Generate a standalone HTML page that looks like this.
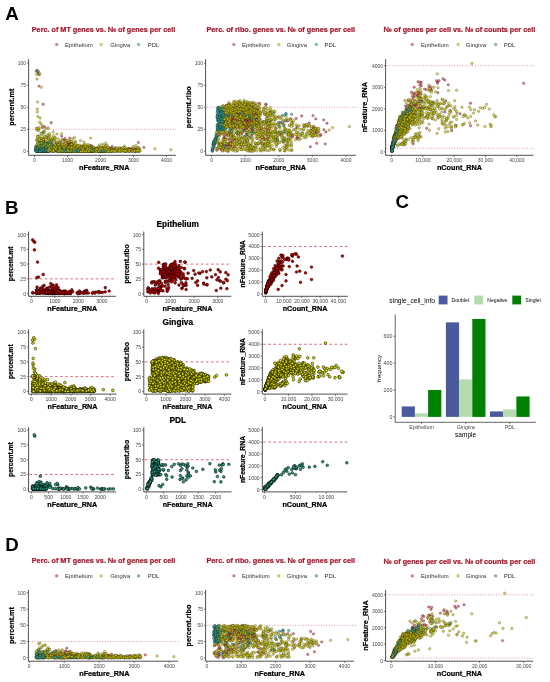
<!DOCTYPE html>
<html><head><meta charset="utf-8"><style>html,body{margin:0;padding:0;background:#fff;width:550px;height:682px;overflow:hidden}</style></head><body><svg width="550" height="682" viewBox="0 0 550 682" style="display:block;filter:blur(0.3px)">
<defs><marker id="m0" markerUnits="userSpaceOnUse" markerWidth="4.34" markerHeight="4.34" refX="2.17" refY="2.17" overflow="visible"><circle cx="2.17" cy="2.17" r="1.22" fill="#e04858" fill-opacity="0.68" stroke="#000" stroke-opacity="0.55" stroke-width="0.45"/></marker><marker id="m1" markerUnits="userSpaceOnUse" markerWidth="4.34" markerHeight="4.34" refX="2.17" refY="2.17" overflow="visible"><circle cx="2.17" cy="2.17" r="1.22" fill="#dcd418" fill-opacity="0.68" stroke="#000" stroke-opacity="0.55" stroke-width="0.45"/></marker><marker id="m2" markerUnits="userSpaceOnUse" markerWidth="4.34" markerHeight="4.34" refX="2.17" refY="2.17" overflow="visible"><circle cx="2.17" cy="2.17" r="1.22" fill="#3aaea2" fill-opacity="0.68" stroke="#000" stroke-opacity="0.55" stroke-width="0.45"/></marker><marker id="m3" markerUnits="userSpaceOnUse" markerWidth="4.7" markerHeight="4.7" refX="2.35" refY="2.35" overflow="visible"><circle cx="2.35" cy="2.35" r="1.35" fill="#cc0000" fill-opacity="1" stroke="#000" stroke-opacity="1" stroke-width="0.5"/></marker><marker id="m4" markerUnits="userSpaceOnUse" markerWidth="4.7" markerHeight="4.7" refX="2.35" refY="2.35" overflow="visible"><circle cx="2.35" cy="2.35" r="1.35" fill="#e0e000" fill-opacity="1" stroke="#000" stroke-opacity="1" stroke-width="0.5"/></marker><marker id="m5" markerUnits="userSpaceOnUse" markerWidth="4.7" markerHeight="4.7" refX="2.35" refY="2.35" overflow="visible"><circle cx="2.35" cy="2.35" r="1.35" fill="#2f9e82" fill-opacity="1" stroke="#000" stroke-opacity="1" stroke-width="0.5"/></marker></defs>
<g font-family='"Liberation Sans", sans-serif'>
<rect width="550" height="682" fill="#fff"/>
<text x="5.2" y="13.5" font-size="18.7" text-anchor="start" font-weight="bold" fill="#000" dominant-baseline="central">A</text>
<text x="5.1" y="207" font-size="18.7" text-anchor="start" font-weight="bold" fill="#000" dominant-baseline="central">B</text>
<text x="395.5" y="201.3" font-size="18.7" text-anchor="start" font-weight="bold" fill="#000" dominant-baseline="central">C</text>
<text x="5.2" y="544" font-size="18.7" text-anchor="start" font-weight="bold" fill="#000" dominant-baseline="central">D</text>
<text x="103.5" y="29.4" font-size="7.25" text-anchor="middle" font-weight="bold" fill="#a5162a" dominant-baseline="central" stroke="#a5162a" stroke-width="0.22">Perc. of MT genes vs. № of genes per cell</text>
<text x="280.8" y="29.4" font-size="7.25" text-anchor="middle" font-weight="bold" fill="#a5162a" dominant-baseline="central" stroke="#a5162a" stroke-width="0.22">Perc. of ribo. genes vs. № of genes per cell</text>
<text x="459.5" y="29.6" font-size="7.25" text-anchor="middle" font-weight="bold" fill="#a5162a" dominant-baseline="central" stroke="#a5162a" stroke-width="0.22">№ of genes per cell vs. № of counts per cell</text>
<circle cx="56.7" cy="44.5" r="1.35" fill="#e04858" fill-opacity="0.75" stroke="#000" stroke-opacity="0.4" stroke-width="0.4"/>
<text x="65.1" y="44.5" font-size="5.95" text-anchor="start" font-weight="normal" fill="#333" dominant-baseline="central">Epithelium</text>
<circle cx="101.2" cy="44.5" r="1.35" fill="#dcd418" fill-opacity="0.75" stroke="#000" stroke-opacity="0.4" stroke-width="0.4"/>
<text x="110.2" y="44.5" font-size="5.95" text-anchor="start" font-weight="normal" fill="#333" dominant-baseline="central">Gingiva</text>
<circle cx="138.6" cy="44.5" r="1.35" fill="#3aaea2" fill-opacity="0.75" stroke="#000" stroke-opacity="0.4" stroke-width="0.4"/>
<text x="147.7" y="44.5" font-size="5.95" text-anchor="start" font-weight="normal" fill="#333" dominant-baseline="central">PDL</text>
<circle cx="233.9" cy="44.5" r="1.35" fill="#e04858" fill-opacity="0.75" stroke="#000" stroke-opacity="0.4" stroke-width="0.4"/>
<text x="242" y="44.5" font-size="5.95" text-anchor="start" font-weight="normal" fill="#333" dominant-baseline="central">Epithelium</text>
<circle cx="278.8" cy="44.5" r="1.35" fill="#dcd418" fill-opacity="0.75" stroke="#000" stroke-opacity="0.4" stroke-width="0.4"/>
<text x="286.8" y="44.5" font-size="5.95" text-anchor="start" font-weight="normal" fill="#333" dominant-baseline="central">Gingiva</text>
<circle cx="316.4" cy="44.5" r="1.35" fill="#3aaea2" fill-opacity="0.75" stroke="#000" stroke-opacity="0.4" stroke-width="0.4"/>
<text x="324.5" y="44.5" font-size="5.95" text-anchor="start" font-weight="normal" fill="#333" dominant-baseline="central">PDL</text>
<circle cx="412.3" cy="44.5" r="1.35" fill="#e04858" fill-opacity="0.75" stroke="#000" stroke-opacity="0.4" stroke-width="0.4"/>
<text x="421" y="44.5" font-size="5.95" text-anchor="start" font-weight="normal" fill="#333" dominant-baseline="central">Epithelium</text>
<circle cx="458.1" cy="44.5" r="1.35" fill="#dcd418" fill-opacity="0.75" stroke="#000" stroke-opacity="0.4" stroke-width="0.4"/>
<text x="465.8" y="44.5" font-size="5.95" text-anchor="start" font-weight="normal" fill="#333" dominant-baseline="central">Gingiva</text>
<circle cx="495.7" cy="44.5" r="1.35" fill="#3aaea2" fill-opacity="0.75" stroke="#000" stroke-opacity="0.4" stroke-width="0.4"/>
<text x="503.8" y="44.5" font-size="5.95" text-anchor="start" font-weight="normal" fill="#333" dominant-baseline="central">PDL</text>
<path d="M29.6,129.26H177.8" stroke="#e06a7a" stroke-width="0.8" stroke-dasharray="1 1.6" opacity="0.85"/>
<path d="M206.6,107.23H357.8" stroke="#e06a7a" stroke-width="0.8" stroke-dasharray="1 1.6" opacity="0.85"/>
<path d="M386.6,65.7H535.2" stroke="#e06a7a" stroke-width="0.8" stroke-dasharray="1 1.6" opacity="0.85"/>
<path d="M386.6,148.24H535.2" stroke="#e06a7a" stroke-width="0.8" stroke-dasharray="1 1.6" opacity="0.85"/>
<path d="M79.3 149.5 76.1 150.7 59.4 148.4 58.5 149.2 59.1 148.2 56.1 149.3 36.3 71.1 143.9 147.4 49.9 148.8 65.7 148.3 68.1 150.5 54.1 147.6 72.5 146.2 108.9 147.9 72.9 146.5 109.7 147.9 44.6 126.6 61.0 149.2 78.1 149.8 70.5 141.5 69.1 149.1 36.3 150.0 46.1 150.2 59.3 150.9 70.5 150.3 63.5 145.6 108.6 150.1 52.5 149.9 114.7 150.5 62.0 147.3 64.9 149.9 62.1 147.2 53.1 150.3 41.6 146.4 43.8 147.8 58.6 148.5 64.3 150.8 58.0 147.0 49.2 143.7 124.0 150.5 111.5 150.4 55.6 149.5 51.7 150.0 79.7 147.7 88.7 150.8 51.3 149.9 86.2 150.0 66.5 147.5 107.4 150.2 74.1 148.7 46.6 150.5 71.4 148.1 88.3 150.7 71.4 147.0 54.0 147.9 48.0 150.1 84.6 150.5 42.7 141.6 112.2 146.4 49.2 148.3 51.2 122.7 129.2 150.1 80.4 149.7 58.7 147.4 81.8 150.8 69.4 147.0 67.0 146.8 69.4 150.4 53.6 149.9 53.3 148.6 64.6 150.5 56.5 144.1 39.3 74.7 60.0 141.8 64.3 150.8 74.1 147.5 66.9 151.2 68.8 149.8 43.5 148.3 101.6 150.4 70.9 143.5 54.8 146.6 59.2 150.2 51.8 148.2 73.9 151.1 50.7 148.5 70.4 145.4 77.1 149.2 69.2 150.2 56.1 150.4 41.6 150.3 63.4 146.3 51.0 140.2 74.2 147.2 65.5 147.6 59.1 148.4 38.9 86.1 50.5 144.0 69.2 145.6 62.5 147.6 75.6 148.9 55.5 149.0 64.9 140.4 69.6 150.3 62.8 148.9 46.6 148.1 71.6 150.2 56.8 148.3 69.1 141.8 47.6 142.9 84.4 149.8 48.2 148.5 63.0 140.0 66.3 151.1 52.5 139.2 59.3 148.0 89.9 151.1 58.9 150.2 56.2 149.3 54.5 145.7 76.5 150.8 81.4 151.3 74.0 148.4 103.0 150.6 54.2 146.2 125.0 149.1 75.2 147.1 62.8 148.2 57.6 150.8 48.8 144.6 62.2 149.9 80.4 150.9 74.6 150.8 60.4 148.0 42.5 150.4 112.6 150.4 72.2 142.6 61.7 147.0 51.7 148.1 87.9 148.5 86.2 151.0 55.8 149.1 48.0 148.7 64.2 144.2" fill="none" stroke="none" marker-start="url(#m0)" marker-mid="url(#m0)" marker-end="url(#m0)"/>
<path d="M102.6 148.2 60.2 149.5 80.8 151.2 71.6 150.4 81.1 150.8 71.6 146.2 41.6 150.3 38.1 73.4 42.3 146.2 120.3 150.8 37.1 150.4 61.7 136.2 105.5 150.1 72.2 149.7 54.9 150.8 45.9 150.5 58.9 150.1 68.6 143.4 76.9 149.7 56.7 147.0 138.4 142.5 100.9 151.1 65.2 149.9 64.0 151.0 60.4 150.9 66.9 148.7 57.4 149.7 61.1 149.9 74.6 150.1 42.7 144.9" fill="none" stroke="none" marker-start="url(#m0)" marker-mid="url(#m0)" marker-end="url(#m0)"/>
<path d="M80.6 149.7 66.8 150.7 43.5 149.6 51.8 149.9 123.8 150.6 43.7 149.1 98.1 150.8 66.2 149.4 45.1 141.5 59.4 150.4 42.4 125.7 136.4 151.2 62.5 150.7 64.9 151.1 50.6 148.6 85.5 151.2 68.2 149.1 66.6 151.2 47.1 146.4 88.0 150.2 41.6 149.7 61.7 150.9 86.3 149.0 41.6 150.8 40.8 150.7 64.9 150.7 91.7 151.3 93.3 149.9 120.9 151.0 102.9 150.8 65.3 151.0 139.1 150.7 45.8 145.7 38.5 151.0 91.5 148.6 48.3 145.0 78.5 147.0 133.2 148.6 93.0 150.7 71.9 149.5 53.4 149.8 88.5 150.9 93.3 151.2 50.7 147.4 103.9 150.7 59.4 150.7 36.5 150.9 48.0 150.1 65.0 148.3 92.9 148.7 117.0 150.3 58.0 151.0 115.1 151.0 73.8 145.6 64.7 150.1 64.9 150.0 48.2 137.8 96.3 151.1 55.8 148.7 49.0 145.6 111.9 150.5 44.5 149.7 79.8 150.8 119.2 150.1 86.5 149.2 95.4 148.0 56.9 150.2 75.1 150.1 124.5 149.5 40.7 144.5 131.7 150.3 62.6 149.8 91.0 148.7 86.7 150.0 120.5 150.5 106.4 148.6 99.0 151.1 76.6 145.5 77.6 150.1 135.7 150.5 66.3 150.0 46.3 143.3 117.6 148.9 66.7 149.8 60.7 151.0 90.9 150.7 65.8 151.0 51.7 143.5 80.2 149.3 63.8 150.3 89.2 148.0 100.3 149.6 74.3 147.3 44.4 142.6 45.2 149.4 69.0 149.0 101.5 149.7 105.6 150.8 50.6 139.2 75.0 149.7 101.5 151.1 47.5 150.6 57.0 146.6 125.0 150.8 65.6 148.9 49.7 142.8 46.5 137.0 130.6 150.3 43.8 151.1 78.6 150.5 104.1 150.6 64.2 149.8 49.1 146.8 99.0 151.2 64.6 150.1 50.2 148.7 41.1 124.0 36.9 148.3 114.7 148.5 72.3 150.9 106.6 151.1 44.4 137.4 92.6 149.7 109.2 151.2 65.3 151.1 45.4 145.4 84.1 145.1 87.2 151.0 44.3 151.1 61.0 147.9 135.0 151.1 87.8 151.2 77.1 148.5 103.0 149.0 42.1 149.1 73.7 150.9 61.5 150.0 75.2 150.0 40.0 150.2 62.5 150.9 41.2 142.4 79.3 149.4 57.4 144.3 49.4 148.7 97.9 149.8 47.8 142.8 46.7 145.7 37.7 145.8 89.1 149.4 45.3 144.2 87.2 148.2 80.9 147.6 76.2 150.2 80.2 150.6 41.1 148.9 93.1 149.2 131.3 148.6 64.0 150.8 79.3 149.4 41.6 142.5 48.9 150.8 135.9 151.2 89.8 151.3 68.6 150.3 51.5 148.4 58.2 138.9 37.6 135.9 53.3 131.9 104.4 150.3 44.7 147.7 133.8 150.6 89.0 150.8 105.6 149.5 79.5 147.3 62.4 149.7 63.1 150.8 123.5 150.6 70.8 150.7 45.0 142.4 125.4 148.7 92.0 146.7 85.3 149.7 91.5 149.5 59.6 150.8 110.1 149.9 67.9 151.1 117.5 149.4 53.4 150.6 84.6 151.2 57.4 150.4 71.8 150.3 53.0 148.0 42.8 151.1 97.6 147.8 90.9 148.5 87.8 151.3 84.0 142.2 90.0 145.5 139.1 150.2 103.6 149.8 79.3 150.4 37.2 149.6 49.4 149.4 136.8 148.5 98.3 148.8 74.8 149.8 40.1 144.0 132.8 149.0 48.3 136.9 71.9 149.6 100.7 151.0 57.8 151.2 60.9 150.7 94.6 150.6 128.0 151.0 45.6 150.1 98.4 149.0 71.2 149.5 63.7 149.6 72.6 150.9 41.5 149.2 69.4 144.3 103.6 148.4 71.6 149.8 62.7 150.0 98.4 151.1 88.2 146.4 116.7 151.2 98.7 147.5 68.8 150.3 57.9 144.7 39.4 149.9 133.9 149.9 38.6 141.5 52.3 147.3 61.5 150.6 81.9 150.7 65.9 150.9 106.7 150.3 98.7 150.9 41.7 138.4 55.1 147.4 76.2 150.9 46.8 135.1 63.8 150.5 81.7 146.9 64.8 150.4 126.2 151.0 105.5 150.6 41.5 149.5 69.8 150.3 127.4 150.8 111.9 151.0 83.8 145.1 90.3 147.0 39.5 139.5 50.9 150.0 55.1 146.9 99.8 150.6 75.2 150.4 82.2 150.8 66.6 146.1 72.2 150.6 44.6 131.4 48.0 143.5 132.7 150.1 97.2 149.3 37.6 151.2 86.4 149.2 74.1 150.7 59.6 150.1 56.1 142.3 98.2 151.0 55.0 149.3 102.4 150.9 100.2 149.4 89.8 151.1 42.3 148.9 69.5 150.7 63.9 150.2 47.1 150.4 90.0 147.6 79.9 150.4 85.2 149.1 83.8 151.1 45.2 136.6 138.1 149.2 88.1 150.6 109.4 150.3 54.3 147.3 40.5 150.7 69.2 150.9 112.1 148.9 61.8 147.4 55.2 151.0 133.0 150.4 136.7 150.4 73.0 150.2 99.1 149.8 86.3 151.3 39.8 73.7 138.3 150.1 72.1 147.7 42.3 150.4 55.5 145.1 64.4 147.6 52.1 150.4 53.4 148.1 124.1 150.4 53.0 150.6 57.5 150.7 89.5 150.6 120.4 148.0 120.3 149.5 47.1 150.2 64.9 146.4 47.4 148.9 102.8 151.2 67.9 151.2 39.4 147.6 72.6 150.0 42.2 147.2 52.7 149.5 72.8 149.1 51.9 150.7 103.6 151.3 40.8 150.5 73.9 150.7 104.9 148.6 89.7 149.3 101.5 147.7 65.7 151.1 36.8 140.1 37.6 150.9 77.9 149.2 65.3 147.6 78.2 151.3 48.9 142.8 43.0 148.3 131.9 151.0 45.8 150.7 85.7 149.4 111.7 150.4 103.6 147.7 63.1 151.0 88.2 148.0 62.9 149.4 58.5 151.1 104.1 150.5 85.8 148.5 112.2 151.0 61.9 139.7 36.5 74.6 136.2 149.2 104.4 150.5 76.5 150.6 66.1 149.5 104.8 146.7 62.9 150.3 43.9 140.3 81.0 149.7 90.7 150.9 56.5 151.1 66.5 150.3 87.2 147.3 116.5 150.8 132.6 148.9 65.1 149.6 105.4 145.8 82.3 150.1 69.8 150.4 74.1 144.0" fill="none" stroke="none" marker-start="url(#m1)" marker-mid="url(#m1)" marker-end="url(#m1)"/>
<path d="M48.5 146.4 46.4 150.9 39.6 151.1 41.7 147.8 39.9 150.6 47.3 148.4 102.3 151.2 38.3 149.9 48.2 150.8 39.5 150.9 43.7 151.0 39.2 149.2 46.8 150.8 39.6 141.6 47.3 146.7 37.2 151.2 54.9 150.5 70.5 151.2 42.1 151.1 38.5 149.8 42.4 150.1 48.2 150.9 47.5 150.1 45.4 150.5 41.9 150.8 46.2 150.5 45.8 150.2 43.8 151.1 40.0 148.8 47.8 146.1 45.9 151.2 61.0 150.6 41.3 149.9 39.6 150.4 39.9 148.7 38.1 146.8 98.0 149.7 37.1 150.9 40.9 147.7 46.6 150.7 45.5 148.1 46.9 149.1 42.0 151.0 48.2 150.1 52.2 148.5 47.2 150.9 46.7 151.2 73.5 150.1 41.8 147.6 35.9 149.5 35.8 147.7 59.2 142.5 40.3 146.1 94.2 150.9 42.7 150.3 48.9 150.5 108.2 151.1 43.6 149.0" fill="none" stroke="none" marker-start="url(#m2)" marker-mid="url(#m2)" marker-end="url(#m2)"/>
<path d="M46.9 145.9 78.7 150.8 101.8 149.6 80.9 149.7 67.7 151.0 50.6 147.2 54.7 148.4 61.0 149.3 89.2 149.0 41.8 150.9 53.2 149.9 73.1 150.5 73.3 149.7 68.6 142.3 46.6 148.3 67.2 148.8 99.4 151.1 67.3 144.7 63.0 150.8 59.1 148.4 63.0 149.1 48.8 148.7 42.2 127.5 138.3 148.7 46.7 148.8 50.2 149.4 79.8 150.2 121.3 149.5 75.1 149.5 64.5 144.4" fill="none" stroke="none" marker-start="url(#m0)" marker-mid="url(#m0)" marker-end="url(#m0)"/>
<path d="M51.4 150.8 69.6 150.0 49.8 149.8 63.9 150.4 99.6 150.9 72.8 149.8 63.5 146.5 40.8 151.2 88.8 147.3 130.3 150.9 102.6 150.0 56.5 150.0 48.2 145.1 90.1 151.3 107.2 149.8 81.9 149.4 42.2 149.7 43.6 149.6 83.6 148.1 49.6 136.1 75.8 150.0 66.2 149.7 60.2 149.7 92.4 151.0 115.2 147.9 51.1 149.5 79.4 149.7 58.1 151.2 60.5 150.0 72.9 151.1 37.4 149.6 65.4 146.7 98.9 146.4 62.6 149.0 75.8 151.3 40.0 143.2 134.6 150.8 105.0 150.1 81.4 148.1 103.2 151.2 77.5 145.4 107.1 150.8 120.9 148.4 78.2 151.0 109.2 150.8 55.7 149.9 55.4 149.5 72.3 150.6 86.1 150.7 71.1 141.4 66.5 146.9 120.0 150.0 60.4 146.7 74.0 147.2 75.5 141.3 134.3 149.8 72.1 149.1 85.4 150.9 41.9 150.5 65.7 140.4 78.8 150.4 49.8 148.3 78.7 150.2 100.4 148.7 100.6 151.0 60.2 149.3 45.4 149.6 41.0 151.1 38.8 144.6 45.0 144.6 37.5 149.5 44.3 148.8 59.6 151.2 124.4 151.2 72.7 150.0 46.8 145.1 89.4 150.8 102.8 151.1 96.5 148.3 62.4 148.7 78.0 151.2 102.4 151.1 83.7 149.5 41.8 150.7 61.2 150.4 51.6 139.5 124.3 146.0 91.6 151.2 56.7 144.0 51.0 150.4 66.0 151.0 83.0 146.7 38.8 149.9 47.6 149.7 109.3 151.2 71.2 148.3 37.6 144.3 80.9 147.3 170.8 149.8 56.3 149.9 46.6 149.5 55.5 148.6 50.4 147.8 75.2 147.6 118.5 149.7 44.9 151.3 64.0 149.2 46.1 143.4 81.8 148.6 36.8 147.2 89.0 148.2 57.0 150.8 66.1 150.1 105.3 150.8 37.7 150.2 91.1 149.8 80.2 151.0 45.8 149.4 84.6 148.6 58.3 150.8 100.9 151.0 63.4 148.8 48.8 148.5 70.1 149.8 117.5 151.0 65.9 150.2 105.0 150.8 37.4 140.8 75.6 148.9 62.1 150.6 74.9 150.5 110.4 150.9 38.6 148.1 106.6 150.8 88.4 151.3 70.1 144.2 82.6 148.0 104.5 150.9 45.7 151.1 98.5 150.6 53.9 139.9 65.4 150.3 58.9 149.1 101.8 149.8 126.3 148.5 61.0 149.4 39.6 144.2 110.9 148.9 97.8 151.1 70.4 151.1 138.2 150.5 57.3 149.2 105.7 150.4 42.2 146.3 62.6 150.1 51.3 141.0 126.7 150.2 79.5 146.8 132.1 149.7 55.8 150.1 104.6 150.5 45.0 128.3 107.3 150.8 138.7 150.8 63.8 151.3 123.6 149.3 48.5 138.9 53.8 147.6 89.8 149.5 87.9 151.2 41.3 149.4 124.4 149.7 107.1 145.3 70.0 145.1 109.1 151.2 54.1 150.9 97.4 151.3 41.8 147.3 80.4 147.5 58.5 150.2 114.1 149.5 85.0 150.1 51.2 143.9 51.5 149.2 72.7 150.9 53.0 149.0 64.7 150.8 42.7 151.1 70.0 150.7 83.2 151.1 37.3 139.9 45.4 150.9 65.0 149.8 109.4 148.7 111.5 149.7 118.3 151.2 110.3 151.3 46.6 146.3 62.8 148.6 94.2 149.5 62.8 150.7 44.2 143.2 93.6 149.5 55.6 146.0 40.1 118.0 130.3 149.5 49.8 149.4 42.2 150.8 49.3 148.8 66.7 149.0 86.5 147.1 47.7 150.9 75.2 150.4 40.4 147.1 92.1 150.7 133.8 150.2 135.1 149.7 78.0 148.1 130.0 151.2 101.6 151.1 52.1 148.7 45.6 149.5 45.0 150.8 58.9 149.3 62.3 149.6 86.6 149.5 48.3 150.5 138.8 151.3 70.1 149.7 134.6 148.0 86.5 149.9 67.6 150.6 84.2 150.4 38.8 146.3 50.1 145.7 104.9 149.1 118.1 150.5 62.6 150.3 59.1 146.4 126.2 151.2 84.6 149.2 52.7 145.0 42.9 151.3 39.0 143.1 81.2 148.6 139.3 150.9 51.4 151.2 111.5 150.9 132.4 150.7 124.1 151.2 58.3 142.4 69.9 150.2 44.7 151.1 82.0 151.2 100.8 150.8 57.2 146.6 118.1 150.1 86.9 146.7 80.0 148.6 58.0 146.1 36.6 149.3 79.6 151.2 90.8 151.0 44.9 149.4 98.3 149.5 40.4 143.9 78.1 149.6 113.8 150.5 134.9 151.1 93.7 147.7 79.1 149.5 38.6 150.6 73.4 151.2 65.8 148.1 126.0 150.8 54.7 148.8 82.8 150.3 84.5 150.4 101.9 150.5 62.5 140.6 84.3 148.8 67.2 149.5 72.7 145.9 68.3 146.4 113.1 150.8 118.3 150.9 36.7 144.8 59.5 150.9 105.7 149.1 88.2 151.2 100.4 149.9 43.4 132.1 61.2 149.6 57.2 146.1 37.6 148.1 47.2 150.8 98.0 150.6 66.4 151.1 132.1 151.3 128.5 150.3 71.7 149.5 138.5 150.0 133.3 146.5 59.9 150.0 137.5 151.0 36.7 151.0 50.6 150.7 69.7 150.2 80.1 148.7 55.5 147.9 95.8 150.8 43.2 141.1 61.3 149.9 67.8 150.0 44.4 149.7 45.9 148.3 55.0 137.3 64.0 145.2 68.1 151.1 106.3 148.9 49.4 150.9 68.9 150.5 45.7 149.1 56.6 148.6 69.9 144.7 68.0 149.4 38.0 150.1 46.9 149.6 45.7 145.1 119.3 150.9 72.0 150.5 37.9 147.9 86.5 148.1 59.3 149.9 114.8 148.8 133.6 149.0 61.3 149.9 91.8 146.7 61.3 145.3 37.6 151.0 47.6 128.4 127.3 150.7 133.6 150.9 46.6 146.3 63.4 151.3 129.1 149.8 80.3 150.7 37.0 79.0 41.6 147.0 55.8 146.4 99.8 150.7 88.1 148.2 85.8 150.8 91.6 151.1 68.2 149.2 63.4 150.6 113.9 150.9 61.0 143.4 82.9 146.3 96.4 148.6 103.8 151.2 71.2 150.2 55.7 148.9 106.7 148.5 57.9 151.1 67.4 140.2 57.6 150.8 85.8 151.0 90.8 151.0 63.7 145.6 73.0 138.7 87.8 151.2" fill="none" stroke="none" marker-start="url(#m1)" marker-mid="url(#m1)" marker-end="url(#m1)"/>
<path d="M41.8 150.2 44.3 144.3 44.3 145.5 37.5 150.1 45.9 150.7 110.4 150.6 38.7 151.1 62.2 151.0 39.3 150.0 38.4 150.6 93.2 150.9 43.7 149.1 37.9 149.1 36.7 151.1 36.6 150.1 40.0 148.3 36.5 150.3 40.1 143.2 42.8 150.8 36.6 151.0 39.1 150.5 36.4 149.5 44.4 148.1 46.0 150.0 69.2 150.7 44.9 150.3 36.1 150.3 46.8 148.9 37.1 70.2 37.0 151.3 41.8 139.8 43.6 144.2 68.5 149.7 59.5 150.7 36.6 149.8 37.0 149.5 41.3 145.9 40.6 149.9 43.7 140.7 68.7 151.2 102.0 150.5 37.8 146.0 113.1 150.9 65.4 151.0 43.2 151.1 42.7 150.2 48.1 147.2 43.5 148.3 39.9 150.5 37.8 151.3 37.3 147.2 35.8 150.2 69.2 149.6 48.4 150.6 38.5 151.2 42.8 148.9 61.6 151.0 40.6 150.5" fill="none" stroke="none" marker-start="url(#m2)" marker-mid="url(#m2)" marker-end="url(#m2)"/>
<path d="M63.4 150.3 99.0 149.7 91.4 145.6 44.7 149.1 74.7 150.6 57.5 150.2 53.8 148.8 71.3 149.4 68.4 149.9 73.5 148.1 102.1 147.6 67.3 142.6 131.8 149.4 92.5 148.5 69.9 138.1 54.3 149.5 47.6 144.5 71.4 150.8 83.9 151.1 129.3 148.8 67.3 150.3 48.3 149.0 108.6 150.6 63.3 148.4 49.6 150.6 82.0 149.9 87.1 148.8 45.6 148.1 44.6 150.7" fill="none" stroke="none" marker-start="url(#m0)" marker-mid="url(#m0)" marker-end="url(#m0)"/>
<path d="M99.5 150.3 64.0 143.6 65.7 147.8 62.9 145.1 103.7 145.7 65.3 142.2 53.7 150.9 61.6 133.7 49.2 142.0 43.0 146.5 70.2 150.3 131.8 151.1 98.9 150.7 56.1 149.9 103.4 149.7 135.0 151.3 37.4 146.6 50.8 145.7 83.8 151.0 59.7 145.0 44.1 132.3 46.0 144.3 55.0 144.8 104.8 147.2 56.6 148.8 52.4 137.8 67.8 147.3 154.9 148.7 81.4 149.5 66.5 151.0 40.6 147.2 100.6 149.8 40.8 150.4 89.2 149.3 74.5 147.9 55.1 139.0 111.6 149.1 44.9 149.5 68.4 151.2 108.6 151.2 99.5 144.9 45.4 147.1 93.0 151.2 54.1 149.6 54.0 148.8 72.4 149.5 65.9 150.8 101.5 149.7 133.2 148.3 120.4 148.9 58.8 146.2 38.8 150.3 61.4 148.0 65.6 143.7 65.8 150.8 119.1 147.7 71.9 150.9 91.0 150.4 93.6 148.7 77.0 148.0 77.5 148.3 57.5 149.3 36.5 128.2 64.8 146.0 138.7 150.3 75.8 145.7 47.0 151.0 92.7 149.4 106.5 150.2 69.2 150.8 80.7 145.9 41.4 133.3 72.1 150.8 60.1 149.8 83.5 150.4 64.5 150.1 57.0 142.7 103.1 151.2 116.2 148.0 101.0 147.1 81.1 146.6 60.5 149.7 105.7 143.1 44.1 150.4 121.5 150.8 87.3 144.7 46.8 144.5 121.7 148.8 63.6 146.7 103.3 150.5 68.2 148.8 97.6 150.9 44.1 150.1 95.2 151.2 44.2 149.8 99.2 149.6 52.7 151.1 78.8 150.1 41.4 138.2 51.1 149.0 59.2 148.3 84.0 145.9 54.7 149.1 45.8 148.7 55.9 148.7 76.4 149.8 50.8 143.5 110.0 149.0 45.7 149.2 93.1 147.1 67.1 150.8 78.9 151.0 90.8 148.9 63.7 150.5 59.5 150.0 76.1 149.5 65.0 148.8 79.8 145.0 89.0 149.1 102.6 150.0 72.6 148.8 48.5 150.8 55.0 146.6 71.4 149.0 43.8 149.6 43.3 141.0 41.3 148.7 79.3 149.2 95.8 151.2 89.2 148.8 90.4 146.7 109.6 150.7 60.9 150.9 135.1 151.0 72.5 148.4 111.9 151.3 64.8 150.1 138.0 147.6 60.8 148.7 38.4 71.1 90.5 150.5 87.2 146.7 90.7 151.3 68.1 148.5 86.2 149.5 74.7 144.7 53.6 140.2 68.0 147.9 107.5 148.1 45.5 143.9 57.5 150.5 92.3 150.6 38.3 136.6 66.4 151.1 44.4 149.4 47.6 146.6 131.2 150.6 41.4 87.3 95.4 150.0 80.5 140.6 105.9 146.0 63.9 148.4 52.2 149.0 67.2 150.9 135.6 150.2 61.0 150.1 66.1 148.4 75.3 142.6 61.6 144.1 51.5 148.3 71.1 144.0 92.4 151.1 55.8 147.5 58.0 150.8 57.8 145.8 71.7 149.5 40.7 151.3 81.1 150.6 124.4 150.1 101.3 149.5 88.3 150.6 70.9 148.2 101.4 150.2 53.1 149.9 97.8 150.6 42.2 149.2 71.4 150.8 73.7 151.1 37.0 130.0 41.2 151.0 125.5 151.0 36.6 150.4 39.7 148.8 117.8 149.3 118.6 150.2 66.1 149.8 106.0 150.2 58.7 149.9 61.4 147.3 45.9 148.5 70.7 145.7 82.3 150.1 50.0 148.1 89.4 149.8 76.6 150.9 48.8 151.3 118.1 150.2 56.0 145.9 76.5 146.8 93.4 149.8 43.3 138.8 41.5 149.8 103.6 151.0 60.0 145.2 139.9 150.7 122.9 147.6 47.3 151.1 101.2 150.6 52.5 150.5 91.3 149.5 84.0 150.6 60.3 149.1 129.0 149.5 63.1 150.2 90.7 151.1 65.0 149.5 37.6 142.6 48.8 134.1 68.9 149.0 96.4 148.7 41.2 146.0 101.1 150.0 122.5 150.6 42.0 151.3 49.8 146.1 87.5 149.4 128.5 149.8 84.1 150.7 43.0 150.2 38.5 130.1 129.2 150.5 48.3 128.1 121.3 150.6 57.7 151.0 69.3 149.9 38.1 151.1 62.5 151.0 81.1 147.9 97.5 149.2 88.2 149.9 125.9 150.4 72.8 151.2 93.2 150.3 39.0 143.7 42.2 148.9 87.5 151.2 37.7 148.0 53.7 150.8 44.6 148.4 55.2 146.1 38.5 128.4 49.3 143.4 138.5 151.0 116.0 151.2 84.1 150.2 126.0 151.2 51.7 150.2 66.6 150.1 87.5 148.0 105.4 149.2 50.7 146.8 79.7 147.9 53.7 141.4 103.1 151.2 49.1 150.8 38.0 151.0 50.2 148.8 36.7 151.0 51.0 149.2 106.9 148.8 44.5 146.7 128.6 151.0 39.5 122.2 54.4 150.0 70.3 148.3 99.6 148.7 66.5 149.2 50.3 150.3 53.7 149.4 129.3 150.2 57.5 149.3 100.7 150.8 107.3 151.0 38.7 149.2 57.7 150.8 92.4 150.7 55.3 146.9 43.4 139.7 85.2 144.8 61.4 149.7 65.8 150.6 80.1 149.9 51.5 145.3 75.0 150.8 80.8 149.9 79.1 151.1 61.5 150.0 89.7 150.3 62.5 149.6 106.8 147.6 126.2 150.0 68.7 146.9 115.4 150.3 129.5 151.1 39.4 149.3 50.7 150.7 38.3 151.0 97.3 150.5 50.0 145.4 53.9 146.6 44.5 150.4 40.8 136.6 66.1 150.9 95.3 151.1 64.2 148.7 43.4 149.4 78.3 147.7 73.1 149.7 60.3 151.3 96.8 148.6 115.0 149.7 37.9 147.8 90.3 147.4 47.9 151.2 54.0 150.8 82.4 148.9 96.5 151.1 38.7 151.1 59.8 148.6 121.6 150.6 60.1 150.6 76.8 151.1 41.6 148.2 51.9 150.7 66.4 149.0 71.9 147.1 53.5 148.5 138.2 151.2 60.8 147.9 46.9 150.0 93.2 147.8 127.9 148.7 120.9 151.2 58.9 151.2 49.0 148.9 65.8 147.8 56.6 150.8 44.6 139.5 59.2 150.4 57.2 147.5 69.4 148.7 41.2 150.7 61.6 145.6 63.4 145.7 80.9 150.3 37.3 137.9 48.5 147.7 64.4 149.7 37.9 149.9 80.1 150.4 124.9 147.7 95.9 149.8" fill="none" stroke="none" marker-start="url(#m1)" marker-mid="url(#m1)" marker-end="url(#m1)"/>
<path d="M69.2 149.1 59.9 145.1 36.3 149.8 40.3 149.6 35.6 149.6 40.6 148.7 38.5 147.6 79.2 151.2 39.4 150.7 37.8 72.0 60.9 151.1 41.8 145.3 43.8 150.1 35.6 146.4 39.8 149.2 41.3 150.8 103.9 151.1 47.0 147.0 49.5 145.9 41.5 147.7 38.8 148.8 45.4 151.0 36.9 150.7 77.0 150.9 93.4 150.9 37.4 147.3 40.4 151.0 47.8 146.8 35.9 151.1 43.5 142.8 80.6 150.9 49.6 144.1 48.6 148.9 48.2 149.8 48.8 151.3 42.9 148.1 38.2 151.1 86.6 149.4 70.5 151.1 41.0 150.7 47.3 151.3 47.7 150.9 60.6 150.9 42.7 150.3 43.8 146.7 52.1 142.7 45.1 147.8 35.9 149.1 39.5 150.4 44.6 150.9 43.6 150.8 57.6 144.2 49.1 148.3 35.8 147.3 40.2 149.7 52.9 146.8 51.5 144.9 44.6 151.2" fill="none" stroke="none" marker-start="url(#m2)" marker-mid="url(#m2)" marker-end="url(#m2)"/>
<path d="M56.7 150.2 134.4 149.5 71.0 147.0 72.6 149.0 42.9 148.8 75.4 149.5 71.8 144.0 49.7 149.4 55.2 148.6 64.9 138.6 75.0 149.8 129.0 148.5 56.4 143.3 71.5 148.2 41.9 150.4 57.5 150.6 71.1 148.7 70.4 145.3 80.2 148.7 53.9 148.4 82.4 147.3 61.5 149.7 64.6 150.1 111.3 148.5 61.4 147.8 62.9 149.8 46.4 150.4 43.2 104.2 59.0 149.2" fill="none" stroke="none" marker-start="url(#m0)" marker-mid="url(#m0)" marker-end="url(#m0)"/>
<path d="M53.4 135.5 62.1 145.9 54.6 150.1 37.2 109.0 41.3 146.1 64.3 150.1 71.8 144.2 71.0 151.0 49.6 144.6 86.5 149.5 69.4 147.0 112.2 150.4 72.5 147.9 66.8 151.2 47.7 150.8 95.2 150.6 43.4 139.6 73.8 142.9 93.8 151.1 64.6 150.4 92.9 149.7 67.8 151.2 66.1 149.2 93.2 149.4 93.5 150.2 119.0 151.2 116.7 148.2 88.9 144.9 101.7 148.7 81.9 151.2 130.1 149.6 62.4 144.5 49.6 148.9 134.2 151.1 64.8 150.0 71.9 141.4 81.0 150.5 71.2 149.4 56.7 142.2 101.4 150.1 123.8 151.1 55.4 148.6 47.2 145.7 72.1 150.3 123.4 149.2 70.0 148.3 48.3 149.9 64.4 149.8 86.5 150.4 54.7 150.8 42.7 150.4 99.4 148.2 54.2 139.2 106.3 150.9 88.0 148.0 121.9 149.4 138.9 150.8 61.9 150.4 79.9 149.8 67.3 149.1 135.9 151.3 122.7 150.1 45.1 151.2 55.0 138.4 40.9 133.6 76.3 150.6 90.6 148.0 51.8 150.8 109.3 151.2 44.6 151.3 60.3 147.6 134.4 150.1 128.0 150.9 58.8 147.1 82.9 147.6 77.6 151.1 107.5 150.8 36.8 128.7 57.0 133.9 88.6 151.1 50.8 148.4 44.9 150.6 62.3 151.3 38.6 151.2 101.5 149.8 71.0 151.3 105.2 151.2 41.1 140.6 59.2 150.7 38.4 151.3 111.5 151.3 47.9 149.3 77.7 145.6 92.9 150.4 58.3 150.4 68.9 149.0 43.0 149.2 38.9 136.4 74.8 151.2 70.2 149.9 79.1 148.5 44.9 148.5 65.5 151.3 43.1 149.7 68.1 149.3 48.8 149.8 37.3 150.0 64.4 144.2 105.3 151.0 69.2 140.4 37.5 150.8 71.9 147.8 70.4 150.8 68.5 150.8 90.6 138.1 75.6 148.4 111.0 150.8 55.8 148.9 59.6 143.9 73.6 149.4 75.2 150.8 68.3 148.4 81.2 147.7 47.7 149.9 44.3 148.3 48.3 149.9 139.6 148.1 37.4 146.9 99.0 148.2 74.5 145.7 88.3 149.3 66.2 146.0 83.8 150.3 42.9 149.2 105.0 151.3 91.1 150.9 41.2 150.6 49.6 149.7 81.9 149.5 98.8 150.8 67.6 149.9 85.5 146.5 77.8 150.9 37.3 112.0 60.4 150.2 36.5 148.4 59.7 150.1 74.1 145.9 108.6 149.5 78.5 150.0 50.7 146.9 104.0 151.1 69.5 146.6 46.2 148.7 101.4 150.5 96.6 148.4 98.4 150.6 97.0 149.4 111.7 149.9 138.9 149.5 134.4 151.1 53.9 150.5 36.8 140.6 64.1 147.0 68.4 151.3 42.3 148.9 137.9 147.7 92.4 149.4 100.3 150.3 100.3 148.7 69.2 146.4 49.3 150.0 73.6 149.4 101.6 150.2 89.0 148.4 103.1 149.6 63.7 150.4 70.3 151.1 59.8 142.0 74.1 149.4 41.7 143.0 120.7 150.8 89.2 150.3 60.1 148.8 93.3 151.0 55.7 149.9 74.8 151.0 73.5 148.2 37.9 136.7 105.8 149.0 89.1 149.8 114.2 151.0 73.9 149.8 39.1 127.8 89.7 151.2 71.5 144.6 40.8 150.3 73.3 148.7 116.1 149.5 77.9 150.3 82.8 151.0 47.7 149.6 106.5 149.7 106.0 151.0 71.8 150.9 58.7 150.3 75.5 144.0 129.3 150.9 140.0 150.8 39.0 139.9 47.4 148.5 102.5 150.8 74.3 148.3 44.9 149.3 70.7 150.6 45.4 149.1 90.5 150.7 51.2 146.4 44.6 150.2 38.6 130.5 45.0 148.9 56.2 147.2 79.3 148.8 80.3 151.3 46.4 149.1 43.2 134.6 72.1 147.5 136.9 150.2 112.9 150.5 129.1 151.0 60.1 151.2 44.5 150.7 51.8 150.2 74.6 137.4 39.0 149.0 42.3 148.9 55.3 144.7 37.0 151.2 122.5 150.5 63.5 147.6 126.4 150.5 77.4 147.1 64.2 147.8 108.4 151.0 66.5 151.0 112.5 150.3 132.2 150.7 54.7 148.0 93.3 150.1 45.1 150.7 123.9 150.6 74.9 151.2 53.5 150.6 38.3 147.1 65.0 151.2 76.7 149.2 64.2 149.2 49.1 137.9 91.1 150.6 52.9 147.6 59.7 147.2 71.0 151.1 117.2 148.5 106.4 149.5 85.6 150.7 89.6 148.9 68.9 151.3 45.8 149.5 58.0 151.3 59.8 148.5 50.3 150.1 79.9 148.1 70.6 148.3 86.7 150.0 66.9 150.8 88.6 151.3 114.1 151.1 96.1 149.4 74.9 150.1 80.9 151.2 61.6 149.9 42.4 148.6 48.2 150.7 89.4 150.4 45.8 137.8 58.6 151.2 108.0 147.3 115.6 150.7 111.7 151.1 63.5 151.1 136.9 150.7 39.9 147.1 125.0 151.0 79.0 145.9 45.9 147.0 83.3 150.1 49.6 147.7 49.8 134.1 82.3 149.0 61.4 151.3 68.5 147.2 58.4 144.4 49.9 142.2 67.8 150.0 57.1 150.5 102.3 144.0 38.5 144.9 113.4 150.7 73.8 150.4 69.0 141.9 49.2 148.7 40.1 148.9 125.5 150.8 90.6 149.4 129.2 149.9 42.5 148.0 104.7 150.1 58.0 151.2 68.7 147.2 41.1 149.2 104.8 148.9 83.0 149.4 89.9 147.3 98.9 151.3 60.5 150.1 91.2 151.0 38.2 149.8 43.7 145.4 86.6 151.1 59.0 151.2 82.5 151.2 71.1 149.8 74.2 149.7 48.2 140.4 99.8 150.6 92.7 150.8 52.7 150.9 59.4 149.4 55.9 148.8 102.6 149.1 53.8 147.0 88.6 151.1 38.8 149.5 45.6 139.7 61.1 150.3 99.9 149.2 71.3 150.3 37.5 101.9 87.5 149.4 84.7 151.1 89.9 149.5 87.7 148.4 114.9 150.9 138.1 150.2 37.8 116.5 38.3 148.0 119.2 150.7 119.7 150.0 70.3 151.1 100.8 148.3 41.3 148.5 53.7 151.2 74.0 151.0 40.4 150.0 77.0 150.3 135.9 145.5 71.0 147.5 48.2 145.9 53.3 149.8 62.0 150.8 48.2 150.8 44.2 149.5" fill="none" stroke="none" marker-start="url(#m1)" marker-mid="url(#m1)" marker-end="url(#m1)"/>
<path d="M100.8 151.1 44.2 150.8 35.7 150.8 43.4 149.7 44.0 149.5 35.8 150.4 47.0 144.1 39.6 151.0 91.5 148.2 45.0 150.5 71.7 150.9 46.0 148.8 38.3 150.4 49.5 141.5 37.4 151.3 42.9 151.0 43.1 131.9 64.6 150.3 104.8 150.9 62.5 149.5 79.3 149.1 38.7 151.1 41.9 150.1 37.9 151.0 57.5 150.6 36.9 149.1 42.5 147.1 46.1 148.5 65.6 151.2 39.2 146.3 36.8 150.9 42.3 149.3 42.1 149.6 76.4 150.2 44.7 150.3 92.2 150.4 43.8 150.6 35.9 151.0 38.0 149.4 42.2 149.5 67.9 147.8 78.3 151.0 41.3 151.3 37.0 149.2 40.3 151.2 44.6 151.2 75.3 151.1 51.3 147.8 37.8 148.6 103.0 151.1 45.3 149.8 39.9 151.3 36.9 151.1 45.7 150.6 37.3 148.9 41.7 150.8 43.5 149.3" fill="none" stroke="none" marker-start="url(#m2)" marker-mid="url(#m2)" marker-end="url(#m2)"/>
<path d="M237.2 108.5 257.5 113.4 247.8 126.4 258.4 126.4 241.8 145.3 264.0 138.5 246.5 114.1 260.7 112.4 229.7 133.8 246.4 128.1 232.6 121.9 245.7 108.8 236.2 112.9 250.7 110.3 244.9 126.9 244.9 113.4 325.3 143.9 230.8 144.7 260.1 119.0 228.2 132.9 255.5 125.3 242.0 137.9 257.2 115.7 235.0 126.8 263.1 137.6 247.2 120.3 246.6 115.1 276.0 128.4 235.9 118.2 250.6 125.1 242.8 118.3 234.2 116.7 242.6 117.8 229.5 134.9 251.0 124.6 252.6 123.5 240.4 144.3 237.1 114.0 223.1 149.4 267.0 139.0 256.5 122.4 283.8 138.9 225.9 145.0 239.4 115.7 244.1 112.5 217.3 148.2 260.0 129.7 240.6 147.9 238.9 117.3 227.6 143.9 238.3 134.7 236.1 125.1 227.8 135.4 256.4 126.5 235.5 127.6 219.1 144.2 257.4 117.2 238.2 113.8 316.7 143.2 233.5 122.7 219.7 145.3 247.6 108.2 249.6 111.9 222.3 144.2 214.4 143.9 246.9 111.1 228.8 145.6 235.4 108.1 239.2 127.5 228.9 133.0 257.5 119.4 309.2 123.0 242.5 121.6 267.2 135.2 243.5 117.6 253.4 122.1 236.3 124.7 261.9 143.0 249.3 106.7 245.9 125.8 240.1 114.1 231.0 143.0 213.5 142.8 250.0 127.3 228.2 151.2 243.0 122.4 255.0 113.4 323.9 129.7 323.7 119.9 255.5 114.7 264.5 113.8 251.2 108.2 234.2 122.3 256.8 119.9 237.8 124.6 240.7 116.4 243.7 125.1 239.4 117.1 290.8 118.6 315.8 118.9 219.1 145.6 252.3 119.4 234.3 124.9 253.0 119.9 266.1 104.4 258.4 122.4 235.2 119.5 242.6 120.3 230.0 144.5 226.7 144.7 257.8 120.8 244.7 109.9 249.3 116.3 237.6 107.5 246.9 113.3 236.5 119.7 239.9 119.2 237.9 116.6 265.5 128.3 281.1 134.7 248.7 110.7 313.0 115.6 234.6 117.8 249.7 112.7 239.7 116.5 310.3 146.7 247.2 115.7 247.4 113.3 228.5 148.8 238.7 111.4 254.7 117.7 230.4 115.8 230.1 132.1 257.4 122.1 241.1 121.7 256.3 123.6 247.4 124.0 327.0 123.3 228.3 113.4 265.4 114.0 267.5 145.2 252.2 109.2 219.1 135.0 247.4 117.7 254.5 112.5 243.5 114.4 246.1 121.5 287.2 121.0 246.6 121.5 265.7 104.2 234.4 139.8 242.5 117.3 225.0 147.5 239.7 116.0 232.4 135.8 260.8 134.8 230.9 121.7 232.7 146.6 244.4 121.3 244.4 124.7 234.8 117.9 213.2 144.8 245.0 124.9 221.4 148.3 246.6 110.4 231.9 119.2" fill="none" stroke="none" marker-start="url(#m0)" marker-mid="url(#m0)" marker-end="url(#m0)"/>
<path d="M245.4 119.7 314.8 132.2 235.7 115.7 223.3 146.8 246.9 133.9 263.5 124.9 235.0 110.9 242.8 142.4 256.5 121.3 251.4 115.8 214.1 146.2 242.1 123.3 233.7 122.8 227.2 134.1 248.4 125.3 235.6 126.0 251.8 103.3 285.4 120.6 259.3 103.3 242.6 121.9 262.1 128.3 248.4 132.0 243.5 124.6 222.1 148.5 222.2 133.5 251.9 135.3 239.6 132.4 239.7 120.5 259.2 123.1 255.2 117.9 248.4 122.3 243.8 119.9 221.0 149.6 283.7 132.4 237.7 140.3" fill="none" stroke="none" marker-start="url(#m0)" marker-mid="url(#m0)" marker-end="url(#m0)"/>
<path d="M240.4 118.5 248.0 126.1 245.2 104.2 249.6 150.8 228.4 104.1 315.8 130.2 224.2 107.3 250.3 145.5 224.8 108.2 232.5 115.0 223.2 105.6 252.8 148.1 246.9 124.1 237.3 112.2 223.6 115.3 282.4 121.5 279.7 127.0 314.8 130.4 253.3 151.0 225.9 112.8 256.5 115.0 222.7 124.1 248.1 140.9 281.0 132.8 248.7 111.4 280.1 150.7 251.4 127.5 232.8 146.3 292.0 122.4 236.0 145.3 258.3 124.3 269.6 128.1 309.4 131.0 274.9 126.7 231.6 112.5 260.3 114.3 232.6 150.5 240.6 112.9 231.3 123.0 272.1 136.3 268.8 120.3 230.3 129.9 251.6 122.5 275.1 124.0 243.7 105.8 272.8 131.5 270.4 110.9 247.5 114.8 242.7 108.5 260.1 122.5 245.2 114.3 257.6 106.6 253.2 102.1 234.8 106.4 217.6 142.0 267.3 115.9 265.8 145.2 237.9 124.1 225.3 122.4 249.4 109.3 307.7 126.2 314.6 129.2 238.2 112.0 275.6 137.8 262.0 128.0 259.9 141.3 219.2 132.9 284.0 126.8 317.1 128.7 260.8 150.6 248.4 112.0 246.5 107.2 247.9 125.1 233.5 139.4 219.1 143.2 266.5 122.9 252.6 130.3 275.9 133.0 300.8 135.1 237.9 143.1 233.3 128.7 243.5 102.4 233.9 149.7 246.4 117.5 222.3 121.3 269.7 146.3 264.4 144.4 233.7 110.4 231.1 114.8 234.7 113.3 268.4 135.9 221.8 108.9 247.1 118.3 226.0 105.5 246.6 139.7 231.4 127.9 244.1 100.3 249.1 112.8 227.9 126.9 235.5 108.3 229.9 115.2 233.3 139.9 225.7 116.1 226.3 111.9 268.6 136.8 252.7 116.6 227.9 119.1 251.7 111.2 315.7 130.5 274.3 142.2 258.9 109.4 257.9 118.2 248.1 111.9 222.5 107.0 232.3 120.4 291.7 150.2 235.1 105.2 250.0 123.9 253.0 140.8 249.5 121.6 227.0 116.7 238.7 114.5 277.7 124.6 245.7 115.2 279.9 149.7 291.8 133.8 250.0 125.5 247.6 115.6 240.3 111.9 248.7 107.5 266.7 119.7 241.5 120.3 227.7 114.2 270.8 148.4 285.5 129.6 249.3 136.8 237.3 150.9 237.8 132.3 231.2 119.8 243.6 108.8 237.1 115.2 229.2 107.7 228.5 106.1 241.3 107.6 236.7 103.5 239.5 119.4 236.7 103.9 230.9 148.9 259.5 136.3 229.5 112.2 293.0 122.8 277.6 132.2 269.9 121.0 217.2 135.8 246.2 144.7 229.8 106.9 242.2 112.7 261.6 111.6 258.4 134.6 255.4 143.4 248.8 145.3 231.8 118.4 266.1 132.7 277.3 123.9 235.3 117.2 314.3 126.9 220.1 145.1 349.4 126.6 240.5 107.2 268.8 124.5 233.9 148.3 270.6 132.8 228.2 113.4 284.1 141.9 228.7 134.8 298.1 138.1 265.1 144.6 261.1 136.6 228.2 115.0 249.5 110.5 228.0 108.1 258.3 112.5 247.2 113.0 284.9 145.4 233.6 108.5 268.4 130.4 249.1 110.0 228.7 105.6 224.3 126.7 311.1 133.7 225.2 125.7 219.3 133.2 229.8 113.3 236.7 122.6 237.7 103.3 274.4 138.5 249.2 151.0 263.7 150.4 288.9 134.2 258.8 132.3 241.2 133.9 245.4 119.2 245.7 105.6 231.2 105.8 254.5 108.0 245.0 149.5 300.5 138.9 259.1 124.8 319.0 130.9 246.3 106.7 226.4 120.3 236.5 108.0 277.1 140.0 233.9 123.0 227.0 139.3 239.3 144.2 283.2 125.4 298.4 132.6 245.5 117.6 237.0 133.5 283.3 142.3 248.4 150.8 223.7 114.8 256.6 111.1 219.3 147.9 265.5 146.7 246.0 105.8 221.9 106.4 251.3 138.6 284.7 150.9 315.1 129.6 224.3 114.0 248.3 103.8 332.6 127.5 289.4 125.4 248.7 105.5 299.9 129.5 223.9 114.2 245.9 105.7 243.9 145.8 267.6 122.2 261.5 127.6 231.1 114.3 246.9 113.2 241.2 143.5 243.4 109.5 277.5 144.2 278.6 134.3 258.6 143.9 274.1 123.7 243.4 117.8 247.2 132.2 227.9 117.7 290.4 139.0 246.8 108.0 251.0 119.9 240.4 140.9 222.9 147.2 224.6 114.3 267.6 116.4 309.8 125.7 252.1 139.9 273.7 149.3 242.3 104.7 217.1 149.4 271.6 111.1 234.6 112.0 246.8 134.6 239.1 101.4 276.3 146.5 291.9 123.4 230.3 139.2 255.8 143.7 257.8 116.1 289.3 139.1 252.5 112.2 248.0 118.3 228.5 111.6 240.1 105.3 247.8 109.6 237.9 107.8 237.3 110.5 226.2 106.2 230.4 123.1 266.0 128.8 263.0 111.2 229.7 112.0 269.4 132.9 274.6 132.3 316.2 128.2 233.8 114.2 225.6 126.7 243.3 113.0 247.1 103.9 251.0 151.3 224.4 120.9 261.3 132.7 222.7 124.0 229.7 129.4 226.3 114.7 252.4 106.7 221.5 148.3 304.0 137.6 286.5 144.6 277.5 138.8 267.4 143.4 244.2 126.9 231.4 108.2 226.3 119.5 263.4 108.5 258.3 113.4 240.5 107.2 249.1 113.6 262.9 144.0 249.3 123.0 266.8 121.8 288.1 141.9 224.9 139.0 274.7 131.7 257.5 110.3 270.3 107.5 241.6 111.6 248.6 104.7 233.0 142.0 249.4 135.3 227.2 150.6 232.5 123.8 228.0 109.7 297.1 126.4 260.7 130.7 259.5 124.1 264.5 114.5 264.2 132.3 265.8 143.4 269.2 122.2 271.0 133.2 235.1 112.6 311.4 128.3 246.1 141.9 302.3 133.0 259.3 114.4 239.8 103.2 231.4 110.6 249.4 106.5 276.7 137.3 247.3 132.5 250.2 146.1 305.8 135.1 264.0 144.4" fill="none" stroke="none" marker-start="url(#m1)" marker-mid="url(#m1)" marker-end="url(#m1)"/>
<path d="M217.2 112.1 220.4 116.0 215.9 139.4 223.7 124.4 221.1 125.5 223.3 109.8 223.6 121.6 223.4 130.1 247.8 114.2 221.6 129.0 222.1 117.3 223.1 119.5 223.3 112.0 222.9 123.7 221.9 128.9 224.9 122.5 223.5 124.2 252.1 116.6 217.6 117.0 217.2 125.0 218.2 118.4 216.4 135.1 218.3 120.8 218.8 109.3 219.4 127.8 238.7 114.1 213.6 144.9 217.9 127.0 220.6 112.7 222.1 129.9 222.5 115.7 218.3 124.9 221.6 110.9 220.4 117.8 218.6 110.1 223.1 112.2 222.7 128.7 218.1 119.5 284.0 124.7 214.7 141.8 217.2 127.8 214.6 142.5 252.5 130.2 220.8 125.2 214.3 143.1 220.8 109.4 214.6 140.6 221.3 118.1 217.1 117.1 282.4 115.4 217.8 110.2 214.0 147.8 236.3 117.5 228.5 115.2 221.4 130.0 216.1 137.3 244.2 136.7 251.8 113.3 218.6 129.6 218.7 116.7 212.6 150.4 219.3 121.8 216.7 138.2 213.4 143.6 218.7 120.1 216.8 135.3" fill="none" stroke="none" marker-start="url(#m2)" marker-mid="url(#m2)" marker-end="url(#m2)"/>
<path d="M269.3 129.0 248.4 119.5 239.7 127.2 260.5 127.7 301.7 116.0 296.8 127.7 232.7 115.4 303.9 126.4 216.8 150.3 251.0 126.9 320.6 135.4 223.1 150.5 270.2 120.8 257.4 138.6 237.9 126.1 229.1 139.3 250.0 122.2 235.1 117.5 241.4 120.1 246.0 120.2 239.3 116.0 240.2 119.2 252.0 128.9 239.9 113.8 234.1 116.7 296.2 118.5 278.2 116.9 263.4 121.8 233.7 119.6 237.6 133.3 257.6 121.5 223.5 144.1 252.8 130.8 320.7 134.5" fill="none" stroke="none" marker-start="url(#m0)" marker-mid="url(#m0)" marker-end="url(#m0)"/>
<path d="M222.2 117.3 246.8 119.0 235.0 108.7 241.2 138.3 318.2 132.5 257.6 110.7 243.0 120.9 236.9 103.0 271.2 124.2 246.4 116.1 259.5 126.0 234.3 124.5 254.8 109.2 217.1 148.8 285.0 129.5 258.4 121.7 230.6 124.0 257.3 130.5 236.1 126.8 253.2 128.0 220.4 148.1 285.1 150.6 253.0 108.8 244.3 138.9 302.3 129.4 249.4 104.1 224.7 125.4 262.7 137.0 243.0 128.8 223.7 125.5 244.4 103.5 235.4 124.7 229.9 140.5 254.0 109.2 255.1 128.1 249.5 117.4 246.7 111.9 267.8 130.3 239.7 118.9 298.4 134.4 277.4 141.3 274.8 120.0 247.5 108.2 237.6 115.1 244.0 142.0 313.5 126.4 254.6 149.0 233.8 101.3 218.8 147.0 251.5 117.0 228.2 123.2 235.4 143.7 235.3 123.6 264.3 107.8 227.0 119.0 243.7 112.0 311.0 130.8 257.4 122.0 268.8 110.4 302.1 133.1 268.9 133.4 287.3 145.1 235.6 111.1 230.6 117.9 225.3 116.0 248.4 148.2 258.0 120.3 247.9 142.6 264.6 136.3 289.1 146.3 266.6 123.5 249.2 108.4 222.0 118.0 287.2 135.0 243.9 109.5 303.8 130.0 232.3 133.9 242.0 119.8 238.4 116.7 254.8 125.9 235.1 143.5 264.0 149.5 217.6 130.2 231.5 113.9 239.5 105.2 279.9 149.7 275.7 140.4 251.4 111.1 288.6 131.4 232.4 109.3 285.1 148.4 318.6 128.7 222.1 120.5 267.7 139.6 311.9 134.1 247.1 107.1 246.9 117.7 254.3 109.0 225.0 131.8 255.4 117.2 248.3 105.1 257.1 115.9 241.4 139.0 283.6 139.1 271.0 109.9 238.8 109.1 299.3 125.6 284.6 137.5 235.2 139.1 270.6 112.7 289.2 132.6 279.3 116.5 223.8 140.5 223.0 119.8 242.3 113.3 261.3 137.2 235.6 105.1 263.5 130.4 263.6 109.9 267.4 122.9 222.4 146.9 302.7 135.6 233.6 135.4 285.0 128.5 274.8 117.3 257.1 128.4 269.6 125.6 245.5 120.9 267.1 116.4 301.7 133.8 250.5 118.7 253.1 137.7 263.9 145.2 246.8 117.7 241.9 103.5 260.8 150.8 246.4 126.9 236.0 105.1 251.1 104.4 237.1 141.2 248.8 111.7 236.8 130.2 232.2 105.5 228.0 122.2 242.4 120.1 223.1 141.8 238.1 109.7 257.8 125.6 238.4 139.9 264.2 147.2 235.8 108.1 226.6 105.7 280.5 123.2 289.4 133.2 291.9 149.8 235.3 120.0 267.5 150.6 286.2 147.9 243.8 128.7 255.0 105.1 237.7 109.6 225.0 110.2 264.6 145.7 248.2 109.4 227.1 107.1 216.9 131.9 256.3 138.3 238.8 131.1 227.0 125.5 217.0 143.0 221.4 141.9 233.6 103.4 245.2 112.6 276.0 144.6 261.9 121.0 241.5 142.5 233.8 110.7 311.7 130.5 284.1 132.2 279.9 128.6 275.5 137.9 245.0 146.3 282.5 136.6 233.7 111.0 231.8 143.1 238.6 110.6 234.6 137.8 244.5 112.4 233.1 139.2 242.6 103.6 283.0 141.5 276.1 138.5 274.3 111.2 236.9 107.7 286.4 117.8 291.2 136.0 237.3 116.5 279.3 126.3 229.5 131.4 298.9 139.6 290.7 131.8 251.9 107.2 225.6 122.1 261.4 127.8 217.7 134.8 237.3 143.5 230.7 142.3 268.1 122.0 263.3 122.9 229.3 112.3 313.0 134.1 276.3 128.2 243.8 122.3 291.2 120.6 261.8 130.8 251.2 148.5 247.0 147.4 266.3 146.8 235.4 101.4 253.5 147.1 274.0 117.2 253.3 109.6 292.8 125.4 251.3 120.1 267.7 145.5 258.2 124.5 227.7 142.9 262.8 142.9 249.4 118.5 246.4 144.0 228.7 122.5 229.0 144.7 256.8 116.1 243.5 121.9 287.6 139.2 242.2 127.4 292.2 135.2 312.7 136.0 306.4 133.0 260.1 115.7 286.9 141.1 233.7 114.6 255.2 145.5 290.2 134.8 250.8 109.5 232.7 112.6 231.8 133.2 219.6 144.2 277.2 118.3 256.5 150.9 240.7 144.7 219.6 136.0 271.6 115.3 247.8 130.2 256.3 126.0 241.4 114.6 251.9 106.5 229.4 105.1 239.1 110.4 221.8 149.9 297.1 136.3 243.5 105.8 230.2 132.9 245.4 121.8 275.1 111.7 278.8 131.9 231.1 119.9 266.0 139.9 244.5 118.4 232.5 121.7 312.5 137.1 268.3 138.4 246.8 149.8 234.1 114.9 272.3 115.1 255.9 108.6 241.3 112.7 226.1 132.3 303.6 124.8 228.5 111.6 227.7 147.3 235.7 138.8 253.1 115.7 228.6 109.3 239.9 141.2 239.1 138.9 257.4 128.5 267.1 120.4 281.6 137.7 236.5 137.1 228.8 149.9 241.2 108.7 255.6 109.7 246.2 113.1 267.4 112.8 252.4 110.9 248.6 126.1 286.1 147.5 235.0 103.5 251.5 112.4 275.9 131.7 247.7 147.9 247.1 137.7 286.2 140.5 288.2 149.8 228.8 126.6 228.5 146.7 233.0 138.1 279.9 142.6 230.1 125.7 236.1 126.5 270.2 115.8 303.4 128.8 250.7 104.0 254.1 132.3 259.9 104.2 218.4 139.3 250.8 126.4 254.6 121.7 260.9 139.7 220.2 144.4 243.9 110.0 249.3 104.8 253.1 122.8 256.2 121.5 309.4 126.0 244.1 114.6 271.3 120.1 255.0 115.9 223.3 127.2 270.6 112.6 250.8 120.0 289.5 125.3 239.7 144.6 269.5 113.0 251.1 111.2 247.3 102.4 237.6 109.7 269.6 144.1 227.2 127.2 221.9 118.6 246.8 126.5 226.8 124.1 252.4 122.8 240.0 130.8 249.4 118.8 268.2 125.6 251.0 105.1" fill="none" stroke="none" marker-start="url(#m1)" marker-mid="url(#m1)" marker-end="url(#m1)"/>
<path d="M219.5 119.1 219.7 126.8 214.4 140.8 219.0 110.0 218.2 120.1 224.2 121.6 218.0 124.0 214.3 143.4 250.9 122.4 221.3 117.9 216.1 137.4 216.9 136.5 218.0 119.0 232.9 123.3 219.4 119.1 223.5 128.3 273.3 113.2 286.6 132.9 217.6 126.1 221.0 114.4 220.0 124.1 220.1 123.4 284.4 120.6 221.3 118.2 220.0 122.7 247.5 140.2 291.6 114.2 223.4 108.5 220.9 117.0 217.6 108.6 219.4 129.7 246.9 134.7 224.7 129.8 217.7 120.8 217.2 118.1 220.2 113.5 220.9 112.9 220.6 130.1 222.9 107.4 221.9 122.5 216.6 135.5 223.4 123.2 215.6 139.4 228.2 122.0 218.0 118.6 221.6 128.5 223.4 113.9 214.5 142.5 223.3 125.4 220.7 125.2 218.2 107.5 222.6 110.3 223.3 120.9 218.2 126.4 218.6 120.0 218.4 121.1 222.4 125.4 216.5 137.9 221.6 115.7 216.6 133.5 282.6 123.0 220.6 111.4 224.1 116.8 246.0 113.7 220.3 120.4 225.7 147.8" fill="none" stroke="none" marker-start="url(#m2)" marker-mid="url(#m2)" marker-end="url(#m2)"/>
<path d="M258.5 118.9 237.6 119.3 311.1 130.7 235.6 123.7 240.5 121.3 241.8 125.3 242.7 118.7 243.0 118.6 263.9 139.5 245.9 120.7 250.0 109.8 242.2 133.3 243.9 130.6 261.4 143.6 243.6 130.8 267.3 138.4 292.3 135.5 292.7 137.1 250.7 118.5 326.0 132.0 231.4 118.7 230.1 145.0 248.2 111.5 232.0 120.1 246.5 116.7 254.7 118.5 248.9 124.8 232.5 140.5 313.2 127.4 218.5 135.1 249.7 125.1 219.4 133.8 256.9 113.4 238.2 107.1" fill="none" stroke="none" marker-start="url(#m0)" marker-mid="url(#m0)" marker-end="url(#m0)"/>
<path d="M241.7 118.7 286.4 138.9 242.5 108.6 314.5 134.3 291.4 143.5 241.6 114.0 286.6 146.7 241.1 127.3 266.1 112.8 258.7 115.6 238.6 122.3 291.6 124.2 234.2 144.1 223.5 131.7 250.7 109.1 223.7 140.2 226.7 124.7 226.3 108.8 233.5 114.9 289.8 135.3 243.9 141.4 247.6 122.2 246.5 110.3 281.4 140.9 270.9 132.0 240.3 133.9 239.6 119.7 243.6 126.1 241.2 115.0 311.5 126.6 255.0 104.2 249.9 115.7 286.0 131.1 256.2 147.9 304.3 125.5 289.6 129.8 258.2 119.2 258.1 143.6 221.9 114.6 275.2 119.7 275.1 129.4 237.2 108.7 229.2 105.8 266.5 125.3 235.7 131.6 243.7 127.2 260.0 112.5 312.2 135.7 271.5 132.8 228.7 125.8 297.2 132.7 238.5 139.0 242.1 149.5 229.1 143.7 260.4 147.9 218.8 145.5 258.2 115.4 271.9 135.3 266.9 108.5 235.0 114.7 223.5 147.0 251.3 132.4 234.5 108.4 269.3 150.6 224.9 113.2 237.7 123.3 249.0 129.9 244.6 103.2 223.5 118.8 252.2 118.9 287.8 144.1 256.5 117.2 230.0 106.8 293.7 120.4 243.4 144.6 254.2 124.5 309.8 134.0 294.5 129.2 220.6 144.0 291.6 126.6 238.3 105.8 236.6 115.4 242.6 119.2 225.2 128.4 227.5 110.3 233.2 109.0 226.0 143.1 244.7 131.0 291.3 145.2 290.2 132.2 255.6 115.7 268.8 126.2 237.0 126.8 306.2 124.6 251.8 109.3 237.8 133.8 271.4 119.4 253.9 113.7 246.2 111.3 261.0 137.3 230.2 130.7 231.0 143.4 268.0 124.1 234.8 110.0 241.4 122.7 252.1 126.8 288.6 139.0 246.4 111.4 294.5 134.4 236.9 127.7 227.7 114.2 240.3 116.0 269.1 141.5 243.3 127.8 269.8 142.7 315.2 130.4 225.9 106.8 231.1 134.9 283.9 123.8 264.3 121.7 230.7 127.8 268.8 113.6 268.1 145.8 239.2 126.5 305.8 125.5 273.2 120.0 271.5 149.2 313.6 130.4 232.2 130.6 233.5 136.6 221.3 144.9 281.8 118.9 265.8 107.3 254.5 120.8 234.1 102.7 269.8 123.3 228.2 122.5 257.2 145.6 251.3 102.8 222.2 116.3 251.7 114.1 239.9 125.9 236.2 133.0 227.3 117.2 223.3 113.1 255.0 104.6 220.4 132.2 246.1 127.5 282.6 133.5 263.2 134.0 306.5 136.5 269.8 147.6 245.9 125.8 257.2 136.3 249.0 102.6 274.1 149.8 232.2 113.9 253.7 133.4 221.9 131.9 238.7 101.7 259.4 149.5 227.3 132.8 251.5 119.0 264.2 135.0 239.7 121.7 246.6 109.4 289.7 133.8 261.5 137.6 288.6 141.5 283.5 131.2 257.3 120.5 269.9 118.9 244.8 109.9 284.9 129.1 267.9 131.7 253.0 150.6 251.1 132.1 257.9 143.1 267.7 124.5 240.9 111.2 306.2 127.0 228.8 123.9 242.5 136.8 268.2 123.3 275.1 137.2 244.3 112.1 314.9 135.7 252.5 105.4 245.3 104.7 257.5 136.7 239.1 106.7 233.8 127.7 231.8 132.6 269.8 125.8 280.1 118.2 228.5 120.4 270.6 113.9 233.1 149.2 317.2 136.1 247.2 126.6 224.8 123.5 256.8 113.0 227.9 107.4 250.8 125.9 236.3 104.8 235.9 140.5 311.6 134.1 235.6 121.9 220.5 143.0 226.0 107.1 288.6 136.1 307.0 124.8 225.5 140.2 264.5 121.7 253.2 118.7 314.3 130.9 244.1 112.9 265.5 113.4 315.4 128.9 264.2 148.9 235.5 151.3 266.2 118.6 318.0 132.1 239.9 136.7 228.8 115.0 275.0 118.9 313.5 129.6 257.1 116.5 256.1 134.9 246.1 102.5 226.5 119.9 240.5 125.9 256.4 109.1 242.3 142.8 271.7 128.3 257.3 131.6 224.3 137.8 262.4 143.8 258.2 120.3 268.4 143.2 285.9 120.0 225.9 112.8 255.1 113.6 273.7 136.2 253.5 123.0 222.6 151.1 272.2 145.4 231.2 111.9 240.7 131.5 236.4 125.9 228.9 114.1 235.4 109.1 267.3 132.9 229.6 107.8 245.3 112.4 236.9 125.3 270.6 131.5 259.4 127.7 246.1 141.6 241.3 144.2 226.8 105.9 226.9 113.7 251.5 108.2 225.2 150.4 239.9 104.0 310.1 135.7 256.9 109.9 290.4 150.4 245.2 107.9 225.7 127.7 241.3 108.5 226.4 126.4 270.5 126.3 270.1 136.2 236.2 127.9 245.4 139.3 230.0 126.2 232.1 108.4 252.9 148.9 238.9 110.8 243.1 114.3 250.9 121.1 251.2 117.8 269.5 119.9 239.8 106.2 222.0 112.3 268.7 142.0 236.7 117.2 262.2 146.1 254.0 123.9 239.3 104.1 275.4 131.9 262.9 131.3 229.7 115.0 253.4 105.2 260.1 134.7 217.3 141.6 256.4 133.2 251.1 148.6 245.2 108.7 251.1 114.7 264.4 145.6 273.7 149.9 247.9 143.9 275.7 139.5 263.0 134.3 267.9 115.6 255.7 127.4 250.5 122.4 275.0 140.9 245.6 104.1 245.1 122.7 260.0 115.5 223.0 124.4 249.4 121.1 220.0 147.3 227.7 109.1 250.6 122.8 262.9 139.5 254.6 127.2 242.0 119.8 258.8 132.2 254.4 147.4 291.4 141.5 273.7 137.9 258.0 112.4 241.1 121.7 224.8 135.6 224.8 119.8 260.3 139.3 233.1 105.4 223.1 148.4 229.5 103.6 289.7 131.4 248.6 146.8 287.7 129.9 227.1 126.9 275.2 132.0 297.6 127.9 226.2 121.9 265.7 146.6 258.7 142.8 275.7 134.5 221.2 108.6 290.2 138.4 226.0 149.2 230.4 126.4 256.1 122.1" fill="none" stroke="none" marker-start="url(#m1)" marker-mid="url(#m1)" marker-end="url(#m1)"/>
<path d="M217.8 115.5 284.8 115.2 212.4 150.2 218.8 109.4 222.4 119.8 215.0 140.3 215.3 139.4 286.0 113.3 219.5 109.9 246.0 120.9 244.7 123.3 219.8 112.9 215.3 138.2 217.4 129.5 222.5 121.0 223.7 116.1 217.4 129.0 250.8 131.4 218.8 128.3 219.8 125.5 252.4 127.2 212.9 144.4 254.5 131.5 215.7 139.2 214.4 143.6 227.1 115.8 221.1 123.0 252.3 126.3 212.2 148.8 214.5 141.8 221.0 127.2 222.9 120.8 251.4 117.5 222.1 118.1 221.4 112.2 213.5 145.8 220.3 116.3 278.9 125.6 215.0 141.2 231.3 136.5 215.1 141.6 217.1 125.4 219.5 125.1 228.1 123.0 217.9 107.5 215.9 135.9 212.0 150.7 222.9 128.2 222.1 111.8 222.0 119.0 260.1 124.7 220.2 117.7 225.5 129.5 219.3 121.5 230.4 129.5 250.1 137.4 226.6 114.6 227.4 144.2 223.7 125.3 213.9 141.4 219.9 113.1 217.9 130.0 219.7 114.3 221.2 109.9 222.4 125.8 221.9 129.5" fill="none" stroke="none" marker-start="url(#m2)" marker-mid="url(#m2)" marker-end="url(#m2)"/>
<path d="M229.9 142.7 230.0 147.0 316.5 132.8 297.2 137.7 253.8 113.6 247.4 123.4 267.2 129.3 252.0 122.7 224.1 137.8 296.8 138.5 280.2 122.4 224.6 134.5 246.0 128.9 254.5 114.1 236.3 107.5 227.5 144.6 249.9 106.9 233.6 127.8 244.8 113.1 247.2 127.3 248.8 120.4 234.8 147.1 249.4 121.3 251.7 106.1 232.0 119.9 240.8 122.9 228.7 104.7 223.8 138.4 232.9 120.4 237.5 121.9 246.6 107.5 245.8 121.4 257.2 109.7 213.1 148.7" fill="none" stroke="none" marker-start="url(#m0)" marker-mid="url(#m0)" marker-end="url(#m0)"/>
<path d="M226.1 136.9 247.7 114.3 259.7 108.0 221.7 124.4 229.9 121.5 288.7 134.9 246.1 114.1 283.1 140.6 275.3 115.9 235.3 125.4 224.3 125.4 251.1 112.7 231.8 131.3 307.8 130.5 307.5 134.3 234.5 137.4 282.3 131.4 250.8 113.0 242.0 130.6 251.2 105.8 242.7 147.7 231.0 136.7 253.9 122.8 281.7 135.9 244.7 104.2 234.6 109.7 242.5 126.3 250.0 107.2 229.7 126.4 235.3 121.5 269.5 133.9 250.5 147.7 245.3 102.8 247.2 141.1 243.7 115.8 257.3 107.2 258.6 124.6 267.0 118.6 247.8 117.1 254.1 117.4 251.7 143.5 278.3 135.5 248.1 134.4 258.6 126.0 229.5 147.2 226.7 122.8 259.6 128.0 249.1 111.2 236.5 111.3 306.6 124.3 216.6 132.4 263.6 132.4 256.9 110.9 226.7 111.6 249.1 110.9 270.8 119.2 247.1 139.9 282.8 147.4 230.0 119.6 224.9 139.6 270.6 115.8 273.8 139.4 250.0 107.3 293.6 130.0 267.4 127.6 236.6 143.9 244.4 111.1 243.1 120.0 283.5 141.3 319.0 136.1 246.2 114.4 259.2 105.2 235.5 108.1 223.7 109.6 311.7 131.4 238.6 102.7 235.3 114.8 240.2 147.1 221.1 144.6 230.1 136.6 305.8 137.8 241.6 105.7 238.5 117.9 266.6 132.6 271.9 134.7 238.0 132.9 232.1 125.6 263.6 123.8 229.6 124.8 235.4 118.1 233.4 113.0 318.5 128.4 238.4 135.9 232.3 144.3 228.5 122.5 272.1 123.4 253.6 148.5 237.1 105.0 265.5 132.8 247.8 112.2 281.7 116.5 290.1 119.6 237.0 150.4 288.6 119.9 246.1 135.1 249.9 123.0 241.7 109.5 241.0 149.5 223.9 106.2 246.7 116.7 222.9 121.8 260.6 135.3 231.1 115.6 274.1 125.3 245.9 109.7 270.9 141.4 237.7 118.3 258.8 118.3 277.7 139.3 246.1 106.8 284.7 138.8 254.1 122.4 288.5 133.9 288.1 144.0 236.5 122.6 245.8 124.6 248.1 104.1 286.5 146.9 230.3 109.5 267.3 115.0 250.4 102.7 256.8 120.6 273.4 114.2 233.4 134.2 240.8 117.2 245.5 116.1 251.1 117.6 240.4 108.8 260.5 122.1 222.8 139.6 236.8 140.1 277.6 140.8 258.5 112.9 246.9 101.6 240.5 124.8 244.6 137.8 248.8 112.0 237.0 127.4 248.8 112.9 295.3 129.9 273.0 139.6 218.2 134.5 270.8 137.5 244.9 117.9 271.9 126.1 248.1 132.2 237.6 102.2 250.2 147.7 310.5 130.8 247.1 117.1 262.3 137.1 255.0 117.1 256.4 103.6 226.3 122.1 254.9 103.6 242.6 102.1 248.8 145.1 230.7 126.0 253.9 131.1 245.1 117.6 235.2 105.7 317.0 134.6 226.7 117.7 233.9 121.2 225.0 141.5 256.1 122.5 222.4 119.8 231.9 130.9 302.5 133.7 248.8 137.9 244.7 112.5 245.7 112.5 234.6 117.7 223.2 115.0 247.7 111.6 261.0 149.6 256.7 133.5 248.7 106.2 239.9 121.8 222.8 132.9 258.8 111.3 250.9 145.9 329.2 130.1 268.3 136.0 235.2 128.9 281.3 133.1 267.9 136.3 227.3 112.9 265.4 109.8 263.2 131.3 230.6 115.1 254.0 112.6 251.6 116.4 227.0 118.5 272.8 132.5 249.0 124.5 265.6 127.1 236.2 117.8 266.1 140.0 237.0 149.1 230.7 113.7 243.2 108.7 250.4 150.1 275.5 136.6 247.8 106.9 264.7 112.4 230.6 111.7 243.6 109.9 245.4 123.4 279.2 132.0 258.8 119.7 275.3 130.7 252.0 146.8 266.4 144.4 237.1 115.6 235.3 109.3 244.8 104.8 233.2 125.1 243.6 149.6 309.2 132.8 237.4 126.6 238.9 111.8 242.3 142.0 278.2 142.3 257.1 107.3 242.4 106.5 313.5 135.3 244.2 106.8 241.0 105.0 226.7 143.7 296.1 134.5 265.7 141.5 241.6 123.8 223.0 134.9 256.7 143.8 231.0 106.8 245.0 142.3 269.6 139.5 228.2 107.4 230.3 144.0 283.3 138.2 224.5 143.3 247.2 150.8 231.6 104.5 235.7 145.8 224.2 119.5 238.8 122.5 247.5 148.3 254.3 110.3 247.3 116.2 251.4 104.8 315.3 135.0 247.0 109.2 265.8 149.9 288.2 139.9 253.5 120.1 222.2 109.0 237.2 146.6 257.0 122.6 232.3 110.1 236.6 140.7 246.3 137.8 225.3 112.6 251.6 123.0 247.4 117.2 239.9 100.6 229.2 106.3 240.4 116.2 264.9 132.3 262.2 140.3 223.3 113.4 252.1 124.0 243.2 117.6 268.8 134.3 261.2 123.9 233.5 126.2 238.8 109.1 251.6 147.9 251.9 146.7 274.4 131.6 228.8 102.5 252.7 151.2 278.9 134.0 268.8 120.5 259.8 126.2 250.3 110.9 258.9 107.8 283.5 133.5 243.8 109.9 247.0 113.1 229.7 121.0 273.1 140.9 253.5 104.6 228.5 105.3 242.0 112.6 296.3 124.8 265.3 133.0 255.3 142.9 230.4 117.2 296.7 132.1 236.7 107.6 227.8 119.1 254.3 121.6 226.0 130.8 250.7 143.2 255.9 148.3 263.2 147.6 228.4 110.5 235.4 116.9 230.6 135.8 276.3 143.7 237.7 108.0 300.1 136.1 258.4 126.8 255.4 131.6 244.4 122.2 245.6 144.2 284.1 150.4 226.9 151.0 239.9 130.9 250.0 130.9 246.4 108.2 267.8 143.6 244.6 122.9 218.0 138.9 289.1 131.0 250.2 127.4 295.4 139.7 231.5 148.7 250.4 147.0 291.6 146.2 278.1 135.1 235.8 103.0 239.3 148.5 288.3 120.1 236.6 115.0 225.5 123.4 269.3 128.5" fill="none" stroke="none" marker-start="url(#m1)" marker-mid="url(#m1)" marker-end="url(#m1)"/>
<path d="M219.2 116.9 217.4 115.7 222.8 121.5 214.9 143.3 215.4 139.7 220.9 112.0 221.6 120.1 218.4 114.5 244.7 116.0 217.5 115.4 218.0 108.4 249.6 115.8 221.9 121.4 220.2 126.9 223.9 146.0 230.2 115.0 213.7 143.9 220.2 109.4 214.4 143.6 218.7 119.4 222.7 113.3 221.8 113.4 245.9 135.1 277.5 140.0 220.9 109.2 218.4 117.0 212.5 151.3 222.9 112.5 278.5 122.2 283.9 140.4 286.2 114.7 214.6 142.9 218.2 123.9 213.7 141.9 266.4 121.6 220.4 118.7 217.2 113.9 256.7 119.6 222.6 115.8 214.1 146.4 242.7 113.4 222.8 117.8 244.6 131.0 219.2 107.3 219.6 115.7 212.4 147.7 219.5 114.4 212.3 149.8 213.7 142.7 215.5 139.9 280.5 132.3 251.2 118.2 220.6 130.1 231.3 131.3 215.0 141.3 218.3 129.6 220.2 124.8 217.5 110.8 218.9 117.5 220.9 113.2 223.0 114.3 236.6 133.1 219.6 107.8 217.2 116.5 252.2 133.8" fill="none" stroke="none" marker-start="url(#m2)" marker-mid="url(#m2)" marker-end="url(#m2)"/>
<path d="M397.0 133.2 392.6 145.5 392.2 148.7 437.3 81.9 394.5 139.9 400.7 119.8 392.2 147.6 401.2 127.4 408.1 117.7 405.6 105.9 392.3 147.0 407.9 105.2 392.2 146.9 393.3 141.7 397.0 130.9 405.3 114.1 395.7 134.9 400.3 123.0 398.1 128.4 412.1 107.7 414.6 94.0 398.5 131.3 402.8 115.0 403.4 119.2 413.2 143.7 396.0 136.5 400.8 128.5 405.8 118.6 414.4 100.0 431.6 89.8 413.2 106.9 392.4 147.4 426.7 116.8 396.3 137.0 396.9 133.3 421.3 82.7 399.4 126.7 396.0 135.8 394.4 140.2 392.0 148.6 409.0 110.0 406.0 116.4 393.8 139.7 418.0 81.7 395.7 133.9 393.8 139.6 398.4 129.5 393.7 141.8 395.7 132.5 394.7 142.0 393.3 142.2 421.2 85.8 399.1 128.6 414.9 104.9 395.4 136.1 402.0 119.5 411.2 111.1 395.1 139.3 400.7 122.8 400.7 128.3 404.7 122.3 393.7 140.6 398.3 127.3 402.5 124.9 403.8 116.8 403.0 113.4 401.4 125.6 398.5 131.1 398.1 130.9 393.7 140.1 428.8 86.6 444.8 80.1 397.4 129.0 394.6 136.0 402.5 129.7 395.0 138.5 395.8 136.7 409.9 117.5 397.1 130.9 398.8 127.7 400.2 126.2 407.2 112.3 398.7 130.4 424.6 89.1 407.2 120.9 396.9 132.4 411.4 102.9 432.3 102.3 400.7 121.1 393.0 144.9 426.7 128.2 394.3 139.2 393.2 141.9 430.6 90.0 396.5 135.7 398.7 131.6 400.2 130.3 394.7 137.4 399.9 132.0 408.1 100.3 404.6 121.6 395.4 137.5 401.6 128.6 405.5 113.9 395.6 137.2 397.3 132.7 445.7 101.1 404.9 117.6 396.7 131.6 405.1 127.2 414.2 87.2 416.5 106.3 392.2 148.2 395.8 132.2 393.7 140.5 394.2 140.7 397.2 133.4 400.8 128.0 394.7 137.7 397.6 131.4 392.7 144.4 402.6 123.8 393.4 143.3 392.6 144.4 395.6 133.8 411.1 102.6 400.9 126.3 405.9 113.9 410.7 111.3 398.5 130.2 391.7 150.5 396.2 133.5 416.0 105.3 400.8 122.7 395.4 137.0 400.1 122.3 396.8 136.8 395.8 134.4 395.5 137.4 393.7 141.8 395.3 137.4 393.0 145.2 450.4 110.7 396.6 135.8 436.6 80.6 396.9 132.6 431.1 87.2 402.2 116.5 407.6 120.6 396.9 135.4 402.5 121.9 398.3 133.9 418.3 92.4 396.5 129.7 401.7 125.7 395.0 137.9 393.3 142.6 420.8 93.8 418.9 101.5 405.0 120.2 410.3 113.0 396.5 129.2 392.6 146.1 394.0 138.8 397.7 135.5 399.3 120.2 437.5 83.2 407.2 109.2" fill="none" stroke="none" marker-start="url(#m0)" marker-mid="url(#m0)" marker-end="url(#m0)"/>
<path d="M403.1 123.1 396.5 128.2 408.7 110.7 398.4 132.7 391.8 148.9 405.0 122.7 419.5 107.9 395.6 133.8 394.1 140.0 396.8 131.2 402.0 127.0 416.5 102.5 404.2 120.9 411.6 115.6 398.3 127.2 417.9 103.8 398.6 128.5 470.5 103.2 470.5 125.7 402.2 115.9 392.4 145.9 400.3 124.0 401.1 127.5 400.5 134.5 411.4 92.2 400.3 123.3 394.1 136.4 420.2 82.0 413.7 111.7 523.7 83.2 419.8 136.8 399.6 125.8 400.3 124.8 393.0 143.7 405.0 124.4" fill="none" stroke="none" marker-start="url(#m0)" marker-mid="url(#m0)" marker-end="url(#m0)"/>
<path d="M426.2 96.1 407.1 119.1 404.2 122.5 407.2 113.3 396.3 133.4 396.4 134.3 394.3 142.0 399.4 129.3 404.2 126.9 393.0 143.4 394.0 139.2 393.4 146.0 396.4 137.3 480.4 107.6 403.8 117.3 398.8 131.9 400.2 124.3 403.4 120.1 411.7 112.8 416.4 92.3 400.5 144.6 396.0 135.6 396.1 135.2 401.4 129.6 397.2 135.1 403.0 115.5 405.5 119.6 395.1 138.0 398.7 133.7 411.5 106.7 493.8 114.6 407.4 123.2 392.3 146.3 392.5 145.6 455.9 125.5 398.8 130.8 442.2 108.9 420.5 110.5 417.6 93.4 403.8 123.1 408.0 115.8 392.1 147.2 422.2 120.9 409.0 118.5 392.2 148.1 398.6 122.5 405.3 132.9 396.5 133.1 420.4 103.9 394.2 139.3 407.3 129.9 409.0 122.6 400.3 128.5 428.4 108.0 400.7 127.6 403.0 130.2 404.0 143.4 407.6 120.4 396.2 134.7 412.2 109.3 394.3 138.4 406.8 118.0 406.4 126.5 396.3 135.9 398.1 132.3 396.9 133.2 393.9 138.9 404.9 127.0 421.1 115.3 394.5 141.2 400.3 128.6 433.9 87.2 449.4 113.6 392.5 147.1 431.6 112.4 402.8 119.5 407.4 110.6 401.9 118.3 392.9 145.9 402.8 117.6 397.7 131.4 393.5 144.4 394.7 137.3 393.6 144.9 419.3 98.0 392.2 147.1 401.7 121.5 397.3 124.9 395.3 136.6 393.4 142.7 392.2 147.2 393.2 143.6 392.7 145.6 407.3 116.3 403.6 123.3 462.0 107.2 399.5 124.8 401.6 120.4 399.6 116.2 396.8 125.6 398.7 132.4 484.7 107.5 422.8 107.2 393.5 144.9 401.4 131.9 394.9 139.0 407.8 131.7 402.9 126.6 402.9 121.7 450.8 127.3 397.9 126.3 442.1 123.6 433.3 113.9 401.1 121.8 408.3 121.5 398.2 129.3 399.3 128.7 402.0 120.0 394.7 139.0 409.3 107.0 392.5 146.0 423.5 102.4 395.5 136.3 412.6 117.0 392.3 147.8 398.7 129.8 400.1 120.8 397.9 129.7 393.4 143.8 397.6 134.8 401.5 124.1 392.4 147.1 392.0 148.2 404.4 123.1 399.8 133.3 412.8 140.6 395.5 140.4 433.0 113.0 399.7 128.5 432.2 118.3 402.4 117.4 397.6 132.2 403.9 118.3 414.5 137.7 405.5 120.1 400.1 125.5 401.1 126.6 393.6 142.3 447.0 106.5 395.1 136.4 404.2 124.6 394.3 143.3 407.4 124.0 394.5 140.9 405.9 118.0 408.1 121.6 405.7 121.8 404.5 125.4 401.7 121.5 413.4 124.7 395.0 139.1 398.4 132.9 411.2 116.8 394.9 137.0 416.6 121.4 394.7 138.8 407.4 127.9 398.0 136.0 392.1 147.8 430.5 109.4 406.2 119.8 394.4 142.3 404.7 120.2 417.1 106.6 406.5 116.1 419.8 94.2 393.5 144.2 398.4 126.7 406.8 123.6 411.3 118.3 399.6 126.5 490.1 124.2 400.2 132.6 393.6 139.4 404.4 117.8 437.5 115.5 394.7 140.9 420.6 97.8 392.1 148.0 435.4 91.7 414.1 121.1 408.8 115.4 399.4 138.2 431.7 114.3 432.1 118.6 420.0 98.2 427.9 118.5 392.0 148.2 421.8 108.7 412.1 110.7 415.8 112.4 462.4 124.8 401.4 123.2 403.4 130.5 392.2 147.4 400.5 129.3 397.1 125.4 420.6 106.2 396.4 137.5 398.1 129.9 402.7 123.5 395.6 137.9 470.7 116.4 395.7 136.0 404.9 124.2 401.4 128.4 398.2 137.1 399.4 131.1 397.5 136.2 404.9 120.6 402.2 126.9 409.2 110.7 395.9 137.8 399.7 131.6 392.0 148.0 403.1 113.3 395.3 141.0 422.9 122.4 400.3 117.1 398.6 131.4 393.2 144.5 414.4 122.6 438.0 87.7 402.4 120.6 399.2 126.8 396.8 129.8 394.7 142.1 393.0 145.4 398.3 131.7 403.0 123.7 398.8 137.1 406.5 120.2 403.2 119.9 392.1 148.2 401.3 128.9 397.4 132.2 419.9 114.0 394.6 142.3 472.0 63.5 401.5 124.2 402.7 127.5 397.2 133.8 392.2 146.2 394.6 137.4 404.8 122.7 409.8 113.9 434.3 112.3 406.7 117.4 392.9 145.0 399.8 129.5 409.4 121.6 400.8 121.7 396.3 132.8 398.8 133.2 417.4 124.3 404.0 126.2 404.4 124.1 395.3 136.3 401.5 121.6 413.1 117.1 420.0 88.2 401.1 137.1 417.7 95.9 486.5 104.3 398.7 129.1 399.3 124.5 419.9 117.8 407.0 119.5 400.4 129.3 412.7 106.7 393.0 142.3 399.0 123.7 398.7 131.2 392.7 144.9 395.1 139.2 392.8 147.1 456.7 119.4 399.4 123.3 393.2 143.7 419.7 132.7 393.7 140.7 398.5 128.7 392.8 144.7 401.5 123.0 409.0 115.5 399.9 134.4 428.6 116.1 392.6 146.7 400.2 132.8 404.8 100.3 398.7 126.0 395.7 131.9 406.1 138.9 396.3 134.4 394.9 141.0 399.3 130.3 397.9 133.7 410.6 116.1 419.5 124.1 393.3 143.2 401.2 120.0 414.1 103.0 402.9 128.3 401.6 130.6 400.9 120.9 408.4 110.7 396.4 134.6 393.2 142.5 409.5 107.7 396.4 133.7 397.6 138.0 394.2 139.2 398.6 135.4 397.2 134.3 442.3 99.9 409.0 111.5 392.6 145.1 438.5 106.5 397.0 125.6 420.4 112.7 396.1 135.7 393.8 142.4 403.3 117.4 396.2 139.8 395.0 141.0 495.8 116.6 396.3 135.8 426.5 107.8 406.5 123.8 454.9 106.8 401.0 129.1 392.6 144.0 393.4 143.6 403.2 124.8 442.0 119.8 407.5 121.7 396.2 133.8 402.8 122.4 401.6 126.3 410.0 120.1 404.5 141.5 394.3 137.1 395.4 133.7 404.4 122.6 437.0 133.5 401.6 125.5 447.9 118.4 403.4 130.3 395.0 137.8 397.6 134.2 397.3 133.2 415.2 134.5 392.0 147.5 404.7 115.7 406.4 119.4 395.3 136.6 410.2 116.9 404.3 128.1 421.8 111.4 407.1 127.2 397.7 131.2 412.6 118.2 400.1 123.3 395.0 142.8 397.9 135.7 404.1 123.3 401.7 123.7 437.2 103.0 396.0 139.5 396.8 134.1 403.0 120.8 395.4 140.7 393.2 143.1 445.9 108.2 440.9 116.8 393.4 145.2 392.5 144.9 393.2 143.6 392.6 145.0 401.9 121.8 410.1 109.5 400.6 118.1 397.4 133.9 399.8 118.5 405.4 120.9 407.2 119.6 411.9 122.8 482.6 108.4 393.3 142.8 404.3 123.2 395.4 136.5 392.5 145.4 398.6 122.2 404.2 124.5 398.9 130.5 400.0 129.5 395.8 137.4 404.3 125.7 393.7 141.7 405.2 117.3 403.1 122.9 404.4 124.0 398.0 131.6 446.2 120.6 409.3 105.2 403.4 120.7 407.0 112.0 401.8 122.7 403.0 121.4 396.1 134.9 394.1 138.6 435.5 110.4 393.4 142.9 393.4 143.4 397.2 138.0 408.5 123.1 408.3 139.5 402.7 123.4 413.5 141.2" fill="none" stroke="none" marker-start="url(#m1)" marker-mid="url(#m1)" marker-end="url(#m1)"/>
<path d="M392.1 151.5 393.7 143.9 409.8 115.3 401.2 121.3 392.2 149.5 394.4 140.2 398.1 126.0 397.0 131.1 407.7 112.9 433.2 103.4 395.0 140.8 392.0 151.1 395.6 138.0 393.2 146.0 406.5 109.1 394.3 142.5 397.6 130.2 392.1 147.3 396.0 133.4 393.3 144.2 398.5 126.5 391.9 151.5 395.6 137.5 394.5 139.2 392.4 149.9 407.7 113.9 393.4 145.4 393.7 146.7 398.3 125.2 393.3 144.8 393.5 141.8 406.7 113.0 393.1 146.4 393.7 142.8 417.1 109.9 414.3 111.4 393.1 146.2 392.4 149.2" fill="none" stroke="none" marker-start="url(#m2)" marker-mid="url(#m2)" marker-end="url(#m2)"/>
<path d="M448.3 84.8 394.0 142.2 400.9 128.2 402.7 122.8 392.3 147.2 398.1 130.5 403.8 118.6 413.7 93.2 395.8 132.3 397.1 133.6 395.3 138.3 413.1 97.2 393.0 144.4 413.7 105.1 417.4 95.5 406.1 118.6 394.7 137.8 401.6 116.4 395.8 135.5 437.9 92.7 407.2 108.7 397.9 129.4 394.8 139.0 396.6 135.1 397.5 133.3 398.2 130.5 394.9 138.8 404.4 115.0 407.5 115.1 403.9 122.1 395.5 140.1 444.8 112.1 399.4 129.4 397.0 133.7 397.2 135.3" fill="none" stroke="none" marker-start="url(#m0)" marker-mid="url(#m0)" marker-end="url(#m0)"/>
<path d="M397.1 129.3 401.4 123.0 392.1 148.0 400.0 132.2 393.2 141.3 402.4 123.4 395.3 134.2 443.3 124.2 396.6 132.0 419.6 114.9 418.7 115.7 449.3 124.5 416.5 133.4 396.4 138.3 396.8 133.9 400.6 120.4 414.7 114.7 412.2 95.5 409.6 118.0 407.0 118.8 415.8 136.9 406.7 115.7 397.5 130.1 403.8 126.8 399.7 126.6 395.8 138.8 401.0 130.7 401.7 126.6 395.9 134.4 393.1 144.0 419.3 112.6 405.9 117.0 403.7 143.0 409.2 115.4 394.4 137.1 392.9 146.0 408.8 123.8 399.7 125.7 448.6 90.6 429.2 113.8 400.6 127.8 395.5 135.6 403.0 121.9 405.1 120.3 392.8 145.3 402.5 123.8 409.4 117.5 399.6 143.6 413.0 110.8 396.7 128.4 397.7 128.6 400.4 125.4 394.6 139.8 392.5 146.1 403.0 121.6 405.7 125.0 396.4 133.8 394.6 137.6 402.3 122.1 401.3 129.1 420.3 96.2 394.5 141.7 397.3 130.8 393.9 135.9 394.9 136.4 398.6 129.9 400.1 122.5 403.0 124.8 401.7 120.1 428.1 113.5 403.8 118.1 406.7 122.0 403.0 126.3 403.4 124.2 410.8 122.9 407.1 116.3 403.5 119.9 393.1 142.6 404.8 115.9 400.7 118.3 396.7 133.2 394.4 138.1 400.1 127.5 407.3 117.3 401.4 119.6 398.5 134.7 410.7 114.3 407.1 127.7 406.3 112.6 395.5 139.6 400.9 120.4 399.0 129.7 395.3 139.9 405.5 126.8 445.0 128.0 393.2 144.4 489.4 109.1 404.7 115.8 403.8 113.6 408.3 127.2 397.5 138.5 394.3 138.2 400.6 122.0 392.0 148.5 401.9 123.0 397.3 134.4 393.4 142.6 400.1 128.8 456.2 125.9 429.5 108.5 408.4 116.3 394.5 141.6 404.2 121.4 397.9 131.2 410.2 101.2 406.4 117.1 412.1 124.9 414.2 118.3 403.1 123.7 405.7 118.8 401.4 121.8 395.8 138.9 400.8 129.4 406.4 129.4 432.9 116.0 401.5 126.2 411.8 115.5 407.3 112.0 442.1 121.8 394.1 142.7 399.3 129.1 398.9 130.8 409.9 115.4 409.2 115.4 403.7 117.7 401.8 117.3 397.6 133.2 444.9 109.7 397.0 131.6 395.8 132.4 392.7 144.3 411.3 105.0 396.2 136.3 422.1 114.9 407.2 121.5 396.0 134.9 400.5 117.6 399.8 126.0 404.9 118.2 402.8 118.1 392.5 145.9 398.5 136.7 392.9 146.9 393.9 141.5 400.1 124.0 392.1 147.8 401.2 128.5 398.2 132.4 396.5 134.3 395.2 136.8 400.6 121.8 405.9 122.5 491.2 125.5 411.4 122.3 398.1 131.4 407.6 121.1 399.1 130.5 405.6 120.9 392.8 143.6 400.9 125.2 438.8 104.3 412.8 114.1 398.9 126.0 423.7 108.3 394.5 140.8 438.6 115.2 399.6 119.1 394.0 141.9 397.5 133.1 402.1 122.1 397.9 132.4 430.4 104.4 399.3 126.9 403.4 118.3 423.4 106.4 403.2 139.1 400.9 121.9 393.5 141.0 478.6 111.3 413.5 111.1 422.8 101.7 484.9 126.5 405.9 132.6 397.4 131.4 393.4 139.0 392.8 144.2 406.1 120.6 399.5 128.1 394.1 140.5 398.9 127.2 451.7 126.3 400.8 121.6 398.8 131.2 399.4 126.6 406.1 115.4 403.3 116.3 404.7 120.4 393.2 144.9 424.8 98.3 410.6 113.1 395.6 134.7 477.8 125.0 401.4 130.0 400.5 129.6 404.8 123.0 407.1 118.3 403.6 119.6 403.6 122.5 404.4 122.0 416.5 114.4 433.9 101.9 394.2 141.6 421.3 136.8 395.7 140.8 398.8 133.6 407.5 119.3 395.1 138.5 419.6 101.5 415.8 111.3 403.3 117.2 400.6 127.8 448.7 116.1 393.5 142.2 396.5 135.8 403.5 121.2 404.8 131.4 394.5 138.7 430.1 103.1 432.0 102.6 440.5 103.4 404.3 144.8 405.1 124.6 409.9 117.2 403.2 124.3 404.5 119.7 400.3 131.7 429.2 85.1 404.5 125.3 403.0 143.7 403.7 142.7 401.1 134.6 408.2 116.2 450.2 122.4 400.3 127.1 410.9 110.2 416.7 109.2 400.5 126.0 463.1 116.5 394.1 142.6 431.1 90.6 400.0 133.1 420.0 110.3 394.9 141.2 407.1 129.0 412.1 117.2 417.6 100.4 405.5 113.5 426.0 99.9 403.8 127.3 398.6 132.1 401.9 124.7 399.4 125.9 405.1 128.0 402.0 115.7 402.2 121.4 407.6 123.0 399.9 126.6 394.6 143.4 394.3 141.1 399.8 126.9 454.7 100.7 406.0 140.7 403.1 120.3 402.4 116.4 397.8 132.8 396.1 133.6 399.1 131.4 393.9 142.0 404.5 127.9 398.9 128.4 392.3 147.0 446.8 118.4 408.6 128.5 435.4 119.9 405.3 116.6 448.8 105.8 394.2 138.4 403.6 119.1 396.8 134.3 407.9 124.5 394.8 139.4 406.3 126.9 402.1 136.9 422.6 114.6 399.5 124.9 421.2 110.7 392.0 148.2 393.4 142.9 406.0 125.7 399.4 129.8 457.1 113.1 405.0 118.8 398.8 131.2 404.9 120.1 395.0 136.9 394.9 136.5 411.9 117.3 393.6 142.6 404.8 143.1 393.2 145.0 393.1 144.6 397.5 145.0 414.0 119.0 396.3 136.5 408.1 111.0 394.2 139.6 399.2 126.4 402.8 131.6 401.3 132.0 403.6 120.0 394.9 134.6 398.4 130.4 414.1 111.5 401.9 122.3 392.3 147.5 392.3 146.8 445.7 124.9 405.0 120.8 396.1 135.5 408.6 126.9 401.2 125.8 394.6 137.8 395.3 136.7 401.4 121.8 398.5 128.3 393.3 145.1 423.8 117.0 405.4 124.3 409.4 122.4 409.6 117.8 393.9 142.8 415.0 136.3 398.1 120.7 393.8 143.8 399.1 136.9 399.5 125.3 404.1 123.7 395.1 134.5 396.1 132.7 392.4 146.6 403.5 122.0 406.5 116.4 405.6 125.3 417.7 101.7 410.5 119.4 399.9 128.8 396.5 133.8 398.0 132.4 398.1 130.7 400.9 121.4 398.3 123.7 417.3 115.4 402.3 127.3 406.5 122.3 409.2 115.7 394.9 135.6 405.5 123.7 402.5 127.0 398.6 131.6 405.1 118.7 408.3 116.7 395.6 138.2 399.4 129.6 451.5 128.5 400.8 125.7 395.8 134.2 393.9 141.1 396.1 133.0 413.1 103.1 402.6 122.0 405.9 124.8 393.3 142.3 395.6 139.5 418.1 138.7 393.1 144.1 412.4 113.8 408.3 124.8 394.9 134.7 442.9 116.1 428.0 102.8 408.4 112.7 420.8 99.3 392.4 145.7 404.5 121.6 399.3 120.2 418.8 136.4 405.0 121.3 441.8 108.1 401.2 126.7 397.7 134.8 397.4 132.0 404.3 118.9 403.3 125.0 393.5 144.5 445.3 121.2 420.6 108.9 443.2 103.8 396.3 135.7 405.8 124.7 399.2 122.8 400.3 117.9 392.3 147.1 406.3 122.5 432.8 118.9 440.2 103.8 403.4 123.5 394.3 137.0 397.5 131.0 405.2 118.9" fill="none" stroke="none" marker-start="url(#m1)" marker-mid="url(#m1)" marker-end="url(#m1)"/>
<path d="M393.1 147.8 394.7 139.8 392.2 147.1 392.0 146.8 397.8 130.4 394.3 143.6 402.9 118.6 396.2 133.6 392.7 148.5 392.6 148.1 393.3 146.8 395.3 137.5 393.9 142.8 392.0 150.1 394.7 138.2 398.3 125.6 400.2 125.2 394.6 140.8 423.4 107.9 396.5 135.7 410.4 108.5 391.9 150.0 392.3 150.2 392.3 148.0 394.5 139.6 392.1 149.6 391.9 149.8 398.3 126.1 395.6 137.5 393.9 144.9 395.1 138.6 407.2 125.0 396.7 132.8 397.7 127.2 405.5 115.2 392.1 151.5 395.8 137.3" fill="none" stroke="none" marker-start="url(#m2)" marker-mid="url(#m2)" marker-end="url(#m2)"/>
<path d="M398.5 130.1 409.5 110.6 400.6 130.1 399.8 130.2 400.3 122.3 393.6 141.8 392.3 146.5 400.6 132.5 418.2 95.3 451.7 130.8 421.8 100.9 400.0 127.8 395.1 138.6 399.5 130.7 414.0 95.9 410.5 105.6 393.6 142.0 393.5 137.6 392.4 145.8 397.1 132.3 400.6 121.1 403.5 121.9 410.6 108.6 393.8 140.7 400.5 125.4 396.0 139.3 393.8 141.3 398.9 129.5 395.2 138.2 398.8 129.1 402.9 120.6 439.1 80.7 405.8 113.2 395.7 137.1" fill="none" stroke="none" marker-start="url(#m0)" marker-mid="url(#m0)" marker-end="url(#m0)"/>
<path d="M393.7 141.1 445.4 131.8 404.1 121.6 421.4 112.3 411.3 105.8 412.6 109.0 401.6 124.1 395.3 138.9 405.3 110.5 396.8 133.1 403.6 117.6 419.2 114.1 402.9 124.2 401.8 118.6 412.1 109.1 399.2 131.1 442.2 99.2 403.8 117.8 393.8 141.6 401.9 120.9 403.1 126.7 399.9 123.1 396.9 133.1 419.2 109.7 433.0 103.7 400.9 126.5 404.7 128.5 407.4 123.5 399.1 131.8 399.9 127.9 411.6 102.9 401.5 129.9 403.9 118.1 402.9 119.9 405.2 132.2 395.8 139.6 403.6 126.2 399.4 122.6 400.7 128.3 431.8 109.8 395.3 134.4 401.6 124.1 395.6 134.1 423.0 106.1 410.7 113.1 405.3 130.3 399.7 128.7 393.7 143.6 392.4 145.6 406.2 120.9 406.8 125.5 404.1 120.0 404.4 121.8 415.9 113.9 398.8 125.3 394.9 138.4 402.6 117.0 436.4 112.5 402.3 119.1 392.8 145.3 394.2 140.5 395.5 135.7 394.2 142.1 405.2 118.2 399.0 126.4 405.7 116.1 419.4 119.8 392.3 148.0 407.1 130.5 403.3 117.6 396.9 132.7 398.2 127.4 400.9 129.0 402.0 124.2 397.1 131.1 400.4 128.9 395.8 134.0 395.8 135.4 394.4 139.9 406.3 102.7 407.4 122.1 403.3 134.1 413.2 118.6 392.4 146.9 393.9 141.4 455.2 125.2 439.4 114.2 392.6 145.0 400.6 124.1 394.2 140.6 398.0 127.5 399.9 135.8 398.6 128.5 431.4 106.2 398.1 134.1 432.7 105.9 396.9 132.5 402.6 117.7 398.4 133.5 392.2 147.4 411.0 104.2 400.7 125.4 396.8 130.6 402.6 117.9 410.6 119.8 402.4 120.5 441.7 112.1 470.8 109.7 392.3 146.8 394.0 144.1 429.0 102.0 397.4 132.7 394.7 140.0 392.1 148.7 404.8 120.4 402.1 118.2 410.7 115.2 396.2 128.6 427.3 108.6 410.4 121.5 394.3 139.6 396.6 133.1 392.6 145.8 394.9 138.8 398.2 132.2 405.3 118.7 407.1 118.1 447.2 127.0 447.8 131.5 439.6 109.1 400.2 128.6 402.3 124.1 401.5 129.2 415.6 112.2 392.3 146.3 392.2 147.7 405.5 123.0 403.0 124.3 469.6 122.9 392.8 145.0 402.3 116.6 398.6 128.1 402.7 126.3 392.9 145.6 401.4 129.4 393.5 143.2 404.7 120.1 401.9 126.6 395.6 132.9 402.2 122.9 394.3 140.3 407.9 114.6 401.6 122.9 406.7 126.2 405.8 119.7 400.1 121.8 400.6 123.5 400.1 129.6 397.1 137.2 416.2 122.7 391.9 148.3 475.5 121.0 405.0 120.9 426.5 107.0 392.3 146.8 453.8 117.0 399.2 127.4 404.5 124.4 400.5 125.0 413.1 139.5 407.8 126.8 402.6 127.2 392.2 146.4 399.5 132.6 412.4 111.9 416.9 137.9 438.1 118.0 395.6 137.0 392.6 146.7 408.1 116.8 394.7 140.4 392.6 146.5 401.7 128.0 421.1 92.4 392.1 148.2 447.9 106.1 414.3 112.0 398.7 130.6 397.3 135.7 401.0 124.3 395.9 136.9 394.8 140.5 421.3 99.2 398.7 123.3 393.0 142.2 404.2 121.6 429.1 101.7 401.3 127.9 393.8 141.4 412.9 137.6 455.6 126.9 395.0 140.6 403.2 123.4 404.3 117.4 396.3 127.1 408.5 116.8 401.6 133.2 405.6 122.6 399.4 129.6 425.2 97.0 404.2 134.3 392.8 146.9 398.9 129.3 397.5 127.2 398.5 126.9 412.6 121.1 404.1 127.6 404.9 126.3 394.1 140.2 404.7 117.8 402.1 135.9 400.0 129.3 397.7 128.7 413.6 107.0 393.4 144.9 407.7 121.4 398.8 132.7 401.4 116.3 416.9 118.5 405.9 126.1 405.9 117.0 400.8 133.6 392.8 145.8 395.9 136.5 399.5 124.7 425.1 108.9 396.9 132.1 438.1 117.5 397.3 132.0 410.5 101.0 392.4 146.9 420.5 105.9 415.3 137.4 437.6 106.0 403.4 120.2 392.6 143.4 398.5 125.7 424.7 94.8 410.4 118.2 394.7 139.6 398.6 127.6 398.5 129.9 414.9 109.5 400.9 133.5 405.1 120.7 401.8 127.0 395.0 136.3 397.3 131.7 398.7 122.6 397.6 131.5 402.7 122.7 393.3 144.0 410.1 128.9 393.2 145.5 406.5 107.2 444.4 103.2 415.4 117.1 392.1 148.2 408.1 120.3 394.1 138.6 392.8 145.5 402.6 118.2 396.7 135.5 392.8 145.1 392.0 148.3 393.2 143.8 430.2 109.4 392.2 148.3 402.6 128.0 401.6 127.0 404.5 116.8 397.3 127.1 425.4 101.6 396.6 131.8 466.0 115.9 405.1 117.1 398.1 125.0 402.4 124.7 406.1 118.5 392.1 147.6 402.1 120.4 402.2 117.7 398.6 132.7 401.5 119.3 404.6 132.2 428.9 124.1 400.6 120.1 400.0 120.0 395.6 136.9 392.3 148.2 405.5 115.3 439.9 116.4 392.7 145.4 456.5 111.3 399.1 129.5 399.5 120.0 398.3 131.4 400.6 121.7 433.0 110.5 392.2 147.8 397.4 133.6 396.6 132.0 410.6 118.6 426.6 116.9 430.0 105.8 399.6 130.7 393.6 143.0 397.6 130.9 399.4 123.6 401.3 126.4 401.1 125.8 396.3 135.3 402.6 124.0 419.3 133.7 400.1 127.7 395.0 137.8 401.9 125.0 410.5 107.8 397.1 135.3 394.6 140.4 392.9 143.1 416.6 109.9 419.8 95.3 394.3 142.1 429.1 90.8 408.6 99.6 422.3 114.8 395.8 137.2 396.0 136.3 410.8 122.0 396.7 135.4 401.5 125.6 403.5 118.8 406.6 125.4 413.6 122.1 398.1 126.2 405.1 125.0 406.6 132.3 415.3 125.0 429.5 88.9 402.8 142.8 395.8 132.4 402.1 116.5 398.1 135.9 450.9 105.8 393.8 138.5 396.9 126.9 407.7 113.8 399.0 125.9 394.4 141.4 401.3 131.3 394.9 140.1 404.2 121.4 399.0 132.5 397.0 133.6 413.5 117.2 400.3 130.0 405.2 127.8 392.5 146.8 412.1 112.3 400.9 126.3 415.8 108.7 403.7 113.8 406.4 124.2 394.7 141.9 405.3 118.9 436.3 103.9 399.6 128.3 405.2 112.1 399.2 122.4 400.1 134.7 397.8 129.2 408.8 128.3 396.8 133.9 398.1 135.2 399.2 130.1 413.2 110.9 394.8 137.4 399.1 126.8 394.6 141.4 400.9 125.2 394.2 140.6 398.8 131.1 437.3 73.9 400.6 128.1 426.8 97.4 404.4 118.6 399.6 130.7 406.4 116.1 400.3 124.2 397.8 133.3 405.7 127.3 398.6 133.8 433.3 104.5 397.6 133.6 408.2 117.8 401.9 143.6 446.3 120.6 392.5 146.4 405.4 127.7 456.6 90.2 405.3 123.6 401.3 123.8 395.1 141.0 396.7 133.2 415.3 102.1 392.9 141.8 401.0 129.4 398.3 134.6 404.0 144.9 392.5 147.5 392.9 145.7 393.3 143.2 394.5 140.6 451.6 122.1 411.5 120.1 402.5 123.1 400.7 128.9" fill="none" stroke="none" marker-start="url(#m1)" marker-mid="url(#m1)" marker-end="url(#m1)"/>
<path d="M398.2 126.6 421.0 101.5 398.3 126.3 396.4 132.1 394.6 140.2 397.1 131.8 392.1 147.6 391.9 151.1 405.7 121.7 393.4 143.5 393.9 143.1 392.3 149.3 394.7 140.5 392.2 148.4 396.9 134.1 407.5 114.3 393.7 143.2 393.4 144.2 395.7 135.7 395.4 137.0 392.2 146.5 406.9 108.8 402.4 114.8 394.7 140.8 396.7 131.8 410.8 105.4 394.7 139.8 392.0 151.1 393.3 144.1 391.9 146.9 395.3 136.4 392.1 146.1 391.9 151.5 394.1 141.1 395.4 136.9 394.9 138.2 393.7 142.6" fill="none" stroke="none" marker-start="url(#m2)" marker-mid="url(#m2)" marker-end="url(#m2)"/>
<path d="M401.6 123.1 418.7 92.3 419.7 84.8 404.4 122.9 398.1 132.5 397.6 136.5 399.2 128.2 392.9 143.8 394.9 138.4 396.0 132.8 399.7 127.9 397.5 133.9 460.1 113.8 414.2 114.6 391.8 149.5 394.9 138.9 393.5 143.5 443.1 78.8 394.5 140.6 396.9 133.7 395.2 138.3 398.4 131.1 394.7 135.7 406.3 108.7 394.0 142.2 395.4 137.5 396.3 136.7 419.6 107.9 393.1 142.9 394.9 135.1 426.4 89.6 393.3 143.1 395.9 134.7 396.8 133.7" fill="none" stroke="none" marker-start="url(#m0)" marker-mid="url(#m0)" marker-end="url(#m0)"/>
<path d="M399.3 130.1 426.4 112.5 410.2 119.7 394.4 141.1 393.2 144.6 456.3 115.6 402.5 123.9 419.5 103.5 474.5 109.8 403.8 123.0 397.9 129.7 392.1 147.1 402.3 119.9 410.8 120.9 400.2 124.8 392.1 147.8 398.3 137.6 428.8 110.0 404.9 129.5 393.1 142.8 407.1 115.9 399.7 129.5 437.3 106.9 410.3 115.9 406.2 125.7 392.8 146.6 400.6 126.8 393.6 140.2 473.4 113.1 401.7 122.9 395.5 137.7 396.6 134.8 402.3 124.9 392.0 147.3 393.1 145.8 396.2 134.8 398.8 129.7 412.7 115.5 394.9 138.4 423.9 118.5 392.2 148.4 394.6 141.3 394.4 138.1 399.9 125.7 412.9 112.4 397.5 129.9 398.8 129.1 395.3 137.0 395.8 136.9 395.4 135.6 444.0 103.5 411.9 142.1 402.2 122.2 399.7 131.1 403.4 121.3 392.8 145.1 403.9 123.4 402.2 119.4 405.0 123.2 426.6 108.6 399.1 126.7 402.9 125.4 397.7 128.8 426.8 115.3 392.8 146.3 453.7 108.6 405.3 115.6 410.8 137.9 392.6 144.8 434.4 113.6 421.2 123.0 399.0 131.6 397.3 136.0 401.6 117.7 404.1 123.8 426.7 117.9 393.0 145.3 431.5 92.4 417.4 134.6 423.0 113.2 417.9 119.2 393.8 143.0 392.4 144.8 401.5 128.8 400.1 129.1 398.9 127.4 409.0 119.2 402.0 127.3 403.8 123.1 429.8 88.8 406.4 122.6 401.9 124.3 410.4 119.6 393.5 143.3 399.7 118.1 431.0 101.6 396.3 137.1 402.9 132.9 405.8 122.5 491.1 126.7 427.9 100.5 399.2 133.5 494.6 116.8 409.3 117.8 418.0 104.1 394.1 141.2 408.6 119.5 392.1 148.1 402.0 120.5 406.4 122.8 401.4 122.2 434.5 108.7 393.0 144.2 394.1 143.9 393.7 142.7 400.7 124.4 394.3 138.4 394.5 138.1 399.9 118.4 392.6 145.4 419.2 121.3 402.3 121.7 403.2 122.1 455.2 109.8 399.6 124.0 399.9 122.6 402.7 124.5 401.6 135.0 449.4 110.6 401.8 124.1 411.5 99.2 400.3 123.4 391.9 148.2 408.5 116.7 444.3 100.4 398.3 130.5 419.0 127.8 399.4 124.7 428.4 100.1 394.3 137.9 394.4 136.9 394.0 141.0 407.4 125.8 402.4 130.4 406.3 125.9 407.6 120.6 399.9 120.1 396.8 130.1 393.2 145.6 404.6 118.6 396.3 136.7 411.0 116.1 395.9 135.7 397.0 135.4 444.4 117.4 397.1 129.0 405.4 117.7 409.5 116.9 397.2 134.4 397.5 129.9 392.7 146.0 405.1 128.6 429.5 117.0 396.0 135.7 401.5 115.9 397.2 126.4 443.8 123.8 429.6 106.1 400.1 124.9 402.4 129.7 393.4 145.0 401.1 127.5 398.4 123.9 392.5 144.6 405.8 115.9 464.5 115.0 400.5 125.4 406.5 119.7 407.9 127.5 396.0 134.9 392.5 145.7 403.0 118.2 401.0 129.6 392.0 148.1 405.4 125.1 411.0 116.8 425.2 104.3 394.1 143.1 394.0 141.8 405.1 124.7 469.4 107.1 410.6 118.3 406.5 120.4 394.2 141.2 402.1 124.8 403.2 118.1 419.9 99.4 427.5 116.2 400.8 125.9 421.0 117.5 404.3 122.7 401.4 129.2 404.5 133.6 417.3 89.6 396.9 133.2 405.9 143.6 394.6 139.9 394.2 143.1 398.7 127.6 408.5 109.9 396.5 140.2 396.8 132.8 394.4 142.1 394.7 140.2 464.5 114.6 413.9 117.8 412.2 123.0 398.8 128.6 401.2 119.3 397.3 131.4 408.2 126.1 401.6 117.2 398.2 131.0 397.4 131.0 401.1 120.8 397.1 134.7 394.1 140.3 392.4 145.9 402.0 120.4 402.0 124.6 432.0 103.4 402.2 125.1 403.4 122.1 398.2 127.8 404.0 121.9 400.7 129.3 402.7 120.9 401.0 131.0 417.9 97.5 423.6 97.8 463.3 124.7 392.2 147.3 396.8 127.9 397.0 133.8 402.2 144.5 434.3 108.5 392.4 146.7 403.8 117.1 397.9 130.0 392.0 148.3 401.2 120.7 402.2 119.7 419.2 117.4 398.5 128.5 396.0 129.5 464.5 123.4 418.1 140.7 394.5 141.8 419.5 98.4 403.8 120.4 403.1 124.9 393.3 146.0 410.3 109.7 397.3 132.9 401.0 136.5 409.4 117.4 392.4 147.1 394.3 140.6 394.0 140.2 438.6 128.8 398.0 132.1 409.8 101.9 401.4 122.2 409.5 111.5 403.5 120.5 401.3 118.5 403.8 122.8 401.7 121.3 397.9 134.5 395.4 135.9 417.5 121.1 392.8 146.0 394.7 140.9 429.5 130.2 395.7 135.9 401.8 124.0 408.3 108.3 393.0 145.7 399.7 124.9 402.1 124.8 401.2 122.3 393.8 143.8 410.9 113.8 408.1 123.6 395.0 136.3 393.1 143.9 404.4 119.0 398.9 130.6 419.2 137.3 453.6 116.4 395.0 138.4 404.9 118.1 405.0 120.9 405.0 118.9 393.3 145.1 392.2 147.1 406.4 119.0 403.9 116.3 393.6 140.1 396.1 136.1 393.4 139.6 394.6 139.7 405.0 116.7 401.1 126.4 397.4 131.9 397.2 126.3 405.8 141.1 413.8 117.8 448.7 103.2 396.3 130.8 395.8 137.7 412.9 118.9 402.3 123.0 395.7 136.3 409.8 112.7 398.9 131.5 398.7 125.1 392.2 148.2 395.2 137.2 392.7 145.3 403.4 124.1 403.5 126.9 402.0 125.3 403.1 121.7 393.4 142.7 403.5 121.6 467.8 118.0 400.1 126.0 402.6 124.8 394.1 138.9 402.9 127.6 398.3 133.1 395.5 131.3 395.7 137.4 398.1 128.0 401.3 128.4 395.1 139.7 416.2 96.9 428.4 113.3 402.1 112.1 392.7 145.5 405.3 125.4 404.7 122.6 412.1 119.5 394.0 142.4 412.8 121.4 393.5 144.1 403.6 117.6 403.8 121.9 405.4 116.4 396.5 135.0 393.9 144.0 393.3 144.1 402.3 124.1 399.3 128.0 407.2 119.2 397.6 134.3 420.5 90.6 403.0 128.3 430.3 96.6 413.1 116.3 404.1 119.8 397.1 131.6 403.7 119.0 393.9 141.3 411.7 122.6 411.3 104.5 412.8 100.3 403.6 124.9 399.0 122.4 407.8 124.6 392.7 143.8 407.9 123.6 400.7 126.9 422.4 110.0 392.3 147.5 406.9 119.7 402.6 122.2 446.7 118.9 393.3 143.8 401.0 118.4 397.4 131.9 402.0 127.8 398.3 137.3 392.4 147.8 415.6 116.4 401.9 124.3 404.8 128.9 392.2 147.8 396.6 134.3 397.8 146.0 399.2 128.2 399.5 134.5 396.9 129.3 397.2 132.9 404.7 118.7 414.3 115.5 393.5 141.9 406.0 112.0 451.0 112.2 407.4 119.1 405.4 123.1 397.8 132.2 421.3 112.5 397.8 134.8 407.3 113.6 404.6 119.5 410.8 115.2 395.3 135.4 396.6 133.1 395.2 136.8 400.1 132.0 437.1 100.6 404.6 120.9 405.0 130.7 398.1 136.8 396.9 136.1 404.1 121.8" fill="none" stroke="none" marker-start="url(#m1)" marker-mid="url(#m1)" marker-end="url(#m1)"/>
<path d="M393.1 145.5 393.9 143.0 392.9 146.2 393.5 141.2 409.1 109.4 393.6 144.9 397.5 129.1 406.4 111.8 392.5 149.2 392.3 150.7 392.6 147.1 398.0 125.9 393.6 143.8 403.6 112.2 396.0 136.3 409.7 107.5 396.8 132.5 393.2 144.7 392.2 150.3 391.9 151.5 392.1 149.8 394.3 139.5 404.1 123.9 397.6 129.4 392.8 147.6 401.9 117.4 407.6 111.5 396.9 131.2 396.5 135.0 392.1 148.5 393.0 146.8 394.5 142.0 392.3 150.8 411.2 111.4 393.7 143.6 392.4 147.3 395.0 140.3" fill="none" stroke="none" marker-start="url(#m2)" marker-mid="url(#m2)" marker-end="url(#m2)"/>
<path d="M28.6,59.1V155.3H176" fill="none" stroke="#333" stroke-width="0.85"/>
<path d="M26.8,151.3H28.6" stroke="#333" stroke-width="0.6"/>
<text x="26" y="151.3" font-size="5.0" text-anchor="end" font-weight="normal" fill="#454545" dominant-baseline="central">0</text>
<path d="M26.8,129.26H28.6" stroke="#333" stroke-width="0.6"/>
<text x="26" y="129.26" font-size="5.0" text-anchor="end" font-weight="normal" fill="#454545" dominant-baseline="central">25</text>
<path d="M26.8,107.23H28.6" stroke="#333" stroke-width="0.6"/>
<text x="26" y="107.23" font-size="5.0" text-anchor="end" font-weight="normal" fill="#454545" dominant-baseline="central">50</text>
<path d="M26.8,85.19H28.6" stroke="#333" stroke-width="0.6"/>
<text x="26" y="85.19" font-size="5.0" text-anchor="end" font-weight="normal" fill="#454545" dominant-baseline="central">75</text>
<path d="M26.8,63.15H28.6" stroke="#333" stroke-width="0.6"/>
<text x="26" y="63.15" font-size="5.0" text-anchor="end" font-weight="normal" fill="#454545" dominant-baseline="central">100</text>
<path d="M34.5,155.3V157.1" stroke="#333" stroke-width="0.6"/>
<text x="34.5" y="160.2" font-size="5.0" text-anchor="middle" font-weight="normal" fill="#454545" dominant-baseline="central">0</text>
<path d="M67.5,155.3V157.1" stroke="#333" stroke-width="0.6"/>
<text x="67.5" y="160.2" font-size="5.0" text-anchor="middle" font-weight="normal" fill="#454545" dominant-baseline="central">1000</text>
<path d="M100.5,155.3V157.1" stroke="#333" stroke-width="0.6"/>
<text x="100.5" y="160.2" font-size="5.0" text-anchor="middle" font-weight="normal" fill="#454545" dominant-baseline="central">2000</text>
<path d="M133.5,155.3V157.1" stroke="#333" stroke-width="0.6"/>
<text x="133.5" y="160.2" font-size="5.0" text-anchor="middle" font-weight="normal" fill="#454545" dominant-baseline="central">3000</text>
<path d="M166.5,155.3V157.1" stroke="#333" stroke-width="0.6"/>
<text x="166.5" y="160.2" font-size="5.0" text-anchor="middle" font-weight="normal" fill="#454545" dominant-baseline="central">4000</text>
<text x="104.2" y="167.7" font-size="7.25" text-anchor="middle" font-weight="bold" fill="#000" dominant-baseline="central" stroke="#000" stroke-width="0.22">nFeature_RNA</text>
<text x="0" y="0" transform="translate(11.4,107.2) rotate(-90)" font-size="7.25" text-anchor="middle" font-weight="bold" fill="#000" dominant-baseline="central" stroke="#000" stroke-width="0.22">percent.mt</text>
<path d="M205.6,59.1V155.3H356" fill="none" stroke="#333" stroke-width="0.85"/>
<path d="M203.8,151.3H205.6" stroke="#333" stroke-width="0.6"/>
<text x="203" y="151.3" font-size="5.0" text-anchor="end" font-weight="normal" fill="#454545" dominant-baseline="central">0</text>
<path d="M203.8,129.26H205.6" stroke="#333" stroke-width="0.6"/>
<text x="203" y="129.26" font-size="5.0" text-anchor="end" font-weight="normal" fill="#454545" dominant-baseline="central">25</text>
<path d="M203.8,107.23H205.6" stroke="#333" stroke-width="0.6"/>
<text x="203" y="107.23" font-size="5.0" text-anchor="end" font-weight="normal" fill="#454545" dominant-baseline="central">50</text>
<path d="M203.8,85.19H205.6" stroke="#333" stroke-width="0.6"/>
<text x="203" y="85.19" font-size="5.0" text-anchor="end" font-weight="normal" fill="#454545" dominant-baseline="central">75</text>
<path d="M203.8,63.15H205.6" stroke="#333" stroke-width="0.6"/>
<text x="203" y="63.15" font-size="5.0" text-anchor="end" font-weight="normal" fill="#454545" dominant-baseline="central">100</text>
<path d="M211.6,155.3V157.1" stroke="#333" stroke-width="0.6"/>
<text x="211.6" y="160.2" font-size="5.0" text-anchor="middle" font-weight="normal" fill="#454545" dominant-baseline="central">0</text>
<path d="M245.2,155.3V157.1" stroke="#333" stroke-width="0.6"/>
<text x="245.2" y="160.2" font-size="5.0" text-anchor="middle" font-weight="normal" fill="#454545" dominant-baseline="central">1000</text>
<path d="M278.8,155.3V157.1" stroke="#333" stroke-width="0.6"/>
<text x="278.8" y="160.2" font-size="5.0" text-anchor="middle" font-weight="normal" fill="#454545" dominant-baseline="central">2000</text>
<path d="M312.4,155.3V157.1" stroke="#333" stroke-width="0.6"/>
<text x="312.4" y="160.2" font-size="5.0" text-anchor="middle" font-weight="normal" fill="#454545" dominant-baseline="central">3000</text>
<path d="M346,155.3V157.1" stroke="#333" stroke-width="0.6"/>
<text x="346" y="160.2" font-size="5.0" text-anchor="middle" font-weight="normal" fill="#454545" dominant-baseline="central">4000</text>
<text x="280.8" y="167.7" font-size="7.25" text-anchor="middle" font-weight="bold" fill="#000" dominant-baseline="central" stroke="#000" stroke-width="0.22">nFeature_RNA</text>
<text x="0" y="0" transform="translate(188.2,107.2) rotate(-90)" font-size="7.25" text-anchor="middle" font-weight="bold" fill="#000" dominant-baseline="central" stroke="#000" stroke-width="0.22">percent.ribo</text>
<path d="M385.6,59.1V155.3H533.4" fill="none" stroke="#333" stroke-width="0.85"/>
<path d="M383.8,151.9H385.6" stroke="#333" stroke-width="0.6"/>
<text x="383" y="151.9" font-size="5.0" text-anchor="end" font-weight="normal" fill="#454545" dominant-baseline="central">0</text>
<path d="M383.8,130.35H385.6" stroke="#333" stroke-width="0.6"/>
<text x="383" y="130.35" font-size="5.0" text-anchor="end" font-weight="normal" fill="#454545" dominant-baseline="central">1000</text>
<path d="M383.8,108.8H385.6" stroke="#333" stroke-width="0.6"/>
<text x="383" y="108.8" font-size="5.0" text-anchor="end" font-weight="normal" fill="#454545" dominant-baseline="central">2000</text>
<path d="M383.8,87.25H385.6" stroke="#333" stroke-width="0.6"/>
<text x="383" y="87.25" font-size="5.0" text-anchor="end" font-weight="normal" fill="#454545" dominant-baseline="central">3000</text>
<path d="M383.8,65.7H385.6" stroke="#333" stroke-width="0.6"/>
<text x="383" y="65.7" font-size="5.0" text-anchor="end" font-weight="normal" fill="#454545" dominant-baseline="central">4000</text>
<path d="M391.6,155.3V157.1" stroke="#333" stroke-width="0.6"/>
<text x="391.6" y="160.2" font-size="5.0" text-anchor="middle" font-weight="normal" fill="#454545" dominant-baseline="central">0</text>
<path d="M422.9,155.3V157.1" stroke="#333" stroke-width="0.6"/>
<text x="422.9" y="160.2" font-size="5.0" text-anchor="middle" font-weight="normal" fill="#454545" dominant-baseline="central">10,000</text>
<path d="M454.2,155.3V157.1" stroke="#333" stroke-width="0.6"/>
<text x="454.2" y="160.2" font-size="5.0" text-anchor="middle" font-weight="normal" fill="#454545" dominant-baseline="central">20,000</text>
<path d="M485.5,155.3V157.1" stroke="#333" stroke-width="0.6"/>
<text x="485.5" y="160.2" font-size="5.0" text-anchor="middle" font-weight="normal" fill="#454545" dominant-baseline="central">30,000</text>
<path d="M516.8,155.3V157.1" stroke="#333" stroke-width="0.6"/>
<text x="516.8" y="160.2" font-size="5.0" text-anchor="middle" font-weight="normal" fill="#454545" dominant-baseline="central">40,000</text>
<text x="459.5" y="167.7" font-size="7.25" text-anchor="middle" font-weight="bold" fill="#000" dominant-baseline="central" stroke="#000" stroke-width="0.22">nCount_RNA</text>
<text x="0" y="0" transform="translate(364.9,107.2) rotate(-90)" font-size="7.25" text-anchor="middle" font-weight="bold" fill="#000" dominant-baseline="central" stroke="#000" stroke-width="0.22">nFeature_RNA</text>
<text x="177.8" y="223.7" font-size="8.3" text-anchor="middle" font-weight="bold" fill="#000" dominant-baseline="central" stroke="#000" stroke-width="0.22">Epithelium</text>
<path d="M29.6,278.85H116" stroke="#d9475a" stroke-width="1" stroke-dasharray="2.5 2.6" opacity="0.85"/>
<path d="M144.8,264.1H231.3" stroke="#d9475a" stroke-width="1" stroke-dasharray="2.5 2.6" opacity="0.85"/>
<path d="M263.3,246.46H347.8" stroke="#d9475a" stroke-width="1" stroke-dasharray="2.5 2.6" opacity="0.85"/>
<path d="M54.4 291.9 50.2 292.2 57.0 292.9 64.2 293.5 86.6 290.3 56.2 293.0 42.8 290.9 52.3 293.4 46.7 293.0 41.7 288.5 52.0 289.8 32.6 239.9 42.7 288.7 78.6 293.5 33.9 241.4 64.7 293.6 109.2 291.0 53.0 285.1 72.6 291.7 57.7 292.9 39.5 293.1 39.9 293.0 84.9 291.3 36.3 292.9 51.9 290.3 46.9 288.2 57.8 293.0 48.7 292.8 57.6 291.5 47.1 291.6 105.3 287.7 48.6 291.0 44.5 293.0 52.4 288.9 79.2 292.4 44.6 292.7 54.6 291.9 51.6 293.3 55.6 287.6 57.8 288.7 33.2 293.0 48.8 291.6 43.2 274.4 53.4 291.1 46.5 292.1 48.8 292.2 38.5 277.1 54.4 293.5 57.7 290.2 47.7 293.1 47.7 292.9 58.1 292.5 34.7 242.3 40.0 291.9 98.6 291.7 46.1 291.8 48.8 291.7 50.7 290.7 61.5 292.5 39.6 292.9 59.5 291.9 57.6 293.3 54.9 293.4 44.9 292.7 98.8 291.9 84.1 292.8 55.7 292.6 34.4 249.9 39.8 293.0 41.1 292.1 55.2 293.1 54.0 293.5 77.2 292.5 45.2 291.3 44.1 292.7 45.1 291.7 37.3 291.9 100.6 292.3 57.6 290.7 36.5 293.3 47.7 293.2 48.9 293.4 45.3 290.2 51.8 291.6 55.6 288.3 56.9 289.6 47.1 292.9 42.1 292.3 79.1 293.0 52.5 293.3 65.1 292.7 51.6 286.1 54.6 292.9 84.3 291.3 41.5 291.9 45.8 293.3 56.0 292.8 36.4 290.3 62.3 292.6 51.0 290.9 32.6 292.7 52.7 292.8 59.9 292.8 49.8 291.4 54.5 290.6 63.9 291.8 60.4 292.4 40.6 289.0 48.6 292.9 63.5 291.2 58.7 290.4 64.5 293.2 51.4 291.5 50.2 292.7 54.1 291.1 60.3 290.8 51.0 292.7 36.9 290.2 46.3 292.1 37.2 289.3 57.3 291.9 51.9 293.0 60.2 292.4 49.7 293.4 40.9 292.8 54.7 287.8 84.1 293.1 48.0 290.7 47.0 288.8 48.4 292.2 58.8 293.1 50.2 292.3 42.5 292.3 36.6 293.0 45.1 291.9 43.0 286.2 40.2 290.0 53.1 292.7 44.1 285.5 56.5 284.8 45.4 292.4 68.1 293.4 38.5 293.2 69.9 293.3 57.5 292.4 49.0 291.4 43.6 292.7 40.6 288.0 65.4 290.9 64.3 292.5 37.7 291.6 58.9 292.5 44.7 291.8 41.1 291.7 95.7 292.1 70.8 293.5 58.5 292.1 53.5 291.6 48.5 291.7 63.6 292.9 52.9 292.6 48.9 292.9 79.8 291.5 41.8 291.6 105.2 291.9 51.4 292.0 37.0 293.0 55.4 292.7 52.5 293.3 64.0 293.4 39.9 291.6 50.9 290.9 80.1 293.2 48.8 291.5 56.9 287.0 83.2 292.9 65.0 293.3 61.6 292.2 36.4 293.0 56.2 290.7 47.1 290.7 58.3 290.2 43.3 292.7 86.9 293.0 59.4 291.7 45.5 289.9 51.2 291.1 77.5 293.5 71.8 289.8 63.2 292.4 57.6 291.5 59.5 291.0 47.6 292.5 56.9 289.6 45.8 290.4 39.2 291.4 43.6 291.4 70.3 292.0 60.2 292.6 52.8 293.0 50.7 283.5 42.9 291.7 81.9 292.8 88.4 293.0 51.5 292.6 53.0 286.3 59.5 290.9 61.2 293.2 68.1 292.7 69.4 291.7 39.9 291.4 57.2 288.4 54.7 289.2 86.2 293.0 46.7 292.2 51.6 292.1 50.4 291.2 79.4 291.1 45.3 291.1 52.7 289.0 93.1 292.4 46.7 292.3 95.0 293.1 92.4 293.3 62.7 293.2 86.0 291.7 59.9 293.1 60.6 292.0 41.5 289.1 45.7 291.7 46.3 292.4 66.5 293.5 67.0 293.0 37.9 291.2 59.9 293.2 57.3 290.7 66.8 292.6 43.6 291.5 42.3 291.9 49.5 287.2 56.0 292.1 64.0 292.5 69.6 293.2 36.8 277.7 37.1 287.1 50.5 292.5 56.0 289.8 68.7 291.9 59.3 293.5 59.0 291.4 58.2 287.8 98.7 292.8 40.9 291.9 49.6 292.4 42.1 293.1 56.3 293.0 55.9 287.3 49.0 291.6 37.5 262.1 102.5 292.4 38.6 292.1 60.9 293.2" fill="none" stroke="none" marker-start="url(#m3)" marker-mid="url(#m3)" marker-end="url(#m3)"/>
<path d="M163.2 277.2 179.3 273.2 173.5 267.2 148.7 288.7 185.8 285.4 157.3 289.2 175.2 278.6 175.4 272.3 183.2 273.8 171.9 271.1 160.0 269.8 200.0 273.3 166.7 272.1 152.0 282.7 155.3 285.0 161.0 272.1 197.6 280.9 185.1 262.2 162.2 277.8 158.6 291.9 187.4 278.7 176.9 267.6 206.4 271.6 163.6 277.8 182.3 278.2 154.1 291.7 167.0 288.9 184.7 278.2 160.7 271.8 154.3 288.8 174.6 264.7 162.7 276.0 168.9 271.7 161.1 272.7 171.6 281.9 178.7 268.2 171.8 277.5 161.5 273.9 206.8 285.0 162.1 274.4 159.6 290.7 169.2 271.1 163.8 271.4 153.3 292.5 166.8 268.7 169.3 276.0 165.1 281.5 148.1 287.9 207.1 284.5 166.3 270.7 171.4 264.3 179.1 272.2 158.8 289.8 170.9 276.5 147.8 289.3 162.3 274.5 173.8 265.8 172.6 276.2 168.7 271.5 167.3 274.6 164.1 275.8 174.5 275.7 175.1 282.9 162.6 270.4 182.2 288.0 168.7 287.7 164.3 272.4 171.3 268.7 169.6 267.6 223.7 282.4 178.4 273.5 173.8 277.5 195.8 282.5 184.6 268.7 215.5 274.7 179.0 274.1 172.9 266.4 166.7 268.5 172.0 274.9 159.5 281.9 158.4 293.5 225.9 279.2 168.6 273.9 165.4 268.5 157.9 289.1 210.3 270.0 167.1 291.3 178.9 265.7 171.6 266.7 173.0 272.9 150.7 291.5 171.8 272.8 166.5 277.5 159.0 285.6 176.4 268.4 158.1 282.9 166.2 270.0 173.3 270.2 181.4 282.5 218.2 269.7 163.7 269.8 158.7 262.4 226.9 288.7 166.3 269.8 162.3 272.4 177.3 268.3 167.2 270.2 206.8 277.8 228.1 274.8 171.0 273.6 174.2 276.1 165.0 273.9 157.7 282.1 170.1 268.0 173.7 263.9 166.5 273.0 183.6 285.0 152.2 281.9 163.6 275.1 154.8 292.4 167.5 273.8 150.3 292.9 173.5 276.1 179.2 273.7 166.0 270.9 174.3 271.7 165.3 270.4 178.3 277.0 166.5 270.3 225.8 272.6 169.8 275.8 168.0 276.2 159.8 280.8 159.7 289.0 173.8 274.1 186.1 289.5 183.3 275.9 180.9 272.0 172.0 275.3 171.2 278.1 168.5 270.9 197.6 285.3 165.5 264.0 177.0 268.7 164.0 276.1 193.7 270.6 185.9 282.8 171.0 278.6 211.8 276.9 184.0 268.5 180.8 279.1 195.1 274.2 154.1 281.7 166.5 270.0 169.8 273.5 155.9 282.3 164.7 268.6 167.1 273.5 219.5 280.8 154.8 293.0 163.0 290.8 178.9 269.8 177.5 271.3 185.9 278.9 167.7 272.7 168.2 284.6 171.3 270.5 173.3 263.8 179.7 274.2 173.4 273.5 166.9 272.1 161.4 286.4 152.0 289.8 171.4 266.2 172.7 280.7 162.6 270.5 163.7 276.7 174.8 269.8 159.7 289.4 165.3 276.7 183.0 284.4 163.5 264.7 181.3 267.5 162.9 271.2 177.6 276.2 161.6 269.6 172.5 267.0 173.6 267.8 169.2 268.9 175.9 272.6 171.8 269.8 164.1 264.3 161.7 272.9 175.4 265.4 177.1 271.7 203.6 283.0 178.6 272.6 160.4 288.0 183.6 285.7 162.8 285.9 159.6 287.8 179.0 270.8 202.5 271.7 170.7 265.1 172.7 272.3 158.9 281.4 172.1 264.8 223.6 283.0 184.8 262.1 164.8 264.9 155.0 290.6 165.2 275.7 172.7 274.2 151.6 282.8 161.4 283.3 218.4 277.6 171.4 269.4 170.6 272.5 160.2 289.2 158.4 281.3 220.7 281.2 203.9 284.1 168.9 274.2 170.2 277.3 180.3 274.8 179.1 268.2 161.1 272.6 175.6 275.0 158.5 268.2 181.8 288.4 168.6 272.9 198.8 273.0 178.2 275.0 152.4 289.6 165.1 286.2 175.8 279.9 155.1 288.8 156.2 291.1 165.5 282.5 163.1 271.2 165.0 272.2 179.7 276.9 168.2 274.9 166.4 281.0 168.5 273.7 163.2 266.6 177.1 271.1 161.6 290.5 152.0 288.8 227.4 280.7 175.2 274.5 216.9 279.8 170.2 268.3 168.6 271.2 180.3 261.4 156.8 289.4 174.5 277.3 168.3 281.6 165.0 264.3 166.1 277.7 170.8 273.6 158.0 288.6 162.7 274.2 176.2 274.1 169.4 272.6 155.5 284.6 179.0 285.1 169.2 275.7 192.1 278.3 174.3 266.2 168.6 271.8 171.0 272.8 169.3 279.9 175.0 263.3 170.1 265.9 164.1 267.9 186.0 284.9 171.4 273.6 163.4 272.3 160.3 273.8 220.2 271.9 169.5 279.8 188.1 273.2 170.3 275.9 168.0 289.6 216.3 290.5 165.8 266.9 172.2 276.9 171.9 268.2 178.4 274.3 153.6 291.6 177.7 269.1 181.2 277.8 173.0 275.8 179.7 271.9 163.3 271.0 147.8 291.8 159.3 282.6 175.0 261.5 171.6 268.2 170.9 273.1 148.5 290.2 220.8 288.2" fill="none" stroke="none" marker-start="url(#m3)" marker-mid="url(#m3)" marker-end="url(#m3)"/>
<path d="M266.4 290.1 278.8 258.3 275.5 271.2 269.5 281.6 268.0 283.1 266.4 289.4 267.1 285.4 267.9 283.9 271.0 279.8 279.8 268.2 269.1 282.6 266.6 288.6 271.5 279.5 266.8 287.7 287.2 258.0 265.9 292.1 270.8 281.9 268.1 283.1 268.5 285.0 269.5 283.3 299.8 271.2 278.5 268.2 269.7 282.7 267.9 283.9 266.7 286.0 273.0 277.9 277.5 269.6 273.7 273.0 277.2 273.9 271.8 274.1 266.9 288.0 270.5 277.6 272.9 276.8 278.4 261.6 270.1 280.0 268.9 283.7 269.6 282.5 269.6 282.0 275.7 270.9 271.4 274.4 267.7 285.9 269.6 281.0 283.1 265.9 286.0 280.9 271.9 277.4 269.8 280.6 273.4 277.8 276.5 272.5 268.9 284.8 266.4 290.2 268.7 283.7 275.2 275.1 268.3 285.5 267.9 285.9 267.0 288.6 268.5 285.0 282.0 285.6 268.6 282.5 270.7 277.6 278.2 269.1 292.3 256.1 266.2 289.8 279.1 268.0 268.2 285.0 268.6 283.9 270.9 277.0 268.6 282.7 270.1 281.5 268.7 283.9 268.7 283.1 274.7 270.1 275.0 268.2 269.0 283.7 270.5 280.7 272.8 277.5 268.3 283.8 268.1 284.5 281.1 261.1 270.7 278.2 268.0 284.0 269.4 281.0 266.7 289.3 270.0 280.8 271.6 280.2 274.9 273.6 270.6 279.8 268.3 285.7 267.4 285.1 266.8 287.4 267.0 287.4 272.7 274.6 266.0 291.5 267.1 287.8 273.4 278.7 270.2 279.6 266.6 289.2 266.0 290.5 272.5 275.9 265.9 292.1 268.1 287.0 288.6 258.3 270.4 282.0 268.1 283.4 269.4 283.2 266.0 291.3 272.0 277.9 267.2 286.9 296.5 272.0 271.2 280.4 267.8 285.7 266.4 289.8 274.7 276.8 270.6 279.0 267.2 287.5 269.5 280.3 272.5 277.4 281.5 266.2 267.4 288.5 267.0 288.5 267.6 286.5 278.5 271.8 271.4 281.1 274.1 270.1 268.9 283.3 265.7 292.3 266.6 289.1 271.4 278.0 266.2 290.7 288.9 259.7 269.5 284.0 266.5 288.4 273.5 280.3 268.1 285.5 276.9 266.7 267.4 286.1 268.8 283.1 267.8 285.2 274.7 272.1 269.4 282.1 270.7 278.0 268.6 285.6 270.9 280.9 274.0 274.4 270.9 280.8 267.8 287.4 268.5 280.8 269.0 281.3 267.6 286.6 311.5 267.1 265.7 293.1 268.2 285.4 266.7 288.4 266.8 288.4 295.6 253.6 268.8 282.3 280.1 266.7 274.9 276.7 267.6 287.0 266.9 287.8 272.7 275.6 277.1 266.9 268.7 283.6 267.9 285.8 270.7 278.5 276.7 271.6 266.2 290.4 267.4 286.1 274.7 270.4 282.2 255.4 267.6 286.2 268.0 284.3 270.8 277.0 269.6 282.4 270.0 281.1 270.8 279.3 296.5 254.4 268.0 283.2 281.9 269.7 267.7 286.4 268.7 283.3 270.9 281.0 342.4 256.1 270.9 283.2 267.5 286.7 272.3 278.1 273.2 277.6 269.8 281.3 276.3 275.0 268.0 284.6 297.1 266.0 269.4 282.3 267.3 287.7 268.5 284.7 285.8 259.6 269.0 284.0 267.4 285.9 275.2 265.5 266.5 288.9 271.6 276.1 274.0 275.5 265.7 292.6 266.3 289.4 269.6 282.6 273.7 268.6 267.4 286.8 267.8 286.4 292.2 255.4 269.1 284.9 266.9 287.2 273.2 277.2 265.9 291.2 278.9 265.3 271.1 280.5 269.7 282.1 266.6 288.3 277.0 271.5 269.5 280.3 268.0 285.8 266.1 291.4 276.0 271.2 278.8 273.4 279.0 262.1 266.0 291.9 286.0 274.6 270.6 282.0 278.2 289.4 282.9 255.8 273.6 273.1 276.7 270.1 298.5 257.0 280.1 268.8 267.7 286.4 270.9 277.8 268.7 283.9 281.0 255.2 266.8 288.3 267.0 286.7 270.2 282.2 266.8 288.3 271.3 279.4 293.2 254.7 270.4 283.0 272.0 281.7 305.5 272.9 272.2 276.7 272.0 278.4 269.1 285.4 280.6 262.9 272.1 273.6 268.1 284.9 280.9 267.4 273.3 275.0 267.5 286.5 278.1 263.8 268.4 281.7 266.8 287.6 282.8 257.5 272.2 272.7 270.9 277.9 281.1 262.8 271.0 280.9 300.5 282.3 268.8 283.8 267.4 285.0 281.4 261.1 289.3 266.6 273.4 276.5 273.0 273.6 268.5 281.4 276.6 268.4 266.2 289.8 266.0 291.2 267.8 286.0 271.7 274.4 292.5 261.3 271.9 279.1 267.8 286.0 270.8 284.3 270.1 276.5 281.9 257.0 267.5 286.7 278.6 263.1 268.7 282.3 273.9 273.0 269.6 281.9 291.7 254.7 273.9 275.6 277.1 261.0 266.9 287.2 273.9 272.6 270.9 276.2 268.7 284.8 270.3 280.7 281.8 269.7 266.6 288.8 284.8 259.3 266.1 290.6 269.8 281.6 267.5 284.7 266.0 290.9 267.3 287.3 311.5 279.5 282.6 261.9 269.3 281.5 269.5 282.1 288.3 259.9" fill="none" stroke="none" marker-start="url(#m3)" marker-mid="url(#m3)" marker-end="url(#m3)"/>
<path d="M28.6,231.5V296.3H116" fill="none" stroke="#333" stroke-width="0.85"/>
<path d="M26.8,293.6H28.6" stroke="#333" stroke-width="0.6"/>
<text x="26" y="293.6" font-size="5.1" text-anchor="end" font-weight="normal" fill="#454545" dominant-baseline="central">0</text>
<path d="M26.8,278.85H28.6" stroke="#333" stroke-width="0.6"/>
<text x="26" y="278.85" font-size="5.1" text-anchor="end" font-weight="normal" fill="#454545" dominant-baseline="central">25</text>
<path d="M26.8,264.1H28.6" stroke="#333" stroke-width="0.6"/>
<text x="26" y="264.1" font-size="5.1" text-anchor="end" font-weight="normal" fill="#454545" dominant-baseline="central">50</text>
<path d="M26.8,249.35H28.6" stroke="#333" stroke-width="0.6"/>
<text x="26" y="249.35" font-size="5.1" text-anchor="end" font-weight="normal" fill="#454545" dominant-baseline="central">75</text>
<path d="M26.8,234.6H28.6" stroke="#333" stroke-width="0.6"/>
<text x="26" y="234.6" font-size="5.1" text-anchor="end" font-weight="normal" fill="#454545" dominant-baseline="central">100</text>
<path d="M31.3,296.3V298.1" stroke="#333" stroke-width="0.6"/>
<text x="31.3" y="301.2" font-size="5.1" text-anchor="middle" font-weight="normal" fill="#454545" dominant-baseline="central">0</text>
<path d="M54.8,296.3V298.1" stroke="#333" stroke-width="0.6"/>
<text x="54.8" y="301.2" font-size="5.1" text-anchor="middle" font-weight="normal" fill="#454545" dominant-baseline="central">1000</text>
<path d="M78.3,296.3V298.1" stroke="#333" stroke-width="0.6"/>
<text x="78.3" y="301.2" font-size="5.1" text-anchor="middle" font-weight="normal" fill="#454545" dominant-baseline="central">2000</text>
<path d="M101.8,296.3V298.1" stroke="#333" stroke-width="0.6"/>
<text x="101.8" y="301.2" font-size="5.1" text-anchor="middle" font-weight="normal" fill="#454545" dominant-baseline="central">3000</text>
<text x="72.3" y="308.6" font-size="7.2" text-anchor="middle" font-weight="bold" fill="#000" dominant-baseline="central" stroke="#000" stroke-width="0.22">nFeature_RNA</text>
<text x="0" y="0" transform="translate(10.7,263.9) rotate(-90)" font-size="6.8" text-anchor="middle" font-weight="bold" fill="#000" dominant-baseline="central" stroke="#000" stroke-width="0.22">percent.mt</text>
<path d="M143.8,231.5V296.3H231.3" fill="none" stroke="#333" stroke-width="0.85"/>
<path d="M142,293.6H143.8" stroke="#333" stroke-width="0.6"/>
<text x="141.2" y="293.6" font-size="5.1" text-anchor="end" font-weight="normal" fill="#454545" dominant-baseline="central">0</text>
<path d="M142,278.85H143.8" stroke="#333" stroke-width="0.6"/>
<text x="141.2" y="278.85" font-size="5.1" text-anchor="end" font-weight="normal" fill="#454545" dominant-baseline="central">25</text>
<path d="M142,264.1H143.8" stroke="#333" stroke-width="0.6"/>
<text x="141.2" y="264.1" font-size="5.1" text-anchor="end" font-weight="normal" fill="#454545" dominant-baseline="central">50</text>
<path d="M142,249.35H143.8" stroke="#333" stroke-width="0.6"/>
<text x="141.2" y="249.35" font-size="5.1" text-anchor="end" font-weight="normal" fill="#454545" dominant-baseline="central">75</text>
<path d="M142,234.6H143.8" stroke="#333" stroke-width="0.6"/>
<text x="141.2" y="234.6" font-size="5.1" text-anchor="end" font-weight="normal" fill="#454545" dominant-baseline="central">100</text>
<path d="M146.7,296.3V298.1" stroke="#333" stroke-width="0.6"/>
<text x="146.7" y="301.2" font-size="5.1" text-anchor="middle" font-weight="normal" fill="#454545" dominant-baseline="central">0</text>
<path d="M170.4,296.3V298.1" stroke="#333" stroke-width="0.6"/>
<text x="170.4" y="301.2" font-size="5.1" text-anchor="middle" font-weight="normal" fill="#454545" dominant-baseline="central">1000</text>
<path d="M194.1,296.3V298.1" stroke="#333" stroke-width="0.6"/>
<text x="194.1" y="301.2" font-size="5.1" text-anchor="middle" font-weight="normal" fill="#454545" dominant-baseline="central">2000</text>
<path d="M217.8,296.3V298.1" stroke="#333" stroke-width="0.6"/>
<text x="217.8" y="301.2" font-size="5.1" text-anchor="middle" font-weight="normal" fill="#454545" dominant-baseline="central">3000</text>
<text x="187.55" y="308.6" font-size="7.2" text-anchor="middle" font-weight="bold" fill="#000" dominant-baseline="central" stroke="#000" stroke-width="0.22">nFeature_RNA</text>
<text x="0" y="0" transform="translate(126.1,263.9) rotate(-90)" font-size="6.8" text-anchor="middle" font-weight="bold" fill="#000" dominant-baseline="central" stroke="#000" stroke-width="0.22">percent.ribo</text>
<path d="M262.3,231.5V296.3H347.8" fill="none" stroke="#333" stroke-width="0.85"/>
<path d="M260.5,293.9H262.3" stroke="#333" stroke-width="0.6"/>
<text x="259.7" y="293.9" font-size="5.1" text-anchor="end" font-weight="normal" fill="#454545" dominant-baseline="central">0</text>
<path d="M260.5,282.04H262.3" stroke="#333" stroke-width="0.6"/>
<text x="259.7" y="282.04" font-size="5.1" text-anchor="end" font-weight="normal" fill="#454545" dominant-baseline="central">1000</text>
<path d="M260.5,270.18H262.3" stroke="#333" stroke-width="0.6"/>
<text x="259.7" y="270.18" font-size="5.1" text-anchor="end" font-weight="normal" fill="#454545" dominant-baseline="central">2000</text>
<path d="M260.5,258.32H262.3" stroke="#333" stroke-width="0.6"/>
<text x="259.7" y="258.32" font-size="5.1" text-anchor="end" font-weight="normal" fill="#454545" dominant-baseline="central">3000</text>
<path d="M260.5,246.46H262.3" stroke="#333" stroke-width="0.6"/>
<text x="259.7" y="246.46" font-size="5.1" text-anchor="end" font-weight="normal" fill="#454545" dominant-baseline="central">4000</text>
<path d="M260.5,234.6H262.3" stroke="#333" stroke-width="0.6"/>
<text x="259.7" y="234.6" font-size="5.1" text-anchor="end" font-weight="normal" fill="#454545" dominant-baseline="central">5000</text>
<path d="M265.6,296.3V298.1" stroke="#333" stroke-width="0.6"/>
<text x="265.6" y="301.2" font-size="5.1" text-anchor="middle" font-weight="normal" fill="#454545" dominant-baseline="central">0</text>
<path d="M283.8,296.3V298.1" stroke="#333" stroke-width="0.6"/>
<text x="283.8" y="301.2" font-size="5.1" text-anchor="middle" font-weight="normal" fill="#454545" dominant-baseline="central">10,000</text>
<path d="M302,296.3V298.1" stroke="#333" stroke-width="0.6"/>
<text x="302" y="301.2" font-size="5.1" text-anchor="middle" font-weight="normal" fill="#454545" dominant-baseline="central">20,000</text>
<path d="M320.2,296.3V298.1" stroke="#333" stroke-width="0.6"/>
<text x="320.2" y="301.2" font-size="5.1" text-anchor="middle" font-weight="normal" fill="#454545" dominant-baseline="central">30,000</text>
<path d="M338.4,296.3V298.1" stroke="#333" stroke-width="0.6"/>
<text x="338.4" y="301.2" font-size="5.1" text-anchor="middle" font-weight="normal" fill="#454545" dominant-baseline="central">40,000</text>
<text x="305.05" y="308.6" font-size="7.2" text-anchor="middle" font-weight="bold" fill="#000" dominant-baseline="central" stroke="#000" stroke-width="0.22">nCount_RNA</text>
<text x="0" y="0" transform="translate(242,263.9) rotate(-90)" font-size="6.8" text-anchor="middle" font-weight="bold" fill="#000" dominant-baseline="central" stroke="#000" stroke-width="0.22">nFeature_RNA</text>
<text x="177.8" y="321.7" font-size="8.3" text-anchor="middle" font-weight="bold" fill="#000" dominant-baseline="central" stroke="#000" stroke-width="0.22">Gingiva</text>
<path d="M29.6,376.65H116.5" stroke="#d9475a" stroke-width="1" stroke-dasharray="2.5 2.6" opacity="0.85"/>
<path d="M144.8,361.9H231.3" stroke="#d9475a" stroke-width="1" stroke-dasharray="2.5 2.6" opacity="0.85"/>
<path d="M263.3,344.26H347.5" stroke="#d9475a" stroke-width="1" stroke-dasharray="2.5 2.6" opacity="0.85"/>
<path d="M62.4 390.4 44.1 388.1 86.3 390.9 61.1 390.8 44.9 390.9 35.2 390.9 59.1 388.7 37.1 390.6 66.1 391.0 46.8 388.3 37.4 389.5 39.1 389.8 54.9 391.0 56.3 390.7 34.0 386.9 41.5 391.4 60.3 390.1 35.1 386.8 92.9 391.2 46.5 390.6 38.0 390.2 40.1 387.6 61.8 391.1 58.3 391.3 69.5 389.7 42.7 390.9 68.3 391.3 82.0 391.1 34.1 386.3 63.2 391.4 90.7 390.7 46.5 389.6 65.5 391.3 43.9 389.6 65.0 391.3 36.7 383.5 67.7 390.9 53.8 390.7 103.3 389.6 77.6 390.9 33.2 391.0 69.8 391.0 36.0 389.8 40.6 387.5 73.9 390.2 91.8 390.9 50.2 389.5 41.4 386.4 77.4 389.9 54.6 391.3 65.1 389.5 47.4 391.4 72.3 391.1 73.3 390.6 35.4 391.2 58.4 387.2 60.5 391.3 72.7 391.4 64.0 390.7 45.1 390.1 89.5 391.2 53.6 390.2 62.3 391.4 63.5 390.9 38.0 386.4 66.0 391.0 45.1 391.0 43.1 391.1 43.6 390.1 87.9 390.4 38.1 387.6 56.3 391.1 72.7 391.3 39.0 387.7 55.3 389.1 39.4 390.0 46.3 390.5 34.1 385.9 72.9 390.9 40.4 390.4 47.4 390.3 54.0 390.9 82.0 391.0 57.8 390.7 37.3 390.2 73.2 390.9 33.2 391.3 41.7 390.4 41.6 390.0 34.1 383.8 40.5 387.9 49.4 390.8 72.2 391.3 93.7 390.2 35.7 391.1 88.5 390.3 39.9 390.4 64.2 390.4 63.7 391.3 73.4 388.6 32.6 340.1 48.2 390.4 48.6 391.4 51.5 390.0 35.2 379.6 46.2 390.5 38.8 380.6 34.0 390.7 36.1 389.8 70.4 390.9 36.5 389.4 61.8 388.2 62.5 390.8 32.8 384.3 66.5 390.4 83.9 390.8 80.5 391.3 64.5 390.2 36.0 391.0 38.6 390.2 40.1 388.4 39.6 391.0 32.6 391.1 61.3 389.6 74.5 388.9 58.7 391.0 49.2 390.4 66.1 390.3 73.8 390.9 39.5 390.6 45.9 390.5 36.0 390.3 40.6 385.3 45.4 391.2 37.3 385.6 78.0 390.7 41.5 389.4 39.1 391.0 46.7 390.3 89.7 391.4 52.5 390.7 64.9 389.2 84.4 390.0 39.6 390.5 65.0 391.2 37.3 390.8 81.9 389.0 50.1 390.9 76.5 389.9 47.4 390.5 46.3 390.1 74.9 391.2 68.3 389.6 47.6 386.6 35.7 385.8 91.3 391.2 39.6 390.5 59.0 390.4 58.2 388.7 49.4 390.6 51.6 391.4 38.2 390.1 35.5 389.7 50.3 391.2 63.4 388.1 42.7 389.3 69.2 391.3 43.9 387.2 35.3 390.0 75.3 388.7 85.1 390.6 36.5 390.7 63.6 391.1 49.4 391.1 62.9 391.2 66.5 391.2 63.2 391.4 33.9 391.3 39.0 391.1 35.4 390.9 32.7 387.0 55.5 391.4 55.6 391.0 72.3 390.2 37.3 382.1 51.5 389.9 47.0 390.6 48.9 390.8 66.3 389.6 50.1 391.2 86.0 391.1 93.5 390.6 48.8 390.9 68.8 390.0 36.6 384.6 59.0 387.8 93.5 391.2 41.5 387.4 63.9 389.3 49.6 391.3 45.0 390.0 86.4 390.7 35.7 390.4 46.1 388.1 36.5 390.0 72.4 391.3 56.6 387.5 60.7 390.8 41.6 386.2 74.3 389.6 85.1 391.3 64.7 388.5 41.0 389.6 38.9 390.7 33.8 384.8 38.1 390.2 91.8 390.6 50.5 391.2 48.8 388.3 64.0 390.1 50.3 390.2 59.4 390.2 44.8 379.8 50.3 390.0 50.4 391.3 33.8 391.2 70.8 390.4 44.5 391.3 70.0 390.2 58.1 389.8 79.6 389.1 43.0 388.3 43.0 391.0 46.9 390.7 32.8 383.9 73.4 389.6 39.5 386.2 57.4 390.2 50.1 389.3 92.5 391.0 37.7 384.8 48.7 388.2 84.0 390.6 36.7 383.6 33.9 388.0 47.5 390.6 62.5 390.2 41.7 391.1 33.5 391.2 46.7 389.7 72.3 391.3 33.1 365.1 82.3 390.5 65.2 390.9 62.0 391.2 56.5 390.9 53.9 390.9 80.7 390.8 33.7 381.5 47.2 389.2 81.3 390.7 45.4 391.4 50.1 390.7 35.7 382.8 86.0 391.3 39.7 383.1 43.9 390.2 68.9 390.9 62.4 390.2 72.7 390.4 54.3 390.4 38.0 390.6 51.4 391.3 56.5 388.4 43.1 390.3 66.4 390.0 37.0 384.0 38.2 389.4 53.8 390.9 46.5 385.2 34.9 390.6 37.8 386.6 58.7 390.1 89.7 390.4 41.2 390.5 66.5 391.3 40.7 389.3 47.4 389.2 93.9 390.6 57.7 390.5 41.2 390.0 34.1 389.9 69.4 391.1 58.6 389.6 38.6 388.0 77.5 390.8 85.7 389.7 55.5 390.6 38.8 387.3 84.2 388.9 49.5 390.5 50.5 391.2 47.9 391.0 39.3 391.0 43.7 383.2 73.4 388.4 49.6 391.0 82.7 389.2 63.9 389.4 62.4 390.0 56.1 390.5 46.7 390.9 60.8 391.3 53.7 386.7 33.2 390.2 49.9 386.3 47.3 390.7 90.3 389.6 33.4 389.1 48.0 391.4 47.1 389.6 48.1 391.1 86.1 391.3 41.3 390.2 46.8 389.0 33.2 358.4 60.8 390.2 48.1 391.0 78.3 391.1 33.6 389.2 44.2 389.7 48.9 390.8 70.4 390.0 53.7 384.8 37.4 383.5 33.8 376.1 59.2 390.9 36.7 390.1 72.0 390.5 38.5 389.9 41.1 389.5 75.6 391.3 35.5 379.4 32.9 343.0 33.3 391.2 42.7 380.8 58.6 390.8 51.7 391.0 49.8 390.7 70.6 390.1 77.7 389.8 65.1 389.7 38.3 386.1 73.4 389.8 63.4 389.3 37.2 389.4 74.8 391.1 42.9 391.1 46.5 389.5 60.8 387.2 55.1 389.4 45.5 391.3 42.4 388.9 50.0 389.8 52.6 391.0 52.8 391.2 54.2 387.8 37.3 388.3 47.3 390.3 58.0 389.5 40.7 387.7 43.7 388.8 45.2 391.1 59.2 389.1 55.6 390.3 47.2 391.1 43.5 389.7 64.6 391.4 54.2 391.1 34.4 371.9 45.1 390.9 43.7 382.0 52.1 391.0 38.8 386.8 57.9 391.2 53.7 391.1 91.1 389.2 69.9 390.4 35.2 391.0 64.0 390.1 41.8 391.0 52.0 385.1 65.0 389.8 51.3 391.3 61.0 387.8 72.7 389.4 63.8 388.7 35.5 390.1 35.0 391.0 34.6 339.5 78.5 391.0 37.2 390.2 64.9 391.1 34.0 381.4 81.6 390.3 77.6 391.4 42.9 384.8 48.1 384.3 86.2 389.5 73.2 391.1 48.2 390.6 40.4 389.8 53.7 389.1 36.0 388.7 37.9 388.6 73.9 389.9 86.1 390.5 77.8 390.8 46.4 388.7 57.3 390.0 48.1 389.6 44.3 385.4 34.1 375.7 45.1 390.8 41.8 391.0 93.6 391.1 45.0 388.9 42.2 391.2 45.8 391.4 47.4 387.4 43.0 389.7 33.8 377.2 52.5 390.8 64.9 382.6 39.6 387.2 92.1 390.0 68.4 391.2 40.8 389.8 74.8 390.4 51.5 391.3 64.8 388.3 64.5 388.7 55.9 389.4 85.0 387.9 42.6 390.4 74.5 391.3 62.1 389.5 60.0 390.6 78.7 390.8 73.7 390.0 56.3 390.9 32.7 390.1 38.2 389.5 36.2 389.2 48.8 390.3 76.0 391.1 73.7 391.2 49.6 391.3 50.0 391.2 74.7 387.4 77.6 391.2 69.9 391.3 37.7 391.0 49.7 390.3 33.3 389.2 72.7 387.6 61.4 391.3 56.9 389.5 38.2 388.5 38.1 391.3 82.7 389.8 32.8 376.3 61.2 390.8 81.0 391.2 59.2 388.3 78.8 391.1 37.6 391.4 49.6 390.2 75.0 389.2 33.2 388.4 49.8 388.3 68.0 391.1 87.5 390.8 69.9 388.1 64.3 389.8 94.0 391.1 82.9 391.1 68.2 390.1 64.2 390.8 51.0 389.9 42.7 389.5 50.4 389.8 63.7 391.4 33.4 389.1 37.4 390.3 58.7 391.2 65.4 390.2 64.4 390.1 52.3 391.0 69.5 390.2 50.3 390.4 59.3 389.6 57.5 391.4 61.8 391.3 36.1 390.8 56.0 387.7 66.3 391.0 64.4 391.4 34.7 386.5 38.1 387.2 33.8 389.3 61.3 390.0 49.3 388.9 41.2 390.8 84.7 391.3 79.5 390.4 90.9 391.2 43.8 391.2 59.7 391.4 59.1 388.9 84.6 390.1 40.0 391.0 73.1 390.8 33.0 363.1 39.2 390.4 61.1 389.8 52.2 388.5 63.5 390.0 69.8 391.4 56.0 391.4 50.2 391.2 68.3 389.6 74.6 389.7 41.1 388.5 44.0 387.8 50.0 389.1 52.6 390.4 53.2 391.2 38.9 388.1 59.6 388.4 69.1 389.0 63.0 389.2 50.5 390.0 54.7 390.1 70.2 390.8 91.0 390.6 52.6 386.6 42.5 390.5 34.3 388.9 46.0 391.3 38.2 382.4 53.9 389.0 52.4 390.7 40.5 390.1 55.0 388.7 58.8 391.4 46.2 391.0 54.9 387.6 50.9 390.2 57.7 390.9 36.1 374.3 69.7 388.9 55.7 390.8 57.4 389.2 73.9 390.8 40.2 386.1 40.6 390.4 35.9 389.9 46.4 387.2 79.7 390.7 40.3 389.7 89.8 391.0 38.2 391.0 42.7 390.9 52.3 386.7 45.3 391.3 68.9 391.4 89.5 390.7 33.3 391.2 71.9 386.5 53.8 388.8 49.1 390.4 80.0 391.4 63.4 391.3 39.3 385.7 59.8 391.3 36.6 380.2 38.6 388.0 39.3 390.3 54.3 391.3 54.4 383.0 58.4 389.1 37.2 389.8 58.0 391.3 41.3 389.9 55.5 391.2 57.1 387.5 47.4 390.5 63.4 391.0 90.7 390.5 72.6 389.0 45.9 391.4 57.0 388.6 50.7 391.0 93.8 391.0 41.6 390.6 41.1 387.7 64.4 390.7 74.3 390.2 35.6 385.5 46.4 391.4 34.9 388.6 39.2 388.2 54.1 390.5 67.8 390.5 42.8 390.2 36.6 390.3 41.5 391.0 63.9 389.9 45.4 387.9 38.4 386.0 61.3 391.3 57.3 390.8 61.8 390.3 57.2 387.6 54.4 390.6 73.5 390.6 60.0 391.3 40.2 385.2 70.7 390.4 65.4 389.6 51.7 390.8 46.2 391.0 81.4 391.3 44.3 388.7 44.8 391.1 62.2 390.2 71.4 390.4 69.2 390.9 77.8 391.2 55.9 384.7 40.8 389.7 49.0 386.3 38.9 390.8 43.8 388.4 52.1 391.2 53.3 390.2 90.0 390.6 37.9 387.4 42.3 390.2 69.7 391.1 36.6 384.5 44.3 390.5 62.8 388.3 36.3 390.8 56.4 390.4 93.7 391.4 49.6 390.4 62.7 388.3 52.3 388.2 45.6 390.8 52.6 390.3 40.2 390.5 45.6 391.0 46.7 391.3 49.0 389.5 32.9 391.4 59.7 390.2 71.5 391.2 36.0 390.0 57.9 387.8 59.9 391.0 49.3 390.3 49.8 391.2 57.4 391.3 74.1 391.2 64.2 390.9 81.3 390.6 50.5 388.5 74.4 391.0 47.1 389.1 74.0 387.8 51.1 390.4 87.8 390.2 66.4 390.1 33.0 390.3 66.7 389.0 70.2 387.1 65.2 391.2 39.1 391.2 69.2 390.4 67.7 389.2 73.9 385.9 71.9 391.1 69.8 391.0 67.7 391.3 49.2 390.6 71.3 390.2 44.6 389.6 75.0 391.1 33.8 377.5 65.9 391.2 47.6 390.5 48.1 390.6 87.9 391.2 64.9 391.0 51.4 390.1 83.0 391.2 42.9 388.5 54.3 391.3 50.9 391.1 54.1 389.5 47.5 390.5 41.7 390.7 53.7 390.7 43.1 383.3 58.5 390.8 47.9 387.8 58.5 389.2 74.3 389.8 58.6 390.4 43.8 387.0 32.9 377.2 32.8 389.4 62.6 390.5 45.9 388.0 51.3 391.3 41.9 390.8 76.0 391.4 42.3 387.2 35.6 390.0 87.2 389.6 51.6 389.5 47.7 388.8 33.6 390.4 35.3 373.1 53.6 391.1 72.9 391.2 69.5 390.9 87.2 391.2 52.1 388.1 46.3 391.2 83.4 389.7 35.1 391.4 39.2 376.1 35.8 390.8 62.0 391.1 42.9 388.9 93.4 390.6 51.1 384.0 40.3 390.1 63.2 391.3 53.8 391.1 45.7 391.2 44.1 389.8 55.9 389.8 53.2 390.4 40.9 389.0 71.3 390.7 49.8 391.3 51.5 390.1 49.3 390.6 46.7 390.4 37.5 389.0 94.1 389.2 60.1 389.2 80.1 390.2 36.8 390.2 75.6 390.2 71.4 389.0 50.1 391.0 47.4 390.8 37.7 391.4 63.2 389.4 35.1 391.4 92.5 389.6 53.6 390.2 42.6 378.4 67.1 390.2 80.5 389.3 53.2 384.8 59.4 389.3 55.7 385.6 49.5 387.9 54.7 389.3 44.8 390.6 44.7 385.3 69.6 389.8 41.6 383.5 80.2 389.2 46.6 387.3 88.1 391.3 49.0 390.7 55.5 391.3 61.0 390.6 37.6 390.2 59.9 390.6 42.4 391.0 40.4 381.2 54.3 389.9 64.9 391.4 84.7 390.9 93.2 389.0 83.6 390.2 49.3 386.6 64.5 388.9 55.4 382.1 53.7 390.3 90.4 388.2 60.5 390.6 50.0 384.1 79.5 391.2 62.4 389.2 63.4 389.2 33.9 390.0 93.3 391.3 58.5 390.4 70.4 391.0 48.7 387.6 87.5 391.2 37.0 390.3 65.2 390.4 90.5 391.2 50.4 390.5 55.9 386.5 65.3 390.2 46.1 389.4 63.5 390.5 47.0 391.2 69.0 390.0 64.0 390.4 83.0 389.5 79.8 391.0 83.3 391.1 72.1 391.3 75.5 391.2 92.4 390.8 37.2 391.3 64.4 391.3 79.4 391.1 55.1 390.3 55.1 388.7 62.5 391.2 41.0 391.0 42.7 390.4 57.9 390.8 48.8 387.6 47.6 379.6 62.8 389.3 69.0 391.1 66.7 390.2 36.7 378.5 70.9 391.2 43.4 391.1 50.1 391.1 65.1 390.8 39.7 375.9 33.1 382.4 80.8 389.6 64.4 390.2 65.0 391.2 91.5 390.3 71.4 390.4 43.9 389.6 51.9 389.9 78.9 391.3 90.1 389.9 74.4 390.3 43.0 383.8 54.2 391.1 59.9 389.9 76.0 391.4 34.7 390.6 94.4 391.1 43.0 390.9 81.3 390.9 43.6 387.1 59.1 390.7 66.0 391.3 38.4 389.6 32.7 391.2 36.0 389.8 58.9 384.3 46.8 390.0 40.5 385.7 37.1 378.7 86.8 391.0 44.1 389.7 37.5 391.3 39.7 390.9 33.7 337.7 93.3 390.9 87.2 391.2 53.3 390.1 71.4 390.9 93.7 391.1 44.2 389.6 58.4 391.1 61.0 387.2 37.8 381.6 37.4 391.0 38.1 390.0 36.4 391.4 52.7 390.7 72.8 391.0 48.0 390.2 39.8 389.0 85.1 390.2 45.9 388.6 36.1 389.8 62.2 391.0 33.4 390.5 48.5 390.7 58.9 390.4 44.1 390.6 52.8 391.0 33.0 390.5 76.1 390.7 60.8 391.2 81.6 390.6 53.5 386.9 71.6 390.4 74.5 389.6 44.9 387.9 87.9 390.4 51.6 388.1 42.8 391.4 73.5 391.4 58.2 390.1 38.1 389.9 43.8 387.9 38.3 386.7 40.1 382.5 81.0 389.8 65.9 390.9 69.4 391.2 37.2 386.0 51.3 388.7 42.0 389.8 41.9 389.6 50.6 387.9 74.2 391.1 38.5 381.8 55.1 386.5 57.2 391.1 93.3 390.7 34.7 369.1 66.3 390.3 37.3 390.4 48.6 389.7 64.6 387.5 93.2 388.9 46.4 386.5 52.8 391.3 64.9 390.1 43.4 390.6 90.2 390.8 41.0 383.3 73.5 390.0 53.3 389.4 70.9 391.2 84.9 390.8 57.5 389.0 54.9 390.4 49.5 390.6 53.4 390.7 37.9 390.2 92.0 391.3 63.6 391.4 47.2 390.1 33.8 391.3 35.5 387.9 50.3 390.3 68.6 389.6 35.6 389.4 33.3 389.2 70.2 389.7 62.5 388.6 37.6 386.9 51.1 390.9 65.8 391.0 43.7 388.5 59.7 390.1 52.7 390.4 36.1 389.6 70.4 390.9 49.9 391.4 53.0 391.0 50.5 391.3 48.2 390.7 58.8 388.8 59.3 389.0 77.0 389.8 68.1 390.4 38.1 389.7 79.3 389.7 90.7 391.0 42.1 388.7 66.5 389.0 70.8 389.6 61.0 391.0 66.1 390.1 73.8 387.7 45.4 391.0 46.0 390.0 45.6 385.4 40.3 389.7 34.0 390.5 40.8 390.6 50.5 391.2 58.2 390.8 37.6 389.5 77.1 391.1 52.5 390.7 66.6 390.4 89.1 390.9 32.8 388.7 33.9 391.0 36.0 388.0 82.6 390.2 46.8 389.9 36.4 390.0 33.5 390.6 34.9 386.4 57.1 390.6 36.3 391.3 64.1 389.2 84.0 390.9 54.0 390.2 42.4 389.2 61.9 391.0 52.1 384.1 35.8 391.0 45.7 390.7 56.6 390.0 48.7 391.3 54.5 390.4 81.4 391.1 38.8 390.5 85.4 391.2 71.9 391.3 48.1 390.3 40.4 386.9 60.2 390.8 64.3 391.3 53.4 391.1 42.9 391.0 60.9 390.8 45.2 391.1 58.0 390.2 45.2 391.2 32.6 389.5 34.4 386.6 41.1 386.2 38.8 390.3 88.4 391.3 49.0 391.1 69.9 389.3 56.5 391.1 76.7 391.2 57.5 391.2 61.7 387.0 51.9 390.9 50.1 391.2 76.0 391.3 91.9 387.5 69.9 391.3 50.6 389.8 40.4 389.0 42.1 382.3 74.5 390.7 54.8 391.3 44.8 388.2 83.4 390.9 72.1 389.9 56.8 389.2 43.3 390.5 92.5 390.7 64.7 388.8 72.3 391.3 93.6 390.7 72.3 389.9 44.6 391.0 43.4 389.2 45.4 391.3 76.1 389.7 53.9 391.1 60.3 388.9 35.3 384.2 57.6 388.5 64.0 389.7 45.2 390.1 39.8 391.0 62.0 390.1 73.8 391.1 55.0 391.0 86.2 391.2 48.9 391.4 89.7 391.0 36.8 390.3 33.7 391.2 47.2 390.6 90.6 389.9 48.4 391.1 53.8 389.9 85.4 391.1 39.9 389.5 49.6 389.8 50.5 390.6 57.8 390.6 39.6 381.8 44.1 390.5 33.1 384.4 46.4 390.6 37.4 378.1 37.2 390.4 38.1 383.7 85.1 390.3 47.1 391.0 32.7 391.2 33.4 368.1 42.3 391.3 63.0 390.1 40.1 389.8 73.6 391.4 58.3 388.4 55.7 388.9 34.8 389.8 71.4 390.3 91.4 391.3 81.2 390.0 71.6 390.8 64.8 390.8 46.8 391.4 47.6 391.1 35.3 389.8 37.7 376.0 55.5 390.4 35.5 389.6 61.6 390.6 89.5 391.2 54.6 389.7 91.0 390.4 42.5 389.9 57.1 389.4 50.7 391.3 35.5 382.6 52.6 387.3 71.2 390.6 35.1 390.7 88.8 390.8 48.3 391.0 48.2 389.8 77.5 390.4 69.5 391.2 53.3 386.5 65.7 388.3 48.3 390.2 47.5 391.0 72.5 390.3 51.3 390.5 35.9 391.4 68.5 389.5 76.7 391.4 39.6 382.3 66.7 389.6 74.1 390.7 48.1 391.2 57.1 391.3 65.5 391.3 44.6 389.8 36.9 389.9 46.3 390.8 40.5 389.4 35.4 387.9 77.4 391.2 48.1 386.8 37.4 390.6 91.4 391.4 55.6 390.6 58.7 390.9 91.9 391.4 41.3 388.1 67.6 391.3 45.8 390.7 37.6 390.9 63.9 391.1 70.3 391.1 74.8 391.1 41.1 388.8 52.2 390.4 40.2 389.7 62.3 389.8 71.5 389.6 34.6 388.6 79.3 389.5 91.0 391.3 56.6 391.3 81.8 391.4 37.7 391.0 66.8 391.3 39.6 387.2 34.0 390.2 90.0 389.8 66.0 390.1 47.8 390.8 71.0 391.0 37.6 390.1 55.7 390.8 47.8 391.1 55.0 390.2 53.0 390.9 89.2 389.6 46.4 391.0 66.6 390.7 59.7 391.0 49.1 389.0 73.5 391.0 40.1 391.1 85.9 390.8 70.1 389.3 33.3 390.7 45.7 386.8 51.8 388.5 80.4 391.1 50.5 390.7 43.6 382.8 38.9 391.2 58.6 389.7 59.2 390.3 87.5 390.4 40.0 385.7 48.6 391.0 49.5 390.5 50.2 390.6 55.7 390.5 51.9 390.7 44.1 390.4 33.1 383.8 45.1 386.7 52.6 389.4 40.5 379.9 59.6 389.6 34.7 386.0 32.7 390.8 84.8 390.9 51.7 388.7 68.4 389.4 32.6 375.9 55.1 387.8 78.2 390.9 51.7 391.4 49.6 388.1 82.0 390.6 35.6 390.4 54.9 390.8 33.4 381.7 56.2 390.2 112.8 390.4 79.0 391.2 71.4 391.3 33.8 387.1 46.9 390.3 58.2 390.0 58.1 390.1 63.3 390.7 39.9 391.4 44.2 387.8 55.4 387.0 46.1 390.8 70.9 391.1 41.4 384.5 48.9 390.7 54.2 390.6 35.0 388.7 61.0 391.0 52.0 389.8 48.4 391.2 37.9 391.2 44.9 388.2 72.0 390.5 65.6 388.3 73.0 391.0 37.4 391.4 33.2 385.5 43.2 388.7 51.9 391.4 52.8 389.4 59.1 391.3 41.6 389.4 34.3 390.0 70.7 390.2 68.7 390.1 39.3 391.2 34.3 390.5 73.7 391.0 37.1 390.8 44.6 386.5 65.5 391.4 52.8 391.3 54.9 385.8 49.8 389.0 53.3 390.7 35.3 391.2 88.0 391.2 88.0 390.7 58.2 390.3 85.4 389.0 80.9 390.1 88.6 391.1 37.6 390.2 50.6 390.4 36.6 383.1 69.6 390.9 53.7 388.6 78.9 390.2 49.0 387.3 42.1 390.8 77.4 391.4 37.7 389.8 42.8 384.0 39.6 391.1 66.4 390.7 61.0 385.3 54.7 390.1 34.4 383.5 53.2 389.4 40.8 390.7 63.3 389.2 33.2 386.7 44.0 389.1 83.0 391.3 85.7 391.0 70.7 389.6 33.1 388.2 55.5 390.9 48.3 389.6 63.3 391.3 53.2 391.2 53.5 390.4 51.4 389.5 52.5 387.0 36.3 391.3 72.5 390.9 33.3 381.1 48.1 390.2 62.9 388.7 47.2 386.1 36.5 388.2 66.5 390.6 72.6 391.2 63.7 391.3 46.9 390.5 49.4 390.6 60.2 391.2 76.5 390.5 39.6 387.8 71.0 389.4 69.3 390.9 35.4 391.0 53.0 389.4 66.2 390.8 62.9 387.0 84.9 391.4 41.1 391.0 70.7 390.7 50.7 391.1 55.7 391.1 53.7 390.2 35.4 385.4 60.4 388.3 63.1 391.3 66.3 391.3 76.0 391.3 37.0 391.3 60.3 388.1 37.9 389.9 49.5 390.8 74.0 389.9 34.5 389.7 64.2 391.1 53.0 387.7 38.7 387.6 35.2 390.8 49.1 388.5 51.5 389.7 60.7 389.2 94.3 391.0 33.1 390.2 45.4 391.2 53.4 389.9 52.2 389.7 51.3 390.5 74.4 390.6 33.7 388.6 55.0 391.2 46.6 390.5 44.5 390.5 82.7 390.9 65.1 391.0 53.2 388.8 50.1 389.0 35.6 390.2 46.0 390.1 91.2 391.1 45.3 387.7 35.1 381.5 44.0 389.8 50.3 387.8 45.4 387.0 76.2 391.0 67.3 390.9 84.5 390.9 48.7 388.9 59.2 390.9 85.7 391.2 51.8 388.7 87.9 390.9 54.1 389.7 39.1 389.5 41.1 388.4 43.5 390.0 83.2 390.9 33.3 387.7 33.7 391.4 49.1 389.6 71.2 390.9 50.9 391.1 65.2 391.1 73.1 390.7 92.2 391.3 37.8 390.1 54.8 391.1 71.5 390.7 44.1 388.9 91.5 391.2 62.5 390.5 77.5 391.2 37.7 385.4 66.4 388.6 90.3 389.4 50.3 390.1 35.5 348.6 35.8 388.7 68.0 391.3 49.8 385.3 49.1 390.0 63.0 390.1 39.4 391.3 44.4 390.5 52.0 389.9 82.4 390.5 47.6 387.6 53.2 391.4 51.4 389.1 61.7 389.9 43.7 388.3 48.3 390.7 39.3 390.5 40.3 391.1 63.9 387.1 48.9 390.9 71.1 388.6 47.8 383.7 60.0 389.8 71.0 391.2 44.9 385.7 39.9 379.9 93.3 390.0 71.3 390.6 72.0 391.0 55.3 387.6 35.6 388.5 56.8 390.8 62.4 390.0 52.4 390.6 47.5 388.7 86.8 391.0 88.6 390.2 36.9 387.5 49.0 390.0 39.6 384.1 49.6 389.4 48.3 387.3 45.5 383.1 33.5 391.3 54.1 389.1 77.4 390.3" fill="none" stroke="none" marker-start="url(#m4)" marker-mid="url(#m4)" marker-end="url(#m4)"/>
<path d="M191.1 381.3 169.0 389.0 169.6 389.1 163.0 365.0 167.1 378.6 166.4 358.8 170.2 365.2 155.3 391.2 179.2 371.8 161.9 360.9 164.2 370.5 165.6 365.4 180.8 382.1 178.9 371.9 182.1 384.4 173.1 364.2 172.1 389.4 180.6 367.7 160.9 359.4 202.2 377.5 176.5 377.4 174.7 366.6 156.4 366.5 182.4 390.1 165.0 390.3 159.0 376.3 169.6 365.4 180.4 367.6 164.2 365.9 177.9 386.1 182.0 383.6 173.0 376.2 156.9 371.1 175.0 383.6 154.0 370.3 152.8 373.2 167.9 361.2 190.9 370.5 178.6 368.1 171.1 378.7 183.6 382.4 169.2 371.2 172.3 389.1 159.1 383.4 204.4 374.9 173.3 385.9 159.7 368.9 152.9 371.6 174.2 375.8 180.1 388.1 170.1 360.7 168.0 382.4 157.9 375.7 164.2 360.2 156.1 372.6 169.4 358.9 181.7 367.2 179.1 373.2 170.9 372.3 181.4 374.5 171.0 363.2 172.9 361.9 153.1 360.8 156.6 361.3 192.0 382.8 171.6 375.9 159.0 363.1 182.9 382.9 156.2 360.6 195.0 383.6 171.2 371.5 175.6 371.1 156.8 362.3 178.5 362.7 166.3 363.6 158.1 378.0 192.7 386.2 162.2 363.1 176.9 388.6 176.2 378.0 166.8 362.4 163.2 361.9 153.3 388.5 174.2 373.2 154.0 362.5 176.6 373.0 173.8 370.2 157.2 381.6 186.8 379.2 168.3 361.4 176.9 378.7 165.1 363.8 179.6 370.6 160.2 363.2 151.1 386.6 172.9 370.8 164.2 385.7 153.7 361.9 162.9 377.7 171.8 378.2 155.8 362.0 159.3 389.4 184.6 384.7 159.2 366.8 156.3 360.8 183.4 377.6 155.2 361.0 166.9 368.9 167.6 359.8 192.1 390.8 166.0 372.7 173.6 365.7 168.3 360.3 182.8 364.5 164.1 377.5 165.9 362.4 159.0 383.8 161.7 379.1 168.1 363.8 168.1 364.6 153.0 380.4 179.9 376.1 149.7 384.9 174.0 373.6 152.8 373.2 162.2 363.2 166.0 365.3 181.5 372.7 152.6 371.3 163.1 384.4 174.7 389.1 165.4 371.9 187.5 371.5 164.9 358.7 181.2 390.0 173.3 370.7 166.8 368.2 166.3 361.0 180.7 365.6 166.6 361.9 168.2 391.2 165.9 359.9 152.3 373.4 172.2 372.1 164.5 389.0 161.5 363.6 176.2 383.5 165.6 359.8 181.5 381.4 183.6 384.1 154.5 371.8 183.8 386.9 164.7 370.4 166.1 367.8 177.8 388.2 181.6 387.4 167.5 386.4 175.1 390.2 157.0 384.1 166.2 367.2 161.8 363.5 166.8 380.2 161.1 374.0 168.5 391.1 153.1 389.5 158.4 386.7 183.2 384.5 165.1 387.7 160.2 370.4 172.7 367.8 157.1 374.6 159.7 362.7 170.4 389.8 175.2 373.1 174.7 383.3 157.1 370.1 176.9 380.5 160.8 362.4 157.0 367.2 164.2 361.4 158.8 382.5 166.9 388.8 181.1 370.5 179.4 377.4 166.4 380.6 166.6 375.1 177.5 379.2 178.1 369.5 165.6 359.2 158.4 379.8 189.6 377.9 167.3 371.9 207.6 380.2 179.9 390.9 183.3 370.2 204.4 379.9 177.3 378.7 191.1 378.1 152.1 385.1 169.1 359.8 201.1 382.4 176.2 386.5 165.1 365.1 183.7 379.1 168.0 387.4 156.9 376.7 170.7 370.5 164.4 358.5 153.4 367.3 158.3 366.4 180.7 365.5 174.4 359.9 153.8 366.5 174.1 366.7 161.1 362.2 165.6 372.4 160.8 381.9 166.1 368.8 162.1 364.1 171.6 360.5 166.5 382.4 170.8 379.4 176.8 386.8 168.4 380.7 162.6 360.6 155.2 373.2 157.2 377.1 156.1 359.8 161.1 359.1 187.1 368.1 163.7 362.1 154.8 390.0 188.5 385.1 163.9 369.6 190.1 384.6 184.7 373.6 163.1 369.5 191.1 384.8 199.8 373.7 171.3 371.0 169.3 364.5 172.6 365.8 154.4 367.8 194.1 370.7 175.9 381.9 162.1 366.8 164.0 370.3 169.1 386.0 183.6 383.5 156.2 364.9 179.6 380.0 169.6 369.8 161.5 358.5 165.4 365.2 208.2 378.5 193.6 372.3 179.1 367.5 178.0 365.6 166.2 365.5 163.1 367.8 173.0 364.0 216.6 375.5 153.8 371.1 161.3 391.1 169.1 365.7 184.6 386.6 150.4 383.4 169.1 363.1 182.5 381.3 158.6 371.6 177.2 387.7 173.4 367.4 162.3 364.3 160.5 387.4 168.8 387.5 180.0 365.8 158.3 362.7 188.5 378.6 180.2 388.9 169.6 368.0 180.0 379.1 160.2 369.2 156.1 367.1 166.5 366.7 165.2 366.8 161.5 359.3 161.2 384.7 151.5 389.3 171.3 362.4 191.7 379.7 189.7 389.1 159.1 367.0 169.4 369.0 161.6 378.7 168.4 369.5 178.0 383.9 173.5 370.6 198.9 379.3 169.2 387.8 157.1 361.6 180.5 362.1 183.3 378.5 186.0 390.3 163.0 388.6 161.2 367.5 155.2 364.8 168.3 369.6 159.1 380.0 206.4 376.9 156.4 373.0 189.8 388.5 152.8 391.2 190.6 386.6 156.4 374.8 201.3 373.5 191.7 378.1 169.4 378.8 160.8 364.6 168.9 358.9 162.7 386.9 157.0 361.7 165.2 385.2 184.7 378.6 158.1 369.4 178.7 379.1 183.9 382.8 166.4 375.4 192.8 374.8 167.9 360.2 187.5 381.5 177.7 379.0 172.9 381.3 156.2 363.3 177.9 361.9 179.6 366.2 154.8 377.7 175.0 391.1 192.6 370.8 154.9 366.9 150.0 380.3 192.9 390.7 165.4 364.5 160.3 371.8 183.7 378.3 182.8 378.2 165.3 375.1 156.8 359.5 163.5 375.4 160.4 362.5 160.0 362.9 157.5 374.5 178.3 372.8 153.4 384.0 162.3 361.6 178.4 371.7 205.0 381.9 169.9 383.8 157.8 365.0 160.8 374.4 169.6 362.6 152.6 367.9 172.0 375.4 161.3 386.2 154.7 361.6 206.1 376.6 158.1 378.9 175.2 378.9 170.6 369.6 160.1 366.9 191.9 370.2 168.4 368.7 158.4 363.9 173.7 373.5 164.4 369.9 163.5 371.6 202.2 374.6 167.9 360.8 153.7 375.0 183.1 370.5 159.3 371.2 190.3 380.5 176.2 364.6 150.6 387.6 186.1 376.2 156.8 378.1 179.5 381.7 190.8 385.1 161.3 365.2 153.1 385.0 160.3 360.5 188.4 375.0 168.6 367.6 179.9 371.9 190.6 377.1 160.1 365.5 207.1 375.9 173.5 373.5 164.6 376.3 173.8 362.3 159.3 375.6 158.4 363.3 206.0 375.1 206.8 377.5 172.4 363.2 158.4 360.7 168.9 390.6 172.1 386.3 167.0 383.7 165.3 357.3 191.7 377.0 171.9 363.6 188.3 373.0 180.3 381.3 177.8 384.8 149.5 378.4 207.7 381.3 170.5 375.8 155.2 386.3 159.3 372.4 177.2 381.4 172.5 391.1 180.6 366.4 173.0 371.8 191.4 378.9 164.1 390.2 150.2 380.2 167.6 365.0 154.3 390.8 159.5 358.9 164.8 375.7 160.7 375.7 163.1 362.9 208.3 378.8 178.0 376.3 167.0 361.8 178.7 367.1 163.1 367.9 167.1 367.9 168.1 373.5 179.6 370.8 150.6 388.5 154.5 374.9 184.7 384.4 154.8 361.8 160.2 386.3 170.6 391.2 203.6 381.0 176.2 380.1 206.9 377.3 168.8 364.4 167.4 363.5 197.3 374.2 169.3 391.4 166.4 385.1 159.3 364.2 176.8 390.2 166.3 373.5 167.7 359.6 203.8 377.7 159.5 386.6 157.9 364.2 173.1 381.6 157.2 383.3 176.9 389.8 165.1 372.0 162.7 371.6 157.3 363.4 153.0 388.7 169.5 375.5 160.2 368.4 155.0 374.7 154.8 381.8 164.7 368.8 194.5 380.1 199.0 376.7 205.1 381.1 165.9 365.5 159.3 357.9 177.0 371.6 193.5 374.1 185.3 380.0 191.6 379.3 203.4 374.2 178.0 383.8 191.4 377.8 173.2 374.2 157.2 379.1 171.0 368.7 168.3 372.4 166.2 360.8 157.3 368.5 156.2 364.8 167.7 360.4 179.5 385.2 163.7 366.8 161.9 383.8 167.0 359.7 193.0 372.7 164.3 374.7 163.5 390.2 169.2 370.5 165.7 363.7 183.9 386.3 154.9 363.0 194.5 376.6 179.2 387.7 165.5 365.4 161.0 372.2 166.9 358.1 151.6 386.5 166.9 369.8 165.7 360.3 160.0 359.4 163.8 370.6 166.4 366.5 179.4 386.0 154.9 371.9 160.9 384.3 189.7 384.1 165.0 363.7 157.0 365.9 152.4 365.3 178.9 368.0 201.1 380.5 164.7 366.6 163.4 364.6 173.3 369.3 157.6 389.8 197.8 381.3 177.1 371.6 154.7 365.6 169.3 366.9 158.6 390.8 160.2 371.5 165.7 369.0 149.9 385.2 164.0 365.5 159.3 366.6 176.3 388.9 195.4 380.1 169.3 368.8 160.7 379.1 203.2 377.8 160.0 366.9 158.0 360.1 161.2 388.2 226.4 374.9 166.8 374.8 169.9 388.4 155.6 364.0 154.5 372.7 167.1 374.9 182.6 368.6 156.1 366.1 185.7 368.1 172.4 379.3 188.2 383.3 199.1 379.6 154.5 383.9 154.8 361.2 183.9 376.0 155.9 371.9 157.6 381.6 159.6 373.4 160.2 373.6 158.0 365.4 183.6 380.1 162.5 386.6 158.4 377.5 152.5 370.8 156.4 358.8 172.0 367.6 161.5 363.5 152.1 389.4 153.4 363.5 175.7 375.8 170.5 362.9 199.9 377.1 170.9 366.2 172.2 380.4 167.6 378.6 181.2 364.5 162.8 359.8 164.9 371.7 177.0 362.3 190.0 388.3 161.7 362.3 201.3 375.1 198.0 383.1 178.4 370.3 174.2 374.5 179.8 384.9 159.1 362.7 205.6 377.4 186.4 372.6 204.8 381.0 166.6 386.5 177.2 365.4 198.7 379.7 150.8 386.0 154.2 363.9 180.2 369.7 192.1 383.2 162.2 377.9 177.0 386.8 161.1 375.0 162.8 357.5 167.2 368.5 153.8 374.0 172.8 367.7 187.0 382.3 168.0 364.9 187.9 384.3 179.3 372.6 179.6 364.0 159.8 363.8 183.2 364.9 167.0 368.5 160.2 362.5 156.5 387.0 166.6 364.0 170.7 372.4 163.2 361.9 164.1 375.4 174.5 365.5 167.6 384.4 159.7 363.5 161.3 362.9 174.9 380.7 151.6 385.9 178.3 374.0 171.6 359.9 168.1 366.2 204.5 378.1 177.8 390.5 166.6 364.7 156.4 367.1 165.9 368.8 166.9 368.9 179.3 382.8 182.2 370.4 179.0 386.2 177.0 387.6 181.4 380.7 174.3 362.4 169.9 369.7 165.0 375.2 192.7 384.9 157.5 369.1 173.8 378.7 159.2 380.8 191.4 388.1 160.5 359.1 156.7 365.3 168.7 377.7 159.7 382.1 162.2 372.1 200.2 374.1 183.0 378.3 165.0 360.9 154.0 380.9 160.2 374.1 186.0 390.3 174.1 375.6 179.0 387.5 171.4 371.6 170.1 372.3 156.5 386.3 185.1 385.4 206.0 377.7 158.7 388.0 189.0 376.8 164.9 386.9 181.4 380.3 160.6 374.8 164.3 362.8 195.6 373.7 153.0 370.3 177.8 387.3 159.2 364.4 165.8 372.2 171.0 373.1 154.7 385.9 181.9 378.8 191.1 370.4 175.4 375.5 160.0 360.5 153.2 375.3 183.4 378.4 174.5 367.4 161.3 368.1 165.9 360.2 157.2 377.6 157.4 381.1 203.4 379.8 157.7 366.6 166.9 363.2 154.6 367.8 158.2 377.7 192.0 378.6 184.5 373.1 183.0 378.7 178.8 372.4 205.5 376.9 154.9 365.0 154.2 378.4 174.5 367.6 162.8 384.6 169.6 372.1 149.9 377.3 151.9 386.9 167.0 382.3 163.8 366.4 160.1 383.2 154.3 376.1 166.0 383.4 175.3 381.9 154.1 383.6 153.2 366.1 167.9 364.7 150.8 379.1 166.8 390.4 176.3 378.0 165.8 390.2 162.5 389.5 178.8 365.7 201.6 373.3 156.3 380.3 152.6 370.3 160.7 369.0 150.1 383.1 165.1 376.3 157.5 385.4 167.1 384.6 167.6 363.4 152.9 379.1 168.8 375.4 190.8 390.4 180.1 386.6 205.5 374.7 155.9 362.5 178.8 390.9 168.2 362.7 185.7 374.7 202.0 380.0 170.5 367.6 192.8 388.0 162.0 368.2 187.9 374.1 160.7 360.3 197.7 376.8 204.3 376.0 157.9 389.7 167.4 361.7 198.1 380.6 177.1 366.8 180.0 370.4 181.1 379.0 176.6 363.7 163.1 379.7 172.7 364.3 166.3 374.3 165.5 359.4 165.1 363.7 177.7 388.3 157.3 372.5 176.4 379.8 165.0 374.5 160.3 362.7 166.1 371.0 155.8 375.1 167.1 378.8 166.7 383.6 167.4 366.6 172.3 374.4 167.3 367.0 156.1 364.1 175.9 386.4 155.5 379.0 170.9 377.9 168.4 371.2 155.5 368.6 186.7 379.0 154.8 360.8 163.2 373.6 162.1 372.0 193.0 379.7 173.4 365.3 161.1 375.4 180.6 379.0 154.4 372.1 149.5 385.8 158.9 383.3 162.4 374.8 183.3 367.7 154.8 378.7 163.6 362.8 196.6 382.6 179.6 379.4 157.7 370.3 166.3 360.9 192.3 378.3 157.8 372.5 182.5 383.4 168.4 364.1 172.9 377.5 171.7 385.8 166.1 386.6 164.3 381.7 157.6 386.1 168.1 358.8 150.9 389.1 163.2 374.4 159.1 381.6 156.6 361.0 169.2 370.4 167.4 364.8 157.2 386.5 158.9 373.9 168.3 381.7 162.0 383.1 184.2 382.0 159.2 359.4 157.5 375.7 155.3 374.2 161.0 359.6 155.3 369.5 189.5 370.5 169.5 368.4 152.4 369.5 163.7 383.2 196.1 378.9 165.1 363.4 171.6 360.2 150.9 379.3 170.6 360.6 162.7 369.7 152.0 362.9 155.3 369.8 161.6 379.7 162.8 371.7 156.4 390.5 152.6 363.1 187.9 384.9 162.3 383.1 188.0 385.4 157.9 366.4 208.7 377.8 171.6 366.1 169.5 364.5 178.0 378.9 173.5 369.9 168.8 389.0 161.0 383.9 191.1 383.2 174.5 372.1 151.3 387.3 157.0 371.4 153.7 370.1 178.3 372.4 180.2 385.7 190.8 386.5 162.5 359.8 176.4 372.4 161.6 373.2 192.8 373.3 206.6 376.4 166.0 358.9 166.0 369.9 160.2 372.9 182.8 385.3 183.2 369.7 159.0 365.8 166.6 368.8 167.1 365.7 176.6 378.8 171.3 388.8 152.3 390.5 174.4 384.7 173.6 375.0 179.0 381.3 155.0 370.4 165.5 369.4 206.6 380.5 195.8 378.6 205.5 380.7 167.7 389.3 162.0 369.1 169.9 373.1 166.8 365.0 158.1 379.3 185.0 380.5 172.3 371.4 159.4 390.4 161.0 377.3 160.9 372.2 189.8 383.1 173.4 386.2 149.6 389.7 208.4 376.1 175.1 382.1 170.7 360.2 171.0 365.5 169.3 378.5 169.8 361.9 154.3 365.5 178.6 370.7 168.6 372.4 162.8 381.6 170.3 389.2 172.4 367.1 152.0 387.1 172.7 372.2 161.0 362.2 191.0 379.7 171.2 363.1 154.9 371.7 167.0 369.3 172.7 363.7 177.7 366.0 173.7 385.7 176.0 381.8 172.8 368.1 160.0 386.2 155.2 373.6 169.3 360.0 190.4 387.2 156.2 372.1 186.1 391.0 189.8 369.0 189.3 376.9 157.4 364.9 175.3 382.2 160.4 387.7 178.9 383.6 169.0 372.0 161.1 375.6 193.0 390.4 160.1 376.4 176.1 385.8 157.9 362.5 191.6 374.0 166.5 365.9 200.0 382.2 171.2 364.0 191.5 374.1 160.2 363.3 172.8 361.9 162.8 359.2 164.9 369.0 152.7 361.8 182.7 390.4 155.8 369.8 155.3 383.4 180.2 374.3 173.7 374.5 163.8 360.9 184.4 383.8 196.0 374.8 169.8 361.4 163.5 360.4 159.1 374.6 169.3 389.6 176.7 387.3 171.6 359.5 158.3 374.2 190.8 383.8 151.4 386.8 199.3 380.9 173.8 369.3 162.8 361.2 172.5 364.5 185.4 378.4 169.7 363.3 173.9 363.4 208.5 376.2 171.6 368.5 156.3 374.3 162.3 365.0 152.7 388.4 159.5 367.0 152.5 369.1 155.8 363.2 155.7 388.7 156.7 360.5 160.1 368.6 163.2 365.7 152.4 378.4 168.4 371.5 180.1 383.5 167.9 388.4 160.2 358.0 155.9 363.6 170.5 382.3 164.0 359.4 161.2 360.4 182.3 366.5 172.8 376.1 158.8 385.2 170.6 358.5 180.3 371.1 177.7 375.2 185.9 375.1 165.8 388.1 164.9 360.9 173.5 380.2 160.3 364.5 160.1 360.9 159.9 361.4 180.9 379.3 182.5 382.5 167.1 358.7 206.5 377.4 153.9 386.0 172.9 387.6 172.5 368.6 176.6 390.8 191.3 380.0 171.5 374.4 153.5 384.2 161.5 369.3 165.6 382.4 166.7 363.4 160.6 375.0 167.8 365.1 163.6 365.6 173.5 371.6 154.3 374.3 154.0 372.8 152.5 368.7 157.7 361.0 203.1 374.5 173.8 378.6 172.6 370.9 155.4 375.1 166.5 387.0 189.0 376.1 151.5 378.6 170.1 364.4 174.5 380.3 153.3 378.3 156.2 361.1 189.6 388.9 173.1 361.5 204.5 377.4 191.5 383.2 163.3 378.1 156.9 373.7 156.9 365.1 163.3 387.0 157.4 367.1 186.0 385.6 162.8 374.4 162.4 358.0 169.4 370.5 159.2 364.0 174.9 377.6 167.9 362.1 183.2 373.1 170.5 372.4 163.7 385.5 155.2 368.9 156.2 370.7 193.2 380.6 181.1 370.1 180.6 378.1 204.1 379.6 161.4 374.9 180.8 384.8 161.7 385.9 161.1 379.5 171.4 389.9 206.4 381.0 167.5 374.5 174.9 391.0 166.4 384.9 166.4 361.6 173.7 367.5 175.8 384.0 186.1 369.2 181.0 373.2 154.9 370.1 180.0 379.7 165.2 384.8 154.1 384.8 214.7 377.2 174.2 381.4 157.7 366.9 187.6 379.5 168.7 361.9 187.1 381.1 191.8 380.7 157.7 361.6 155.7 366.5 163.8 373.0 152.3 363.0 177.5 386.9 161.3 364.1 169.1 374.8 165.6 377.8 175.1 381.6 192.0 380.4 155.5 365.7 156.1 362.0 156.0 372.1 160.5 360.5 153.9 366.7 169.5 382.9 160.4 383.0 157.7 380.4 179.6 373.5 169.1 363.4 180.5 364.3 184.7 383.4 170.3 391.3 169.3 365.6 176.4 362.7 160.9 386.5 168.1 365.6 180.2 372.6 171.8 368.6 168.7 373.0 182.7 372.9 162.1 358.8 161.2 390.8 160.9 367.1 175.5 377.7 166.0 371.7 180.7 389.5 193.1 372.1 199.7 376.3 156.9 374.7 154.1 383.2 155.2 372.3 180.9 363.7 162.6 370.1 156.8 388.6 196.8 378.9 180.0 374.2 167.4 389.1 201.8 373.6 179.3 381.1 170.7 388.6 173.7 386.5 171.5 363.2 165.4 383.1 196.0 381.3 153.5 374.2 169.3 360.5 154.7 365.6 179.3 381.2 180.8 378.5 162.6 370.2 170.2 377.4 164.8 365.8 183.5 381.6 166.6 361.6 174.4 374.6 165.9 362.9 170.3 368.1 168.3 363.3 163.6 379.7 189.1 390.9 170.1 361.6 167.2 389.4 167.1 391.1 178.2 388.4 188.1 379.5 155.1 360.9 157.3 374.7 178.8 386.1 172.3 382.7 195.0 377.1 169.0 372.3 187.4 378.1 174.8 371.9 166.5 364.6 181.9 378.1 149.3 378.7 164.1 370.3 172.5 386.4 177.6 363.6 153.2 365.8 153.0 373.4 163.6 382.7 174.0 360.6 181.3 376.0 160.3 391.4 168.0 365.1 205.2 379.9 188.1 384.7 161.6 372.7 204.6 379.9 153.8 382.4 161.1 389.9 188.9 376.5 161.2 367.2 149.6 381.0 170.8 389.5 165.9 366.6 155.5 375.2 163.8 364.8 174.1 390.2 158.9 390.0 155.0 370.7 169.7 366.5 167.9 374.5 170.6 363.5 157.7 367.5 157.7 370.4 206.3 377.4 166.9 365.8 168.7 361.9 185.5 379.8 167.6 380.1 169.7 364.6 171.3 375.3 208.7 381.3 167.4 365.3 155.7 366.6 182.4 390.5 152.9 383.6 206.1 380.0 186.9 384.4 180.6 374.7 188.5 390.8 157.1 374.2 158.5 373.0 155.4 361.8 167.5 369.3 157.4 373.1 156.2 388.3 179.0 377.3 175.4 364.8 160.9 367.4 162.8 377.7 159.8 366.0 171.7 387.5 153.5 361.2 172.9 378.2 167.4 368.5 164.5 362.8 179.1 378.3 192.6 381.2 168.0 387.2 178.3 378.9 171.1 373.5 163.6 362.9 172.1 362.9 168.0 365.7 188.0 382.6 162.1 358.2 172.4 359.5 196.8 380.1 154.0 374.1 183.5 382.4 164.7 362.9 169.4 360.9 173.5 365.4 165.8 385.4 161.5 367.2 178.8 375.6 164.6 371.1 185.1 380.8 163.7 372.3 155.8 369.8 156.6 362.2 172.2 371.9 165.0 367.6 191.2 380.4 166.6 362.6 153.5 366.6 167.3 367.5 207.6 376.3 183.1 374.9 169.2 374.4 167.4 377.3 163.9 363.4 162.9 360.6 171.6 367.7 164.2 385.2 199.0 379.2 187.1 369.7 185.6 378.5 158.7 365.5 163.6 386.2 167.4 373.9 164.9 363.0 183.2 376.8 161.5 362.4 149.6 390.1 175.3 375.7 169.9 375.0 155.4 368.3 168.2 364.4 201.4 381.5 153.3 369.6 155.9 368.9 151.3 388.7 151.0 381.2 167.3 362.6 152.4 366.9 172.6 379.5 164.2 365.5 197.1 383.5 156.9 367.1 168.9 388.5 168.4 359.8 163.6 386.6 175.8 387.9 167.8 391.0 183.1 368.6 189.1 389.4 170.4 390.9 166.6 367.8 169.8 388.3 157.5 366.2 188.8 391.1 179.6 374.6 170.4 384.4 169.7 386.2 163.4 368.6 161.8 365.1 167.5 385.5 161.9 381.1 164.9 363.4 192.6 387.3 203.0 379.1 189.9 386.9 155.7 385.8 178.7 367.7 179.2 374.2 168.8 387.9 166.9 365.9 158.5 367.1 160.5 384.2 204.1 377.7 159.8 365.1 178.2 386.8 163.6 367.1 162.3 364.0 184.5 369.3 168.9 369.6 159.7 382.3 158.1 385.9 180.1 375.8 188.8 383.1 188.7 382.2 178.9 373.5 180.7 369.9 165.3 365.7 173.8 364.6 182.7 374.0 201.1 374.1 155.4 390.9 188.2 378.0 187.7 388.8 194.0 377.1 190.5 383.3 154.1 365.9 169.5 360.3 153.4 367.0 160.9 368.6 183.2 382.0 188.9 387.4 166.2 359.8 165.3 361.6 171.8 386.1 158.4 370.7 184.6 383.0 171.0 372.0 164.4 359.5 160.4 378.2 156.8 365.2 152.4 361.4 178.6 369.5 158.9 360.7 156.3 372.1 154.6 375.6 153.1 367.1 196.3 375.7 169.4 389.5 181.2 367.3 173.5 366.0 184.0 388.2 201.4 379.2 173.5 373.3 155.3 366.3 168.7 374.2 173.2 367.8 166.9 373.2 169.6 372.4 168.1 377.1" fill="none" stroke="none" marker-start="url(#m4)" marker-mid="url(#m4)" marker-end="url(#m4)"/>
<path d="M302.0 372.4 270.7 383.4 274.0 372.8 270.5 378.8 267.0 385.8 283.8 368.2 273.5 378.7 270.4 378.9 267.8 384.5 272.9 373.1 276.2 374.0 273.6 371.7 273.0 375.3 268.4 382.3 273.1 379.9 311.6 372.2 265.3 389.4 268.6 383.7 274.9 373.4 280.8 371.6 280.0 364.7 313.3 377.2 267.9 382.7 277.8 377.9 270.4 380.7 284.5 374.8 268.7 382.0 266.5 387.1 278.1 375.5 269.5 379.6 267.5 385.7 266.5 385.2 272.8 376.9 266.2 386.8 273.9 376.0 272.5 380.0 271.7 375.1 283.0 369.8 274.9 379.1 272.3 378.5 273.1 372.7 277.6 372.1 269.1 382.6 270.4 380.0 284.8 361.7 271.0 380.0 275.3 373.6 267.4 384.8 266.6 387.2 266.6 386.1 269.6 380.4 265.5 389.8 289.2 372.5 265.3 389.7 265.3 389.3 273.7 376.0 266.5 387.9 272.7 378.0 271.3 379.4 274.4 374.9 302.9 375.1 291.2 367.0 270.0 381.3 270.2 380.4 268.1 383.7 267.1 384.3 270.3 379.6 275.9 373.3 265.7 387.9 273.3 376.1 269.2 381.7 266.2 387.9 280.4 372.6 265.3 389.6 268.1 380.7 266.3 387.8 273.5 378.3 292.9 368.7 274.9 380.4 280.6 369.7 273.6 370.4 267.4 384.5 269.2 382.5 272.8 377.1 271.2 373.3 270.1 381.6 268.9 381.4 285.7 370.9 273.1 376.7 268.6 382.0 272.9 374.3 265.3 389.7 265.6 389.4 279.2 367.4 266.8 384.6 287.3 370.0 270.8 377.8 275.1 376.9 277.5 377.5 276.9 369.0 275.3 377.1 273.7 374.3 272.1 379.1 268.7 382.9 266.0 387.9 276.6 372.1 275.2 372.7 267.1 383.5 307.3 373.2 276.7 373.7 271.8 373.2 292.6 367.5 268.9 381.2 270.2 380.5 284.6 360.9 269.6 388.4 268.8 381.4 265.5 388.6 266.9 386.6 273.1 379.5 274.3 375.2 270.5 377.4 268.8 382.3 292.2 373.3 265.6 388.4 273.3 375.2 289.0 364.5 265.4 389.7 272.5 378.0 277.7 368.6 267.3 386.3 287.3 369.0 292.8 372.0 267.0 385.5 265.8 387.8 270.8 379.4 273.2 375.9 276.7 373.1 266.7 386.2 272.1 379.4 265.8 387.3 267.2 384.4 333.3 367.8 281.2 372.1 278.2 369.0 270.8 376.7 269.2 382.0 274.1 375.8 282.8 364.3 268.9 379.5 269.5 380.8 274.5 375.0 265.6 389.1 295.0 359.0 277.7 378.8 335.0 377.7 289.1 367.7 279.9 375.4 268.1 385.6 272.9 376.8 270.7 379.7 268.0 383.4 266.4 387.3 276.1 375.6 306.0 374.5 286.2 362.8 273.2 376.3 265.3 389.7 303.0 368.1 275.4 375.8 273.9 374.4 276.8 370.6 271.1 379.4 271.7 373.1 266.3 387.9 266.9 386.9 270.7 380.2 278.3 366.0 273.9 376.4 266.9 385.5 272.4 379.6 270.4 381.0 272.6 377.8 273.6 375.1 281.0 370.0 274.7 386.0 275.7 375.5 268.9 379.7 269.3 382.8 284.4 382.2 286.7 365.3 266.9 384.5 269.4 378.1 272.2 375.4 267.0 384.2 287.4 369.9 269.3 380.1 277.6 370.1 276.3 371.8 268.4 381.7 275.8 372.5 275.3 371.7 270.5 380.0 279.4 384.0 265.6 387.8 270.1 380.4 281.9 364.8 275.0 379.4 274.1 372.9 272.4 375.4 272.4 375.8 267.1 385.7 270.0 376.2 291.5 371.6 281.5 385.8 276.6 378.1 270.9 377.4 282.0 373.2 266.6 385.9 267.8 382.6 269.3 376.8 294.1 361.3 270.2 383.3 272.4 378.8 269.1 382.5 272.4 372.1 283.0 372.2 269.5 384.1 271.3 380.9 296.1 365.2 270.8 377.9 280.2 372.6 266.0 388.3 284.9 384.4 265.9 388.5 271.1 376.8 269.1 381.7 306.5 373.3 266.2 386.5 271.5 379.6 268.7 382.4 269.4 380.4 291.3 367.9 275.7 381.1 277.4 376.1 270.3 381.1 272.6 374.2 279.4 375.2 289.2 373.3 266.0 386.2 268.4 381.8 267.2 385.5 285.8 381.7 271.4 374.6 286.3 368.8 275.9 371.6 275.0 380.0 277.2 376.2 268.5 378.0 270.4 381.4 270.5 376.2 269.0 377.9 270.2 379.6 276.2 367.1 272.6 375.0 306.1 374.5 274.0 375.3 280.9 363.3 276.0 374.0 273.4 376.6 265.7 388.1 268.4 382.8 274.1 375.2 266.9 386.6 274.0 377.6 269.9 380.9 270.4 379.9 281.1 384.9 265.3 389.7 270.5 377.7 300.3 371.5 273.0 374.9 279.5 370.7 265.7 388.9 274.9 374.4 268.8 378.8 277.0 375.8 267.1 383.5 268.8 381.4 268.6 383.8 266.1 388.4 289.9 362.2 267.5 382.7 270.7 381.6 279.1 375.0 308.4 369.0 273.3 375.6 284.6 359.5 273.0 376.9 272.4 377.6 265.5 389.3 273.5 377.8 266.1 387.3 273.3 378.1 282.7 382.1 280.0 362.7 270.8 378.5 265.3 389.6 307.8 357.9 312.4 363.5 310.0 375.3 268.0 384.0 293.5 367.8 273.3 373.1 272.3 373.3 266.3 384.9 306.8 378.0 267.6 383.9 273.3 372.9 271.8 379.3 269.4 380.9 271.5 378.0 269.9 377.5 277.3 371.2 273.4 380.5 283.2 369.4 282.0 371.7 266.6 384.3 266.0 388.2 268.5 381.2 276.8 372.1 266.4 387.9 266.3 386.7 270.2 378.3 274.3 372.1 279.4 375.7 269.4 381.7 271.9 379.3 276.6 373.8 266.5 385.2 287.2 359.0 271.8 375.1 318.8 376.7 271.3 376.8 271.5 381.2 275.6 371.9 285.6 378.5 286.3 370.9 265.8 388.1 274.9 372.9 281.8 373.6 268.2 383.2 272.4 376.4 303.5 372.0 271.5 381.1 268.2 381.8 272.4 380.7 269.5 381.4 304.6 364.9 266.2 387.7 265.9 388.2 279.3 370.4 286.7 358.0 270.8 379.8 294.6 364.0 265.7 388.1 270.9 379.4 275.1 373.6 269.2 381.2 271.5 373.0 269.9 380.4 278.9 368.3 271.1 377.8 277.0 374.4 265.4 389.9 275.7 387.1 272.0 381.6 271.1 377.4 271.7 376.9 267.6 383.1 271.8 377.9 266.3 386.4 319.7 371.2 271.8 377.9 285.8 370.1 271.5 376.8 270.0 378.4 269.5 383.1 274.2 372.5 270.4 377.1 269.2 377.7 268.5 383.6 276.7 373.9 286.0 362.3 270.6 377.8 269.3 380.4 267.3 384.9 287.7 367.9 302.6 369.8 278.4 372.4 271.7 374.4 299.1 381.6 272.0 375.2 272.4 375.0 283.5 361.4 280.4 376.9 276.1 372.5 276.1 377.7 288.6 366.5 272.6 376.2 274.9 371.8 269.8 382.9 282.8 383.7 280.6 370.8 269.4 384.4 278.2 371.6 278.4 372.8 270.2 380.8 276.6 369.7 268.1 381.0 265.9 387.7 277.4 369.2 276.5 374.0 276.9 373.7 274.7 374.0 271.7 379.3 269.8 379.5 266.5 387.6 275.1 374.6 266.4 387.0 274.6 375.6 272.3 377.7 271.2 374.2 269.9 376.9 267.3 384.5 277.6 369.0 312.7 368.5 271.9 381.6 265.4 389.4 271.0 376.3 272.9 375.3 271.0 372.1 277.4 375.0 267.8 383.3 267.1 386.3 275.2 369.8 277.7 373.8 273.9 374.2 270.8 376.0 269.1 380.2 269.9 380.9 266.5 386.6 275.0 373.1 265.5 389.1 272.5 375.7 275.8 377.3 268.5 380.1 312.6 366.9 274.0 373.9 273.1 374.4 278.7 371.6 301.5 365.2 268.8 382.7 281.1 369.1 276.8 375.3 268.5 382.8 265.6 388.7 267.3 385.3 273.5 378.7 303.0 362.7 278.8 374.2 265.8 388.1 271.4 379.1 267.1 385.6 284.2 366.8 272.3 375.8 278.1 369.5 275.0 374.2 271.8 378.4 275.9 374.5 268.0 381.9 268.4 382.3 268.4 383.0 276.6 379.9 276.2 374.4 266.9 384.9 280.4 369.9 267.2 386.4 287.9 374.6 265.2 389.7 268.1 382.6 269.1 383.6 274.4 376.0 276.3 375.3 270.4 381.6 311.7 367.9 266.1 386.4 273.3 378.5 266.8 386.0 281.0 373.6 295.2 368.5 265.5 389.7 281.9 369.4 280.5 360.6 265.7 388.0 272.3 378.7 266.8 384.7 288.6 370.4 274.4 375.1 265.8 388.5 267.5 384.3 272.0 374.6 273.0 375.4 275.2 372.6 305.1 378.5 267.8 382.7 265.5 389.2 268.2 382.0 279.9 366.8 276.9 375.1 269.7 380.3 324.5 368.5 268.3 383.1 304.2 376.3 274.5 375.6 318.7 372.2 272.1 377.7 281.5 375.3 266.3 386.7 269.8 377.6 271.6 376.4 283.7 374.9 280.4 368.1 272.3 379.7 270.3 381.7 270.1 379.9 281.8 372.9 269.7 379.7 274.5 375.5 308.4 376.6 268.5 383.2 270.4 379.5 270.0 380.2 268.2 382.1 276.6 373.2 274.3 373.2 268.2 383.6 269.9 381.0 286.1 381.1 273.5 375.1 268.2 384.9 275.2 373.4 285.4 383.2 268.5 382.3 273.7 376.2 271.1 373.1 266.4 386.2 281.1 372.5 275.7 373.1 277.5 376.8 270.7 378.2 268.5 381.5 282.3 371.2 279.2 373.8 269.3 382.1 274.7 377.0 273.8 381.9 298.6 370.0 273.0 375.1 266.2 387.3 274.8 374.3 268.5 382.9 277.9 378.7 274.5 376.7 291.8 367.9 266.5 384.8 292.3 364.7 303.1 363.1 267.3 385.9 295.3 364.6 273.9 377.9 267.5 384.6 273.9 373.5 274.7 374.7 288.4 364.1 265.9 388.0 272.0 373.3 273.5 374.6 267.1 386.4 280.1 371.7 300.3 379.0 285.4 371.8 267.7 383.4 269.6 379.0 277.0 374.8 265.5 388.9 277.5 384.9 268.8 381.4 307.9 364.9 266.4 387.4 296.1 368.9 291.9 372.1 269.2 381.4 266.7 386.0 286.0 364.0 275.6 375.1 323.4 367.0 271.8 378.7 284.0 384.0 276.3 380.9 268.9 381.8 275.0 375.9 271.1 373.3 267.7 383.6 281.4 372.6 278.7 372.6 338.4 368.2 268.5 385.0 273.8 375.3 277.5 375.0 267.8 383.5 270.6 381.0 313.1 378.0 309.6 369.9 277.2 380.6 283.7 381.5 273.1 374.1 271.4 378.4 270.0 379.9 276.2 376.2 266.5 386.8 265.4 389.4 290.4 364.0 267.8 385.5 269.5 380.1 274.2 372.9 266.9 385.8 308.4 370.6 266.7 387.3 272.4 375.2 271.0 387.1 295.9 366.4 270.9 382.1 270.3 378.6 273.3 377.6 265.3 389.7 267.1 384.0 271.7 374.2 275.6 376.7 271.0 373.7 266.9 386.3 272.3 380.8 270.0 382.2 313.9 373.8 279.3 373.3 304.7 372.7 273.6 379.8 269.5 380.5 327.2 368.5 269.4 379.7 274.8 378.8 277.8 362.9 274.4 376.2 273.9 374.9 269.0 381.4 265.5 389.2 305.0 368.5 266.6 387.3 266.9 384.3 294.2 368.3 270.2 377.3 268.3 382.4 273.8 372.6 272.0 377.0 274.2 370.6 268.9 380.0 276.1 364.6 271.7 379.4 282.5 368.4 268.1 383.4 276.0 377.3 270.5 380.5 272.0 377.0 269.4 380.2 274.7 373.9 284.7 373.7 267.2 385.8 273.2 373.0 265.3 389.7 273.9 374.5 301.7 365.0 265.5 388.7 318.2 376.8 277.1 370.7 282.1 375.6 273.7 376.5 273.5 377.1 343.2 372.3 293.5 379.7 277.3 371.8 324.4 372.2 278.3 373.0 269.0 381.1 265.4 389.0 265.6 389.0 268.7 381.4 272.7 377.8 265.3 389.8 265.5 389.0 273.5 376.5 267.3 384.0 276.9 373.7 305.4 380.7 268.6 381.7 306.6 366.7 275.6 378.2 265.7 388.8 271.6 378.8 279.1 373.9 273.6 375.0 294.7 358.0 273.6 374.9 279.4 370.3 272.9 383.4 269.3 380.8 285.8 383.7 269.4 381.4 270.8 374.2 271.9 375.1 277.5 367.7 286.9 362.8 272.4 373.9 291.4 361.7 267.0 384.9 276.9 377.3 270.0 383.8 275.3 376.1 275.3 372.9 270.9 374.1 284.0 373.3 273.3 374.6 267.2 386.0 274.6 375.2 273.4 372.8 300.2 366.7 295.9 373.5 267.0 384.3 270.2 375.5 275.1 374.6 272.8 374.4 278.0 371.7 270.7 375.5 299.2 364.8 274.7 381.6 313.7 369.4 265.4 389.4 271.5 380.6 265.7 388.3 265.7 389.1 269.3 381.2 267.9 385.4 278.4 375.0 270.0 383.7 272.8 374.7 272.4 375.3 285.8 362.0 265.9 388.1 288.4 367.1 265.5 388.9 266.6 385.5 265.6 388.4 270.4 380.1 271.2 382.8 274.0 372.8 276.1 379.3 265.5 389.3 281.5 367.0 266.1 387.4 271.0 380.0 336.3 365.5 281.2 369.1 299.9 372.7 277.7 372.3 291.0 361.0 273.8 376.9 267.1 384.1 273.2 376.8 274.1 373.6 270.6 380.6 274.9 363.3 275.4 376.2 267.6 385.5 272.9 374.0 270.3 375.3 268.7 381.4 265.4 389.1 275.2 380.9 273.6 376.5 274.1 374.4 277.5 372.9 277.4 374.3 266.2 387.6 313.8 357.8 272.5 382.4 282.9 372.6 269.2 380.5 299.8 356.4 284.3 357.4 295.1 371.0 273.6 375.2 277.0 374.5 307.3 366.5 272.7 375.2 267.3 385.4 266.3 384.6 267.6 386.7 274.0 376.0 272.9 373.8 272.3 380.4 271.1 380.3 283.8 368.6 269.9 380.0 284.4 376.5 266.8 385.7 322.2 373.0 278.6 364.2 279.4 374.6 271.8 376.6 290.8 363.1 279.0 363.8 271.7 372.8 276.2 377.1 302.9 376.1 267.2 386.1 272.9 375.8 307.9 372.0 265.6 388.9 265.5 389.4 273.4 386.7 267.7 385.0 278.2 371.6 267.9 381.7 293.7 357.0 286.7 370.1 269.4 381.1 276.8 369.7 267.8 383.2 274.1 378.2 274.8 375.6 268.5 378.9 272.4 379.0 279.4 371.5 317.9 367.1 281.3 376.7 265.7 388.2 282.6 383.1 271.9 374.3 268.3 379.3 272.8 373.2 286.3 372.9 265.9 388.8 274.2 375.8 269.6 382.3 267.4 385.4 319.8 376.0 272.5 372.9 269.0 380.5 265.5 389.7 266.2 387.2 299.5 366.4 267.3 385.9 268.0 384.9 303.8 376.4 272.7 375.8 268.9 377.2 277.2 376.6 275.2 378.5 266.3 386.9 272.2 377.4 290.1 368.0 296.7 356.1 275.5 377.0 269.7 380.9 272.8 374.1 272.1 377.8 265.9 388.4 299.5 371.7 279.8 366.3 265.9 387.9 270.4 377.4 269.9 382.5 270.1 377.8 266.5 387.4 286.2 359.9 265.6 388.2 267.2 383.8 270.0 383.6 326.4 370.4 274.8 380.8 278.4 375.5 267.8 385.7 266.4 386.7 268.5 382.1 269.1 379.3 275.8 377.5 272.5 376.4 299.3 348.8 270.3 382.6 272.5 377.2 325.4 343.1 268.9 382.0 266.4 386.6 270.8 375.6 268.7 381.8 269.4 380.8 267.5 383.4 268.0 383.1 268.8 380.6 272.8 376.7 267.3 385.2 272.2 382.2 270.9 376.8 271.4 376.0 265.5 389.6 273.9 374.2 275.1 372.3 272.3 379.2 265.8 387.9 267.1 383.5 271.1 378.8 276.7 371.9 265.5 389.6 274.6 373.4 266.5 386.9 269.0 381.3 275.0 378.0 267.8 382.1 265.7 387.7 267.5 383.2 272.7 372.6 270.1 376.3 274.6 373.6 265.9 388.4 313.5 377.4 266.4 386.6 265.9 387.2 307.2 380.5 269.1 377.2 269.4 380.7 296.1 370.3 278.1 373.3 278.5 367.4 270.9 376.8 268.1 384.5 276.7 375.0 283.2 369.9 269.8 378.3 273.7 377.8 278.2 371.8 273.3 376.3 267.6 385.7 269.6 382.3 272.7 376.4 266.2 387.6 271.3 378.5 266.9 384.7 269.9 383.4 271.9 377.3 267.0 386.0 273.7 373.1 323.6 375.8 277.3 378.3 266.9 384.4 297.9 374.1 273.5 381.3 269.8 380.8 274.2 373.1 271.1 379.4 269.7 381.2 267.6 384.7 270.1 377.9 289.8 360.3 272.5 376.4 274.6 372.9 269.8 378.6 268.0 382.9 274.8 371.8 271.3 374.1 267.7 383.3 298.6 365.3 275.0 377.6 266.9 385.5 297.1 369.9 267.8 381.9 265.8 387.9 268.6 384.2 271.1 378.9 265.3 389.6 268.3 382.7 280.3 375.7 267.8 383.1 273.1 372.2 281.6 372.9 273.4 373.9 290.3 361.5 284.3 371.6 273.0 372.9 271.2 375.9 289.0 361.9 277.1 374.9 269.4 380.7 267.0 385.3 270.3 376.9 275.6 385.8 286.0 371.3 276.8 379.6 266.8 386.5 292.6 370.5 268.9 381.3 270.2 382.2 302.8 374.0 266.6 385.8 274.0 374.8 265.4 389.7 267.5 385.8 277.9 371.6 270.7 375.7 271.6 379.0 272.0 380.2 265.6 389.0 275.0 376.5 265.8 388.2 276.2 375.4 270.6 380.5 266.9 386.8 279.3 374.0 271.2 382.1 274.4 375.0 275.3 375.8 265.9 387.1 275.3 373.4 271.4 375.1 272.2 374.5 280.8 373.1 297.1 367.8 269.9 378.2 270.9 376.8 313.6 371.7 279.9 374.2 269.6 378.9 271.9 375.0 274.7 373.4 270.1 381.3 267.3 385.6 273.6 377.6 293.0 376.4 271.6 377.1 291.4 373.0 267.2 386.1 265.8 388.7 273.9 376.5 271.2 379.0 266.4 386.4 275.3 376.9 275.4 377.9 268.0 381.3 266.7 386.7 280.9 370.9 270.2 378.9 267.7 384.4 296.7 364.2 275.1 374.3 266.3 387.3 274.4 382.0 272.8 378.2 267.5 382.3 276.4 376.1 330.3 369.4 275.8 372.5 269.7 379.2 287.3 383.4 272.7 376.7 274.4 376.6 272.1 374.6 287.2 375.8 276.0 374.7 269.1 377.1 268.4 381.2 270.4 379.2 265.5 389.2 285.9 374.0 288.3 371.2 273.5 373.1 272.4 379.2 270.6 379.4 266.1 386.4 285.7 368.5 267.3 383.7 276.1 373.6 272.6 376.4 272.2 374.2 269.9 382.9 274.9 371.9 276.3 372.7 266.9 387.3 280.4 369.0 274.5 373.5 275.5 371.6 272.5 374.3 266.9 385.3 273.7 375.3 287.3 362.7 328.0 374.7 299.3 366.9 288.0 371.3 273.0 375.8 280.2 386.3 266.2 386.6 293.2 354.9 267.6 384.3 273.2 375.3 274.4 374.1 281.0 385.5 302.7 367.6 269.4 381.8 274.0 376.8 281.4 369.2 270.0 380.6 279.0 371.9 273.3 378.3 267.5 383.5 271.4 378.3 306.4 373.5 268.6 382.2 278.5 369.4 271.8 375.3 265.5 389.6 273.8 379.8 271.2 377.8 274.0 374.2 271.5 376.0 274.6 376.4 276.4 377.5 272.6 375.7 269.1 381.6 269.4 380.2 275.0 373.2 273.7 374.1 320.8 371.9 268.2 383.9 270.3 380.3 267.4 383.7 279.4 371.0 272.9 382.9 271.1 381.5 271.3 379.2 278.5 373.0 270.7 376.6 279.1 368.5 266.8 386.2 266.7 382.9 266.9 384.4 268.9 379.3 269.5 379.6 276.8 372.7 272.1 379.3 300.4 365.5 267.0 387.0 269.8 374.5 275.3 368.9 273.2 376.2 273.1 372.2 295.5 373.2 267.6 383.1 273.6 375.7 275.1 374.7 268.7 382.0 275.5 375.6 272.6 378.5 270.4 383.5 274.5 387.8 295.0 370.0 274.1 370.7 268.0 382.3 269.8 382.1 269.9 381.9 269.3 382.9 291.3 372.4 274.5 377.9 271.1 380.5 284.8 365.4 275.6 372.0 280.5 368.3 269.8 381.0 275.3 374.7 269.7 381.7 272.4 375.9 267.1 384.1 267.8 383.3 283.5 375.6 274.3 387.9 274.6 376.3 265.9 387.9 266.1 387.0 291.1 370.0 265.6 389.0 275.7 374.0 276.6 373.6 266.2 387.7 267.9 383.9 280.1 375.6 277.1 377.9 274.9 375.8 273.4 375.5 301.0 368.1 275.8 376.8 270.6 380.4 294.2 365.5 271.5 376.5 271.6 379.3 275.0 374.5 275.1 378.9 268.4 381.3 276.1 373.8 269.6 380.3 271.4 375.5 272.9 369.8 273.8 372.1 266.1 386.7 284.9 385.5 271.1 378.0 342.3 372.4 273.6 376.2 265.6 388.8 272.9 378.0 283.6 358.9 299.1 363.5 273.1 376.0 272.1 378.3 292.4 370.6 283.3 370.8 268.6 382.8 300.9 370.9 269.4 387.9 266.3 386.9 265.7 388.8 271.7 377.1 274.1 386.8 273.8 373.2 271.3 375.6 266.8 385.3 272.4 373.8 272.2 377.8 267.5 383.3 275.0 374.8 275.5 374.6 279.8 365.6 268.8 382.6 286.6 361.0 305.7 367.7 267.9 382.8 282.8 376.9 271.4 377.2 275.1 376.7 272.3 376.2 271.8 377.1 265.5 389.4 272.8 378.5 269.9 379.3 271.3 379.0 267.6 384.1 274.9 375.6 309.9 378.8 269.8 380.5 287.7 369.4 284.6 363.3 266.0 388.5 309.4 378.1 269.0 380.8 276.8 376.1 272.2 373.8 272.0 379.1 268.9 383.0 297.2 367.9 266.1 388.1 266.2 387.9 266.7 385.8 267.3 387.0 270.5 378.2 273.0 373.6 271.5 378.9 276.4 373.0 265.7 387.8 281.0 383.8 272.8 371.8 279.8 365.9 275.4 378.4 265.7 389.3 273.3 376.0 331.6 367.3 293.9 364.9 268.6 381.7 273.9 374.1 275.4 373.9 268.9 378.5 268.7 380.8 265.6 388.9 268.9 381.8 287.2 371.6 270.9 376.1 314.2 370.3 268.1 382.9 273.5 376.8 297.9 358.6 269.6 378.9 286.8 368.1 266.2 387.1 279.5 365.4 275.2 373.6 265.9 387.5 293.3 370.7 272.7 375.4 334.9 367.3 272.5 377.6 274.5 375.9 294.9 366.5 271.9 377.4 293.1 358.1 266.4 387.0 270.7 378.7 272.6 375.6 272.2 378.8 309.6 366.3 270.7 377.6 272.6 375.0 270.4 381.7 274.6 375.8 272.4 376.5 274.1 375.7 287.1 372.8 271.0 378.6 267.5 384.0 265.4 389.6 341.7 371.2 267.6 382.1 265.7 388.4 265.9 389.0 266.2 388.2 269.7 379.5 268.2 384.6 296.3 365.6 265.9 388.6 274.3 376.0 269.5 382.0 268.4 383.1 267.5 385.2 267.0 384.7 268.7 385.3 267.5 384.3 272.4 379.4 270.4 380.3 272.1 376.5 275.3 381.2 276.2 372.1 296.0 372.0 275.5 374.2 288.5 375.4 309.0 375.5 293.5 372.5 272.1 375.1 267.5 385.7 276.7 370.5 274.8 374.4 304.4 365.1 319.8 371.4 308.0 366.3 297.1 370.6 277.6 378.1 270.7 379.9 273.6 376.8 271.8 376.4 266.2 387.2 268.9 381.9 272.5 374.9 273.0 376.4 286.0 365.0 267.3 383.6 270.5 377.4 271.2 377.3 265.5 388.6 269.2 384.0 272.3 379.0 270.5 380.1 274.4 374.0 279.2 373.2 265.9 387.5 267.0 386.2 286.8 362.0 272.8 374.3 267.4 386.2 270.4 380.3 267.3 385.1 273.0 376.8 268.8 380.8 269.9 379.6 270.4 375.6 274.7 377.1 286.3 356.6 266.4 387.6 273.8 372.7 270.9 381.1 274.3 378.3 270.2 378.8 270.4 381.2 268.0 384.2 273.0 387.6 270.1 378.7 275.2 373.1 294.0 368.3 267.9 380.3 276.0 378.0 329.7 376.9 266.3 388.4 267.0 385.8 287.9 371.3 275.1 374.5 265.4 389.4 274.7 378.5 272.0 374.9 312.7 377.0 271.0 378.7 297.9 368.9 277.9 376.2 275.9 384.5 280.4 375.8 278.0 373.7 270.8 384.2 280.7 372.5 279.2 363.7 270.8 379.7 272.1 380.0 283.7 371.1 338.9 376.5 269.5 382.3 280.8 366.8 271.7 376.1 304.5 363.4 265.9 388.0 266.4 387.2 265.3 389.7 270.7 377.9 274.7 375.0 275.6 373.5 288.1 368.6 266.7 385.8 270.8 379.1 266.0 388.1 274.1 377.9 270.5 379.5 271.3 381.3 268.2 383.7 272.8 376.5 271.1 377.3 268.2 383.4 277.7 372.4 269.1 379.1 276.2 374.2 286.7 366.4 268.2 382.8 274.3 373.1 268.3 384.9 296.3 370.8 277.2 376.7 293.2 364.1 267.4 385.6 266.0 387.4 268.0 383.5 270.9 380.3 271.4 376.4 275.8 385.6 265.8 387.0 278.5 372.9 269.2 382.1 283.1 383.4 286.7 368.9 273.4 373.1 273.5 387.2 280.8 374.8 272.3 379.3 275.1 373.5 274.7 376.6 270.5 375.4 269.3 378.1 276.1 370.1 272.2 379.2 270.3 379.1 273.0 376.4 272.0 377.7 274.1 386.6 286.1 360.6 266.1 387.3 270.5 378.1 282.2 383.9 266.0 388.9 273.0 378.1 275.2 376.7 279.7 372.4 295.4 373.4 272.0 377.6 271.4 380.7 275.3 379.8 270.3 376.0 267.2 384.1 279.1 373.2 266.2 387.4 278.4 372.7 293.4 357.0 267.3 385.1 266.2 388.2 265.6 388.8 266.8 386.2 265.8 388.2 280.8 368.1 272.8 376.4 285.9 376.4 277.7 375.8 305.3 374.8 270.5 379.3 266.1 388.3 275.7 375.5 279.5 368.7 293.8 366.3 270.4 380.3 295.3 365.0 266.4 386.6 273.1 374.4 267.4 384.6 267.0 383.5 266.5 386.4 274.4 376.2 277.4 372.4 267.1 385.1 271.7 387.7 270.9 377.0 265.7 388.3 274.1 372.6 269.7 381.0 272.5 377.2 269.7 381.5 274.5 374.9 280.4 373.8 272.7 387.1 273.5 374.1 271.8 378.3 273.7 376.8 293.1 364.2 266.4 385.7 281.2 373.4 267.0 386.3 276.1 376.4 279.3 372.0 268.9 381.0 286.7 366.5 266.0 386.8 283.2 367.9 267.0 385.5 311.7 372.5 299.9 373.1 269.1 382.2 265.6 388.3 271.3 379.3 271.4 377.4 267.7 383.4 281.9 374.7 278.3 367.0 279.5 372.4 266.7 385.9 272.7 373.3 279.8 373.2 285.7 372.7 291.2 367.4 303.7 365.2 276.1 372.0 293.5 366.5 271.4 382.2 269.7 382.8 274.5 372.7 267.2 385.0 267.8 385.1 273.8 372.8 275.6 376.9 270.3 379.5 267.1 385.9 266.4 388.0 275.4 372.1 272.5 381.4 279.0 372.4 277.5 372.3 273.8 379.9 276.9 375.9 277.5 372.0 268.3 382.3 276.6 378.4 272.1 383.2 270.3 378.3 268.5 383.3 305.6 376.8 272.3 375.1 265.9 389.0 269.5 382.0 268.4 382.7 270.6 377.9 276.5 373.5 267.5 382.2 269.2 380.6 274.6 377.3 292.7 363.2 266.3 387.3 273.2 378.0 272.9 372.2 268.1 383.1 285.7 374.9 339.7 377.8 276.9 378.5 276.4 377.2 268.6 382.6 266.7 386.5 278.9 374.0 265.5 388.5 272.2 377.3 267.9 385.0 276.1 375.7 266.3 388.5 274.2 375.8 286.3 362.1 274.0 373.7 279.4 371.5 270.2 378.8 276.1 377.4 275.4 376.5 272.8 376.5 270.8 378.9 267.3 385.3 271.8 378.6 268.3 382.8 269.5 381.6 281.2 364.8 274.5 378.6 271.5 372.5 276.6 379.1 275.2 378.4 267.8 382.9 301.3 372.1 265.4 389.5 275.8 369.7 271.7 377.4 276.9 376.3 271.8 378.4 267.6 384.7 266.3 388.0 279.6 372.0 266.4 387.9 265.4 389.1 275.5 370.6 272.2 383.6 276.2 372.0 339.8 377.2 274.0 375.5 265.4 389.1 273.7 384.6 274.3 387.0 273.2 372.5 267.0 385.4 280.1 370.2 278.9 379.0 271.0 377.7 270.9 379.3 282.0 369.7 274.7 372.4 266.8 387.4 266.8 385.3 288.9 366.6 267.1 385.8 266.6 386.6 278.6 370.1 273.9 375.0 267.6 383.2 266.6 386.8 272.5 372.6 265.5 389.5 310.2 377.6 271.6 378.9 280.9 374.9 269.2 377.6 276.0 375.5 290.3 365.5 272.4 371.9 270.8 379.6 268.1 380.9 292.3 363.4 274.6 375.3 275.3 372.3 278.7 370.8 271.8 379.1 274.9 386.9 268.4 382.5 284.6 364.1 266.2 385.9 265.7 388.5 265.3 389.1 274.8 374.2 268.2 383.9 274.3 377.6 272.9 376.8" fill="none" stroke="none" marker-start="url(#m4)" marker-mid="url(#m4)" marker-end="url(#m4)"/>
<path d="M28.6,329.3V394.1H116.5" fill="none" stroke="#333" stroke-width="0.85"/>
<path d="M26.8,391.4H28.6" stroke="#333" stroke-width="0.6"/>
<text x="26" y="391.4" font-size="5.1" text-anchor="end" font-weight="normal" fill="#454545" dominant-baseline="central">0</text>
<path d="M26.8,376.65H28.6" stroke="#333" stroke-width="0.6"/>
<text x="26" y="376.65" font-size="5.1" text-anchor="end" font-weight="normal" fill="#454545" dominant-baseline="central">25</text>
<path d="M26.8,361.9H28.6" stroke="#333" stroke-width="0.6"/>
<text x="26" y="361.9" font-size="5.1" text-anchor="end" font-weight="normal" fill="#454545" dominant-baseline="central">50</text>
<path d="M26.8,347.15H28.6" stroke="#333" stroke-width="0.6"/>
<text x="26" y="347.15" font-size="5.1" text-anchor="end" font-weight="normal" fill="#454545" dominant-baseline="central">75</text>
<path d="M26.8,332.4H28.6" stroke="#333" stroke-width="0.6"/>
<text x="26" y="332.4" font-size="5.1" text-anchor="end" font-weight="normal" fill="#454545" dominant-baseline="central">100</text>
<path d="M31.4,394.1V395.9" stroke="#333" stroke-width="0.6"/>
<text x="31.4" y="399" font-size="5.1" text-anchor="middle" font-weight="normal" fill="#454545" dominant-baseline="central">0</text>
<path d="M51.1,394.1V395.9" stroke="#333" stroke-width="0.6"/>
<text x="51.1" y="399" font-size="5.1" text-anchor="middle" font-weight="normal" fill="#454545" dominant-baseline="central">1000</text>
<path d="M70.8,394.1V395.9" stroke="#333" stroke-width="0.6"/>
<text x="70.8" y="399" font-size="5.1" text-anchor="middle" font-weight="normal" fill="#454545" dominant-baseline="central">2000</text>
<path d="M90.5,394.1V395.9" stroke="#333" stroke-width="0.6"/>
<text x="90.5" y="399" font-size="5.1" text-anchor="middle" font-weight="normal" fill="#454545" dominant-baseline="central">3000</text>
<path d="M110.2,394.1V395.9" stroke="#333" stroke-width="0.6"/>
<text x="110.2" y="399" font-size="5.1" text-anchor="middle" font-weight="normal" fill="#454545" dominant-baseline="central">4000</text>
<text x="72.55" y="406.4" font-size="7.2" text-anchor="middle" font-weight="bold" fill="#000" dominant-baseline="central" stroke="#000" stroke-width="0.22">nFeature_RNA</text>
<text x="0" y="0" transform="translate(10.7,361.7) rotate(-90)" font-size="6.8" text-anchor="middle" font-weight="bold" fill="#000" dominant-baseline="central" stroke="#000" stroke-width="0.22">percent.mt</text>
<path d="M143.8,329.3V394.1H231.3" fill="none" stroke="#333" stroke-width="0.85"/>
<path d="M142,391.4H143.8" stroke="#333" stroke-width="0.6"/>
<text x="141.2" y="391.4" font-size="5.1" text-anchor="end" font-weight="normal" fill="#454545" dominant-baseline="central">0</text>
<path d="M142,376.65H143.8" stroke="#333" stroke-width="0.6"/>
<text x="141.2" y="376.65" font-size="5.1" text-anchor="end" font-weight="normal" fill="#454545" dominant-baseline="central">25</text>
<path d="M142,361.9H143.8" stroke="#333" stroke-width="0.6"/>
<text x="141.2" y="361.9" font-size="5.1" text-anchor="end" font-weight="normal" fill="#454545" dominant-baseline="central">50</text>
<path d="M142,347.15H143.8" stroke="#333" stroke-width="0.6"/>
<text x="141.2" y="347.15" font-size="5.1" text-anchor="end" font-weight="normal" fill="#454545" dominant-baseline="central">75</text>
<path d="M142,332.4H143.8" stroke="#333" stroke-width="0.6"/>
<text x="141.2" y="332.4" font-size="5.1" text-anchor="end" font-weight="normal" fill="#454545" dominant-baseline="central">100</text>
<path d="M146.4,394.1V395.9" stroke="#333" stroke-width="0.6"/>
<text x="146.4" y="399" font-size="5.1" text-anchor="middle" font-weight="normal" fill="#454545" dominant-baseline="central">0</text>
<path d="M165.9,394.1V395.9" stroke="#333" stroke-width="0.6"/>
<text x="165.9" y="399" font-size="5.1" text-anchor="middle" font-weight="normal" fill="#454545" dominant-baseline="central">1000</text>
<path d="M185.4,394.1V395.9" stroke="#333" stroke-width="0.6"/>
<text x="185.4" y="399" font-size="5.1" text-anchor="middle" font-weight="normal" fill="#454545" dominant-baseline="central">2000</text>
<path d="M204.9,394.1V395.9" stroke="#333" stroke-width="0.6"/>
<text x="204.9" y="399" font-size="5.1" text-anchor="middle" font-weight="normal" fill="#454545" dominant-baseline="central">3000</text>
<path d="M224.4,394.1V395.9" stroke="#333" stroke-width="0.6"/>
<text x="224.4" y="399" font-size="5.1" text-anchor="middle" font-weight="normal" fill="#454545" dominant-baseline="central">4000</text>
<text x="187.55" y="406.4" font-size="7.2" text-anchor="middle" font-weight="bold" fill="#000" dominant-baseline="central" stroke="#000" stroke-width="0.22">nFeature_RNA</text>
<text x="0" y="0" transform="translate(126.1,361.7) rotate(-90)" font-size="6.8" text-anchor="middle" font-weight="bold" fill="#000" dominant-baseline="central" stroke="#000" stroke-width="0.22">percent.ribo</text>
<path d="M262.3,329.3V394.1H347.5" fill="none" stroke="#333" stroke-width="0.85"/>
<path d="M260.5,391.7H262.3" stroke="#333" stroke-width="0.6"/>
<text x="259.7" y="391.7" font-size="5.1" text-anchor="end" font-weight="normal" fill="#454545" dominant-baseline="central">0</text>
<path d="M260.5,379.84H262.3" stroke="#333" stroke-width="0.6"/>
<text x="259.7" y="379.84" font-size="5.1" text-anchor="end" font-weight="normal" fill="#454545" dominant-baseline="central">1000</text>
<path d="M260.5,367.98H262.3" stroke="#333" stroke-width="0.6"/>
<text x="259.7" y="367.98" font-size="5.1" text-anchor="end" font-weight="normal" fill="#454545" dominant-baseline="central">2000</text>
<path d="M260.5,356.12H262.3" stroke="#333" stroke-width="0.6"/>
<text x="259.7" y="356.12" font-size="5.1" text-anchor="end" font-weight="normal" fill="#454545" dominant-baseline="central">3000</text>
<path d="M260.5,344.26H262.3" stroke="#333" stroke-width="0.6"/>
<text x="259.7" y="344.26" font-size="5.1" text-anchor="end" font-weight="normal" fill="#454545" dominant-baseline="central">4000</text>
<path d="M260.5,332.4H262.3" stroke="#333" stroke-width="0.6"/>
<text x="259.7" y="332.4" font-size="5.1" text-anchor="end" font-weight="normal" fill="#454545" dominant-baseline="central">5000</text>
<path d="M265,394.1V395.9" stroke="#333" stroke-width="0.6"/>
<text x="265" y="399" font-size="5.1" text-anchor="middle" font-weight="normal" fill="#454545" dominant-baseline="central">0</text>
<path d="M288.5,394.1V395.9" stroke="#333" stroke-width="0.6"/>
<text x="288.5" y="399" font-size="5.1" text-anchor="middle" font-weight="normal" fill="#454545" dominant-baseline="central">10,000</text>
<path d="M312,394.1V395.9" stroke="#333" stroke-width="0.6"/>
<text x="312" y="399" font-size="5.1" text-anchor="middle" font-weight="normal" fill="#454545" dominant-baseline="central">20,000</text>
<path d="M335.5,394.1V395.9" stroke="#333" stroke-width="0.6"/>
<text x="335.5" y="399" font-size="5.1" text-anchor="middle" font-weight="normal" fill="#454545" dominant-baseline="central">30,000</text>
<text x="304.9" y="406.4" font-size="7.2" text-anchor="middle" font-weight="bold" fill="#000" dominant-baseline="central" stroke="#000" stroke-width="0.22">nCount_RNA</text>
<text x="0" y="0" transform="translate(242,361.7) rotate(-90)" font-size="6.8" text-anchor="middle" font-weight="bold" fill="#000" dominant-baseline="central" stroke="#000" stroke-width="0.22">nFeature_RNA</text>
<text x="177.8" y="420.2" font-size="8.3" text-anchor="middle" font-weight="bold" fill="#000" dominant-baseline="central" stroke="#000" stroke-width="0.22">PDL</text>
<path d="M29.6,474.45H116" stroke="#d9475a" stroke-width="1" stroke-dasharray="2.5 2.6" opacity="0.85"/>
<path d="M144.8,459.7H231.5" stroke="#d9475a" stroke-width="1" stroke-dasharray="2.5 2.6" opacity="0.85"/>
<path d="M263.3,442.06H347.2" stroke="#d9475a" stroke-width="1" stroke-dasharray="2.5 2.6" opacity="0.85"/>
<path d="M34.4 486.5 35.3 488.3 38.5 485.6 32.8 488.0 35.0 487.9 34.8 487.4 40.9 484.5 36.7 489.0 35.1 486.2 52.7 488.7 40.0 487.6 43.5 487.3 41.6 485.3 34.8 436.1 40.2 489.0 41.1 486.1 33.9 488.8 40.7 488.1 37.1 488.7 46.1 487.6 40.3 476.2 34.0 487.8 39.0 485.2 35.8 489.1 44.2 487.6 38.2 488.8 55.5 484.5 35.4 488.6 41.5 488.9 44.4 484.4 39.7 486.4 93.7 488.9 38.5 489.2 45.0 488.4 39.1 488.4 39.5 488.0 33.5 488.4 57.9 485.1 37.5 485.7 38.5 488.8 41.0 489.0 77.1 489.0 75.1 488.5 38.9 488.9 60.3 489.0 100.5 489.1 42.8 488.6 68.9 489.1 42.0 488.6 34.0 488.0 32.8 486.5 40.2 487.0 42.3 488.5 45.3 486.2 44.3 487.7 40.0 488.5 113.4 488.9 37.1 487.5 45.6 486.5 37.8 487.4 34.8 489.2 55.3 488.7 46.3 489.2 78.0 489.1 45.9 488.7 36.7 489.1 35.5 486.7 39.0 486.7 42.9 487.0 39.2 489.0 58.9 489.0 38.7 486.8 36.4 488.4 35.8 489.0 62.8 488.5 35.6 489.2 35.0 489.0 39.0 481.5 35.9 487.5 37.8 488.3 75.7 488.9 44.4 486.3 39.3 488.1 41.7 487.1 35.3 489.0 44.7 486.1 45.7 488.2 63.8 489.1 36.3 487.8 34.8 485.7 41.0 482.1 36.9 487.8 36.6 488.6 36.7 488.6 43.8 488.9 42.4 486.9 66.3 486.8 32.5 485.9 50.6 486.2 32.8 487.7 47.1 485.6 92.6 488.9 34.2 489.1 33.6 489.0 45.7 488.9 33.4 488.0 92.8 489.0 102.1 489.1 59.0 488.8 40.8 487.2 46.0 485.9 101.8 488.7 33.9 489.1 34.2 434.9 37.0 488.7 32.7 488.5 67.6 488.0 90.8 487.2 74.0 489.1 33.8 489.0 43.3 489.1 34.3 487.6 35.6 488.2 102.8 489.1 78.1 487.7 37.0 487.5 36.5 488.8 37.5 489.0 39.1 488.9 45.7 488.4 41.6 484.5 45.3 485.7 39.9 488.6 40.1 488.9 40.8 487.7 44.2 488.9 66.8 488.1 43.2 488.5 68.9 489.1 34.4 486.5 45.7 488.9 37.4 489.1 33.9 487.7 41.1 488.4 58.6 489.0 34.4 489.2 41.1 489.0 44.7 488.9 38.5 488.3 67.5 487.7 110.5 488.8 42.7 488.2 41.1 488.8 32.8 489.0 34.9 487.7 97.6 488.1 32.8 489.1 43.0 488.7 49.2 484.9 34.1 488.9 37.4 488.1 39.0 486.9 46.6 487.2 72.0 488.4 33.1 488.5 44.8 487.2 39.0 488.5 36.6 488.9 42.4 488.7 57.5 488.8 44.1 489.1 36.7 482.7 63.7 489.0 70.2 488.9 32.5 488.1 47.1 484.4 43.6 488.7 43.3 487.5 49.8 483.4 47.0 482.7 91.5 488.6 57.2 483.3 41.3 488.0 42.0 489.2 45.2 489.0 41.9 489.1 34.6 488.4 36.3 485.9 49.0 486.9 39.7 488.4 67.6 488.8 104.7 488.9 42.0 488.9 34.0 489.2 39.3 489.1 32.6 488.9 32.8 488.6 33.6 488.2 41.0 487.7 40.4 489.0 40.8 483.5 39.6 487.9 43.3 488.8 37.2 483.8 33.7 489.1 60.6 488.0 37.5 488.1 37.1 487.2 32.8 486.8 85.7 487.9 67.1 489.1 44.8 489.2 43.4 488.3 39.9 488.4 36.2 488.7 38.0 486.8 108.2 489.1 59.7 489.0 37.0 489.2 40.8 487.8 35.4 488.7 40.9 488.9 44.1 488.8 103.7 489.1 42.7 489.0 46.4 488.7 79.5 488.9 37.8 488.7 33.2 488.2 33.5 488.5 49.8 487.3" fill="none" stroke="none" marker-start="url(#m5)" marker-mid="url(#m5)" marker-end="url(#m5)"/>
<path d="M156.1 464.5 149.2 483.7 154.9 463.6 150.2 480.5 223.0 463.8 147.2 486.8 223.7 476.9 178.5 463.8 154.6 467.7 151.5 477.3 187.4 466.6 151.0 479.9 150.5 481.2 156.7 465.3 157.1 467.6 155.3 472.8 228.8 464.3 150.9 481.2 196.4 471.4 171.8 466.6 155.6 462.5 152.4 465.4 155.3 466.7 156.1 473.1 153.0 460.5 157.5 472.1 151.6 480.5 148.8 486.9 153.8 461.1 159.9 474.8 152.5 462.1 153.2 468.3 154.5 464.5 156.0 461.0 153.0 467.6 146.8 488.8 153.1 467.9 172.1 477.0 154.7 460.1 158.5 461.4 221.0 471.4 157.7 461.7 152.6 466.2 156.0 466.2 155.5 467.4 181.8 464.0 183.6 464.4 149.0 485.9 157.7 468.9 152.9 459.9 151.8 478.5 153.2 459.9 157.2 466.4 185.5 465.5 149.1 483.9 154.2 466.2 155.2 471.5 149.3 484.1 153.3 468.8 219.5 470.2 156.7 468.3 188.3 472.5 154.9 463.5 180.5 465.6 154.6 461.5 180.4 470.5 158.0 459.8 158.5 468.9 152.6 460.6 158.5 475.0 156.9 463.9 165.8 474.6 174.3 464.3 148.5 484.2 153.7 466.0 165.5 464.9 150.2 481.2 157.9 466.7 160.9 486.8 155.1 471.0 157.2 462.8 154.4 467.7 162.4 465.4 152.1 471.9 155.6 463.4 188.4 473.0 157.8 474.1 150.8 478.9 149.9 482.4 152.2 464.2 153.3 471.6 151.1 479.9 148.5 482.9 149.4 482.9 150.0 482.7 154.7 465.4 158.6 470.4 168.3 470.4 188.5 475.0 190.5 475.9 159.3 469.3 152.4 474.3 156.4 467.0 166.7 479.3 158.2 464.4 158.8 471.2 154.8 464.4 163.4 470.2 152.4 474.6 147.1 487.5 215.7 472.0 153.8 461.1 209.9 463.7 221.4 468.6 157.2 474.9 148.2 484.0 157.6 465.4 162.7 484.5 158.6 464.1 155.1 470.0 155.8 461.2 160.1 469.9 215.3 469.8 156.1 472.0 186.0 479.9 186.8 475.9 151.9 479.3 154.0 461.5 186.8 469.9 148.8 482.6 149.3 482.2 182.8 478.1 149.8 483.8 163.5 469.6 148.5 483.5 158.1 463.2 154.9 472.0 149.4 483.3 187.2 467.1 153.6 461.6 157.8 463.7 159.0 485.7 161.9 464.6 149.5 483.6 180.4 475.6 148.5 484.9 151.4 480.2 152.0 466.3 153.4 464.6 155.7 475.0 153.2 472.5 154.0 466.6 158.6 473.8 214.3 481.7 188.2 477.5 154.3 469.4 155.3 463.9 156.7 473.9 152.1 467.0 153.4 466.2 155.1 470.5 158.4 471.9 148.4 485.5 158.4 462.9 153.4 469.0 153.7 467.9 158.6 460.5 149.5 482.0 155.4 468.5 154.7 472.8 202.8 469.3 154.4 473.5 152.8 465.2 221.8 465.0 156.4 467.0 155.9 462.9 152.7 468.8 157.0 469.9 183.4 481.8 152.2 463.0 152.2 471.6 155.3 461.1 153.0 470.9 153.3 474.7 150.3 481.4 147.1 488.2 157.0 474.6 157.0 469.2 150.6 481.1 153.2 470.8 166.7 475.8 192.8 468.0 158.2 467.9 158.9 471.8 157.5 468.1 149.5 483.3 149.9 481.8 151.4 478.4 154.3 469.2 149.9 482.5 188.1 466.0 180.0 479.4 158.8 465.6 147.3 488.5 153.2 467.2 155.7 471.7 147.4 489.2 157.8 465.4 147.4 488.6 156.7 474.2 158.7 471.1 157.5 471.9 156.2 470.3 158.0 473.8 152.2 473.5 155.9 463.7 220.9 481.9 152.9 472.9 149.3 484.0 158.0 468.8 153.9 473.8 163.8 465.0 155.4 465.6 152.4 465.2 155.9 471.8 152.2 465.9 157.0 474.2 152.6 472.3 187.8 463.8 156.0 463.5 149.5 482.8 156.4 466.8 151.6 478.6 160.7 474.6 159.3 466.1 156.5 475.0 152.8 461.7 158.0 470.7 223.2 464.7 153.0 467.3 154.3 459.7 158.2 463.0 181.9 468.8 156.5 463.1 152.8 475.0 219.3 465.1 153.6 468.2 181.8 478.4 157.2 467.0 156.7 462.2 150.5 481.6 157.9 469.2 153.7 468.3 156.3 461.5 147.8 484.6 155.4 465.7 158.7 469.3 155.5 466.8 153.6 474.7 154.4 474.7 217.4 476.5 155.7 475.0 154.6 471.6" fill="none" stroke="none" marker-start="url(#m5)" marker-mid="url(#m5)" marker-end="url(#m5)"/>
<path d="M270.6 483.2 281.5 474.8 265.6 486.5 267.8 485.3 265.7 488.2 286.7 471.2 272.2 481.8 267.4 486.4 265.2 489.1 296.0 468.8 265.1 488.4 274.8 479.7 274.1 480.2 270.1 484.1 274.8 478.1 277.3 475.3 269.7 482.7 296.3 468.0 265.1 489.1 268.9 484.5 268.6 484.7 265.5 488.3 291.9 469.3 265.6 487.6 294.8 465.8 265.4 488.2 269.3 483.6 275.0 478.0 265.1 489.3 267.7 485.2 268.9 484.6 266.9 486.4 277.6 475.4 268.0 485.3 265.4 487.6 273.2 480.9 271.9 481.3 274.2 480.6 277.1 475.2 274.6 478.5 300.3 465.1 293.9 466.0 273.8 478.6 265.1 489.3 288.2 467.7 301.7 465.6 269.0 485.6 265.3 489.3 309.3 467.2 295.4 474.7 346.8 462.8 267.3 486.4 265.4 487.1 265.9 488.9 289.2 474.1 265.1 488.4 266.0 488.0 272.2 481.6 294.3 468.1 270.5 482.9 278.0 475.5 267.7 486.7 268.3 485.1 265.0 489.1 271.8 481.0 277.8 474.8 271.6 481.6 265.7 487.4 303.1 467.2 265.6 486.9 265.3 487.0 276.6 477.7 277.6 475.0 268.3 485.7 270.5 482.8 296.2 468.6 302.5 463.9 296.1 467.2 270.3 483.4 271.2 483.4 292.3 472.9 268.7 486.7 271.2 483.1 265.8 488.6 269.8 484.3 270.2 482.5 270.6 481.9 266.4 487.4 268.2 483.6 266.2 488.0 265.0 486.7 268.9 484.6 265.0 489.3 270.6 483.4 293.7 467.4 272.6 480.6 266.7 487.2 271.8 481.3 265.5 488.6 299.1 466.1 273.2 479.3 300.4 469.3 267.6 486.2 267.9 485.9 267.6 485.6 266.4 486.9 271.0 482.0 265.1 486.7 322.7 461.7 267.7 485.6 270.3 483.1 272.3 481.6 265.9 486.9 275.3 478.5 268.2 484.0 274.6 478.8 285.9 469.1 284.9 470.5 267.2 486.7 268.6 485.1 272.7 481.5 266.1 488.4 327.3 465.3 267.4 487.2 265.8 488.9 276.4 477.6 283.4 472.6 276.3 477.1 265.5 486.3 276.5 475.9 274.5 479.0 266.6 487.6 273.5 479.4 268.5 484.9 270.2 482.7 268.6 484.4 269.8 485.0 268.5 484.5 277.6 475.3 265.2 488.5 268.0 484.9 267.4 486.0 277.4 475.6 276.1 477.0 314.9 466.4 265.7 488.1 265.4 489.3 270.0 483.1 271.3 482.2" fill="none" stroke="none" marker-start="url(#m5)" marker-mid="url(#m5)" marker-end="url(#m5)"/>
<path d="M28.6,427.1V491.9H116" fill="none" stroke="#333" stroke-width="0.85"/>
<path d="M26.8,489.2H28.6" stroke="#333" stroke-width="0.6"/>
<text x="26" y="489.2" font-size="5.1" text-anchor="end" font-weight="normal" fill="#454545" dominant-baseline="central">0</text>
<path d="M26.8,474.45H28.6" stroke="#333" stroke-width="0.6"/>
<text x="26" y="474.45" font-size="5.1" text-anchor="end" font-weight="normal" fill="#454545" dominant-baseline="central">25</text>
<path d="M26.8,459.7H28.6" stroke="#333" stroke-width="0.6"/>
<text x="26" y="459.7" font-size="5.1" text-anchor="end" font-weight="normal" fill="#454545" dominant-baseline="central">50</text>
<path d="M26.8,444.95H28.6" stroke="#333" stroke-width="0.6"/>
<text x="26" y="444.95" font-size="5.1" text-anchor="end" font-weight="normal" fill="#454545" dominant-baseline="central">75</text>
<path d="M26.8,430.2H28.6" stroke="#333" stroke-width="0.6"/>
<text x="26" y="430.2" font-size="5.1" text-anchor="end" font-weight="normal" fill="#454545" dominant-baseline="central">100</text>
<path d="M31.4,491.9V493.7" stroke="#333" stroke-width="0.6"/>
<text x="31.4" y="496.8" font-size="5.1" text-anchor="middle" font-weight="normal" fill="#454545" dominant-baseline="central">0</text>
<path d="M48.6,491.9V493.7" stroke="#333" stroke-width="0.6"/>
<text x="48.6" y="496.8" font-size="5.1" text-anchor="middle" font-weight="normal" fill="#454545" dominant-baseline="central">500</text>
<path d="M65.8,491.9V493.7" stroke="#333" stroke-width="0.6"/>
<text x="65.8" y="496.8" font-size="5.1" text-anchor="middle" font-weight="normal" fill="#454545" dominant-baseline="central">1000</text>
<path d="M83,491.9V493.7" stroke="#333" stroke-width="0.6"/>
<text x="83" y="496.8" font-size="5.1" text-anchor="middle" font-weight="normal" fill="#454545" dominant-baseline="central">1500</text>
<path d="M100.2,491.9V493.7" stroke="#333" stroke-width="0.6"/>
<text x="100.2" y="496.8" font-size="5.1" text-anchor="middle" font-weight="normal" fill="#454545" dominant-baseline="central">2000</text>
<text x="72.3" y="504.2" font-size="7.2" text-anchor="middle" font-weight="bold" fill="#000" dominant-baseline="central" stroke="#000" stroke-width="0.22">nFeature_RNA</text>
<text x="0" y="0" transform="translate(10.7,459.5) rotate(-90)" font-size="6.8" text-anchor="middle" font-weight="bold" fill="#000" dominant-baseline="central" stroke="#000" stroke-width="0.22">percent.mt</text>
<path d="M143.8,427.1V491.9H231.5" fill="none" stroke="#333" stroke-width="0.85"/>
<path d="M142,489.2H143.8" stroke="#333" stroke-width="0.6"/>
<text x="141.2" y="489.2" font-size="5.1" text-anchor="end" font-weight="normal" fill="#454545" dominant-baseline="central">0</text>
<path d="M142,474.45H143.8" stroke="#333" stroke-width="0.6"/>
<text x="141.2" y="474.45" font-size="5.1" text-anchor="end" font-weight="normal" fill="#454545" dominant-baseline="central">25</text>
<path d="M142,459.7H143.8" stroke="#333" stroke-width="0.6"/>
<text x="141.2" y="459.7" font-size="5.1" text-anchor="end" font-weight="normal" fill="#454545" dominant-baseline="central">50</text>
<path d="M142,444.95H143.8" stroke="#333" stroke-width="0.6"/>
<text x="141.2" y="444.95" font-size="5.1" text-anchor="end" font-weight="normal" fill="#454545" dominant-baseline="central">75</text>
<path d="M142,430.2H143.8" stroke="#333" stroke-width="0.6"/>
<text x="141.2" y="430.2" font-size="5.1" text-anchor="end" font-weight="normal" fill="#454545" dominant-baseline="central">100</text>
<path d="M146.4,491.9V493.7" stroke="#333" stroke-width="0.6"/>
<text x="146.4" y="496.8" font-size="5.1" text-anchor="middle" font-weight="normal" fill="#454545" dominant-baseline="central">0</text>
<path d="M163.7,491.9V493.7" stroke="#333" stroke-width="0.6"/>
<text x="163.7" y="496.8" font-size="5.1" text-anchor="middle" font-weight="normal" fill="#454545" dominant-baseline="central">500</text>
<path d="M181,491.9V493.7" stroke="#333" stroke-width="0.6"/>
<text x="181" y="496.8" font-size="5.1" text-anchor="middle" font-weight="normal" fill="#454545" dominant-baseline="central">1000</text>
<path d="M198.3,491.9V493.7" stroke="#333" stroke-width="0.6"/>
<text x="198.3" y="496.8" font-size="5.1" text-anchor="middle" font-weight="normal" fill="#454545" dominant-baseline="central">1500</text>
<path d="M215.6,491.9V493.7" stroke="#333" stroke-width="0.6"/>
<text x="215.6" y="496.8" font-size="5.1" text-anchor="middle" font-weight="normal" fill="#454545" dominant-baseline="central">2000</text>
<text x="187.65" y="504.2" font-size="7.2" text-anchor="middle" font-weight="bold" fill="#000" dominant-baseline="central" stroke="#000" stroke-width="0.22">nFeature_RNA</text>
<text x="0" y="0" transform="translate(126.1,459.5) rotate(-90)" font-size="6.8" text-anchor="middle" font-weight="bold" fill="#000" dominant-baseline="central" stroke="#000" stroke-width="0.22">percent.ribo</text>
<path d="M262.3,427.1V491.9H347.2" fill="none" stroke="#333" stroke-width="0.85"/>
<path d="M260.5,489.5H262.3" stroke="#333" stroke-width="0.6"/>
<text x="259.7" y="489.5" font-size="5.1" text-anchor="end" font-weight="normal" fill="#454545" dominant-baseline="central">0</text>
<path d="M260.5,477.64H262.3" stroke="#333" stroke-width="0.6"/>
<text x="259.7" y="477.64" font-size="5.1" text-anchor="end" font-weight="normal" fill="#454545" dominant-baseline="central">1000</text>
<path d="M260.5,465.78H262.3" stroke="#333" stroke-width="0.6"/>
<text x="259.7" y="465.78" font-size="5.1" text-anchor="end" font-weight="normal" fill="#454545" dominant-baseline="central">2000</text>
<path d="M260.5,453.92H262.3" stroke="#333" stroke-width="0.6"/>
<text x="259.7" y="453.92" font-size="5.1" text-anchor="end" font-weight="normal" fill="#454545" dominant-baseline="central">3000</text>
<path d="M260.5,442.06H262.3" stroke="#333" stroke-width="0.6"/>
<text x="259.7" y="442.06" font-size="5.1" text-anchor="end" font-weight="normal" fill="#454545" dominant-baseline="central">4000</text>
<path d="M260.5,430.2H262.3" stroke="#333" stroke-width="0.6"/>
<text x="259.7" y="430.2" font-size="5.1" text-anchor="end" font-weight="normal" fill="#454545" dominant-baseline="central">5000</text>
<path d="M264.4,491.9V493.7" stroke="#333" stroke-width="0.6"/>
<text x="264.4" y="496.8" font-size="5.1" text-anchor="middle" font-weight="normal" fill="#454545" dominant-baseline="central">0</text>
<path d="M295.4,491.9V493.7" stroke="#333" stroke-width="0.6"/>
<text x="295.4" y="496.8" font-size="5.1" text-anchor="middle" font-weight="normal" fill="#454545" dominant-baseline="central">5000</text>
<path d="M326.4,491.9V493.7" stroke="#333" stroke-width="0.6"/>
<text x="326.4" y="496.8" font-size="5.1" text-anchor="middle" font-weight="normal" fill="#454545" dominant-baseline="central">10,000</text>
<text x="304.75" y="504.2" font-size="7.2" text-anchor="middle" font-weight="bold" fill="#000" dominant-baseline="central" stroke="#000" stroke-width="0.22">nCount_RNA</text>
<text x="0" y="0" transform="translate(242,459.5) rotate(-90)" font-size="6.8" text-anchor="middle" font-weight="bold" fill="#000" dominant-baseline="central" stroke="#000" stroke-width="0.22">nFeature_RNA</text>
<rect x="401.7" y="406.41" width="13.2" height="10.49" fill="#4b5a9c"/>
<rect x="414.9" y="413.27" width="13.2" height="3.63" fill="#b4dcaf"/>
<rect x="428.1" y="390" width="13.2" height="26.9" fill="#008000"/>
<rect x="445.9" y="322.35" width="13.2" height="94.55" fill="#4b5a9c"/>
<rect x="459.1" y="379.37" width="13.2" height="37.53" fill="#b4dcaf"/>
<rect x="472.3" y="318.98" width="13.2" height="97.92" fill="#008000"/>
<rect x="490" y="411.39" width="13.2" height="5.51" fill="#4b5a9c"/>
<rect x="503.2" y="409.37" width="13.2" height="7.53" fill="#b4dcaf"/>
<rect x="516.4" y="396.46" width="13.2" height="20.44" fill="#008000"/>
<path d="M395.2,314.4V422.3H536" fill="none" stroke="#333" stroke-width="0.75"/>
<path d="M393.4,416.9H395.2" stroke="#333" stroke-width="0.6"/>
<text x="392.4" y="416.9" font-size="5.3" text-anchor="end" font-weight="normal" fill="#454545" dominant-baseline="central">0</text>
<path d="M393.4,390H395.2" stroke="#333" stroke-width="0.6"/>
<text x="392.4" y="390" font-size="5.3" text-anchor="end" font-weight="normal" fill="#454545" dominant-baseline="central">200</text>
<path d="M393.4,363.1H395.2" stroke="#333" stroke-width="0.6"/>
<text x="392.4" y="363.1" font-size="5.3" text-anchor="end" font-weight="normal" fill="#454545" dominant-baseline="central">400</text>
<path d="M393.4,336.2H395.2" stroke="#333" stroke-width="0.6"/>
<text x="392.4" y="336.2" font-size="5.3" text-anchor="end" font-weight="normal" fill="#454545" dominant-baseline="central">600</text>
<path d="M421.5,422.3V424.1" stroke="#333" stroke-width="0.6"/>
<text x="421.5" y="427" font-size="5.3" text-anchor="middle" font-weight="normal" fill="#454545" dominant-baseline="central">Epithelium</text>
<path d="M465.7,422.3V424.1" stroke="#333" stroke-width="0.6"/>
<text x="465.7" y="427" font-size="5.3" text-anchor="middle" font-weight="normal" fill="#454545" dominant-baseline="central">Gingiva</text>
<path d="M509.8,422.3V424.1" stroke="#333" stroke-width="0.6"/>
<text x="509.8" y="427" font-size="5.3" text-anchor="middle" font-weight="normal" fill="#454545" dominant-baseline="central">PDL</text>
<text x="465.6" y="434.4" font-size="6.5" text-anchor="middle" font-weight="normal" fill="#000" dominant-baseline="central">sample</text>
<text x="0" y="0" transform="translate(378.3,368.4) rotate(-90)" font-size="6.2" text-anchor="middle" font-weight="normal" fill="#000" dominant-baseline="central">frequency</text>
<text x="389.3" y="300.1" font-size="6.7" text-anchor="start" font-weight="normal" fill="#000" dominant-baseline="central">single_cell_info</text>
<rect x="438.7" y="295.6" width="8.8" height="8.8" fill="#4b5a9c"/>
<text x="451.6" y="300" font-size="5.1" text-anchor="start" font-weight="normal" fill="#000" dominant-baseline="central">Doublet</text>
<rect x="474.3" y="295.6" width="8.8" height="8.8" fill="#b4dcaf"/>
<text x="487.3" y="300" font-size="5.1" text-anchor="start" font-weight="normal" fill="#000" dominant-baseline="central">Negative</text>
<rect x="512.3" y="295.6" width="8.8" height="8.8" fill="#008000"/>
<text x="525.3" y="300" font-size="5.1" text-anchor="start" font-weight="normal" fill="#000" dominant-baseline="central">Singlet</text>
<text x="103.5" y="560.8" font-size="7.25" text-anchor="middle" font-weight="bold" fill="#a5162a" dominant-baseline="central" stroke="#a5162a" stroke-width="0.22">Perc. of MT genes vs. № of genes per cell</text>
<text x="280.8" y="560.8" font-size="7.25" text-anchor="middle" font-weight="bold" fill="#a5162a" dominant-baseline="central" stroke="#a5162a" stroke-width="0.22">Perc. of ribo. genes vs. № of genes per cell</text>
<text x="459.5" y="561" font-size="7.25" text-anchor="middle" font-weight="bold" fill="#a5162a" dominant-baseline="central" stroke="#a5162a" stroke-width="0.22">№ of genes per cell vs. № of counts per cell</text>
<circle cx="56.7" cy="575.9" r="1.35" fill="#e04858" fill-opacity="0.75" stroke="#000" stroke-opacity="0.4" stroke-width="0.4"/>
<text x="65.1" y="575.9" font-size="5.95" text-anchor="start" font-weight="normal" fill="#333" dominant-baseline="central">Epithelium</text>
<circle cx="101.2" cy="575.9" r="1.35" fill="#dcd418" fill-opacity="0.75" stroke="#000" stroke-opacity="0.4" stroke-width="0.4"/>
<text x="110.2" y="575.9" font-size="5.95" text-anchor="start" font-weight="normal" fill="#333" dominant-baseline="central">Gingiva</text>
<circle cx="138.6" cy="575.9" r="1.35" fill="#3aaea2" fill-opacity="0.75" stroke="#000" stroke-opacity="0.4" stroke-width="0.4"/>
<text x="147.7" y="575.9" font-size="5.95" text-anchor="start" font-weight="normal" fill="#333" dominant-baseline="central">PDL</text>
<circle cx="233.9" cy="575.9" r="1.35" fill="#e04858" fill-opacity="0.75" stroke="#000" stroke-opacity="0.4" stroke-width="0.4"/>
<text x="242" y="575.9" font-size="5.95" text-anchor="start" font-weight="normal" fill="#333" dominant-baseline="central">Epithelium</text>
<circle cx="278.8" cy="575.9" r="1.35" fill="#dcd418" fill-opacity="0.75" stroke="#000" stroke-opacity="0.4" stroke-width="0.4"/>
<text x="286.8" y="575.9" font-size="5.95" text-anchor="start" font-weight="normal" fill="#333" dominant-baseline="central">Gingiva</text>
<circle cx="316.4" cy="575.9" r="1.35" fill="#3aaea2" fill-opacity="0.75" stroke="#000" stroke-opacity="0.4" stroke-width="0.4"/>
<text x="324.5" y="575.9" font-size="5.95" text-anchor="start" font-weight="normal" fill="#333" dominant-baseline="central">PDL</text>
<circle cx="412.3" cy="575.9" r="1.35" fill="#e04858" fill-opacity="0.75" stroke="#000" stroke-opacity="0.4" stroke-width="0.4"/>
<text x="421" y="575.9" font-size="5.95" text-anchor="start" font-weight="normal" fill="#333" dominant-baseline="central">Epithelium</text>
<circle cx="458.1" cy="575.9" r="1.35" fill="#dcd418" fill-opacity="0.75" stroke="#000" stroke-opacity="0.4" stroke-width="0.4"/>
<text x="465.8" y="575.9" font-size="5.95" text-anchor="start" font-weight="normal" fill="#333" dominant-baseline="central">Gingiva</text>
<circle cx="495.7" cy="575.9" r="1.35" fill="#3aaea2" fill-opacity="0.75" stroke="#000" stroke-opacity="0.4" stroke-width="0.4"/>
<text x="503.8" y="575.9" font-size="5.95" text-anchor="start" font-weight="normal" fill="#333" dominant-baseline="central">PDL</text>
<path d="M29.4,641.57H180" stroke="#e06a7a" stroke-width="0.8" stroke-dasharray="1 1.6" opacity="0.85"/>
<path d="M206.6,625.35H355.8" stroke="#e06a7a" stroke-width="0.8" stroke-dasharray="1 1.6" opacity="0.85"/>
<path d="M386.6,594.8H534.9" stroke="#e06a7a" stroke-width="0.8" stroke-dasharray="1 1.6" opacity="0.85"/>
<path d="M386.6,658.13H534.9" stroke="#e06a7a" stroke-width="0.8" stroke-dasharray="1 1.6" opacity="0.85"/>
<path d="M101.9 657.3 44.4 652.8 39.1 655.2 65.4 652.0 63.6 657.7 65.9 656.2 86.3 657.4 61.4 656.7 56.2 650.8 104.5 656.9 66.8 648.1 59.8 655.6 43.8 655.7 71.8 657.3 107.8 657.3 132.4 656.4 65.8 650.8 36.7 657.0 57.3 656.2 55.1 657.0 55.4 657.0 67.3 653.4 79.0 657.8 69.9 654.3 37.1 657.1 135.2 656.5 61.2 657.2 81.6 657.6 108.1 655.3 89.5 653.6 77.9 656.6 69.6 656.1 58.6 656.8 71.8 657.4 60.8 657.5 76.7 656.5 63.0 657.6 69.2 656.6 112.0 657.1 52.7 657.0 36.7 657.1 66.2 657.1 75.4 656.7 48.3 656.8 64.8 657.2 40.1 656.2 124.1 657.2 68.4 654.6 43.1 651.6 145.2 654.9 84.9 656.0 70.5 655.4 51.5 656.5 42.0 655.6 44.8 655.6 77.9 657.5 109.0 655.3 80.0 654.8 100.6 656.5 48.3 648.9 49.7 655.9 139.2 655.9" fill="none" stroke="none" marker-start="url(#m0)" marker-mid="url(#m0)" marker-end="url(#m0)"/>
<path d="M68.7 652.4 72.2 656.7 63.9 656.0 57.4 656.8 52.6 652.5 129.8 655.9 52.8 654.6 86.7 657.4 68.4 655.5 82.1 656.7 43.6 656.9 36.7 654.2 111.6 654.2" fill="none" stroke="none" marker-start="url(#m0)" marker-mid="url(#m0)" marker-end="url(#m0)"/>
<path d="M62.4 655.4 77.2 653.2 54.1 657.8 58.5 657.3 62.7 656.3 90.9 657.4 40.3 657.3 40.7 656.5 97.1 657.3 60.5 652.2 54.7 657.0 49.7 655.1 58.6 656.5 104.3 657.6 91.5 656.7 36.4 655.8 76.8 656.2 51.9 655.9 91.3 657.4 38.2 655.6 51.4 653.2 100.1 657.0 60.4 657.0 116.7 657.1 103.8 654.4 59.8 657.3 39.8 657.1 42.3 652.8 56.2 653.3 62.8 653.9 121.5 657.3 45.4 645.2 115.2 657.4 59.3 656.4 67.6 657.2 53.6 656.3 49.3 655.4 60.7 655.9 56.3 656.0 126.5 655.8 64.8 657.6 115.0 657.0 38.1 656.3 62.8 656.4 80.4 657.1 65.8 656.1 69.7 653.8 41.9 647.3 49.9 656.0 48.5 656.5 36.8 656.6 111.9 657.1 43.8 653.2 53.9 657.7 129.9 657.7 97.4 657.4 87.1 656.7 113.7 657.7 54.4 651.2 83.9 657.4 135.8 657.7 111.3 657.8 55.9 654.8 36.6 656.5 97.6 657.7 70.7 656.4 88.0 654.9 52.0 653.8 44.6 657.4 102.5 656.7 99.5 657.4 62.3 649.8 103.6 656.9 98.2 653.1 100.7 657.2 60.5 656.2 74.0 657.6 51.8 655.0 131.8 657.3 38.2 654.3 89.7 656.4 135.4 657.5 139.5 656.9 84.1 656.1 90.9 656.4 103.9 655.8 87.8 657.7 63.2 656.9 47.6 657.0 87.2 655.9 93.6 657.7 99.3 656.7 86.9 653.1 56.8 656.6 72.1 656.9 97.0 657.3 46.7 656.3 65.7 657.2 51.0 656.3 65.3 654.8 103.4 657.5 38.2 656.3 173.8 656.7 37.5 656.1 49.0 656.8 47.0 650.2 85.4 655.4 69.3 657.3 54.0 653.7 121.7 656.0 51.7 656.8 70.7 657.7 51.5 653.9 81.9 657.2 45.2 655.1 45.8 655.9 96.8 657.6 75.1 657.5 117.3 657.6 63.0 656.1 140.1 657.4 68.2 655.6 45.6 655.5 97.2 657.5 118.3 656.6 54.8 657.8 93.8 656.8 111.1 657.6 64.6 657.6 85.1 655.5 40.0 655.1 57.7 657.8 85.2 653.0 74.9 656.9 56.4 656.6 77.0 657.7 105.5 657.0 75.0 653.6 126.1 657.1 67.9 657.8 75.8 654.6 51.4 655.8 43.0 656.7 96.4 656.7 55.4 655.6 80.5 655.1 83.6 657.5 46.4 657.3 38.6 643.6 65.0 654.2 66.5 656.9 95.5 656.4 38.0 657.6 36.4 654.0 56.6 655.1 55.9 657.4 44.8 655.9 67.3 657.7 157.0 655.9 45.5 656.7 134.6 657.0 67.1 656.8 57.9 652.5 108.4 657.8 72.0 657.8 69.9 657.7 64.8 656.4 138.5 657.6 63.9 656.1 40.4 656.0 104.7 651.7 56.5 656.3 62.5 657.4 53.6 656.3 40.4 657.3 43.4 657.7 66.2 655.9 70.1 657.0 44.6 653.6 60.1 654.4 89.1 657.2 135.3 655.3 89.7 657.7 133.0 657.3 101.9 656.5 101.9 656.1 62.9 656.8" fill="none" stroke="none" marker-start="url(#m1)" marker-mid="url(#m1)" marker-end="url(#m1)"/>
<path d="M53.7 652.6 41.3 656.0 38.8 655.6 39.5 653.5 66.0 657.4 43.8 656.7 42.1 657.7 92.6 657.5 101.1 657.7 38.0 657.4 99.5 657.7 37.7 654.7 36.4 657.8 43.7 657.5 65.2 656.6 50.8 657.2 39.0 656.2 57.3 657.3 38.9 657.4 37.1 657.4 36.4 656.8 39.5 657.5 58.0 657.6 39.0 657.5 45.1 653.8 40.0 657.7 42.8 655.6 66.0 656.2 38.6 656.6 40.4 657.2 44.1 656.0 37.6 656.9 112.6 657.5" fill="none" stroke="none" marker-start="url(#m2)" marker-mid="url(#m2)" marker-end="url(#m2)"/>
<path d="M66.3 654.6 42.0 657.2 77.7 655.9 129.6 656.9 90.7 655.8 41.5 657.0 68.6 654.1 46.4 655.7 63.7 654.5 59.9 657.1 37.8 650.6 58.8 655.0 72.5 656.5" fill="none" stroke="none" marker-start="url(#m0)" marker-mid="url(#m0)" marker-end="url(#m0)"/>
<path d="M122.6 657.3 129.6 656.7 97.0 657.6 103.9 656.2 37.7 655.3 61.6 657.7 43.2 656.6 49.7 654.6 78.5 656.6 71.6 653.6 129.6 656.7 37.4 657.4 55.6 657.3 36.7 654.6 61.5 657.7 102.6 653.7 53.5 657.2 61.3 657.2 81.4 657.6 68.8 657.5 83.7 655.7 57.0 655.3 62.4 657.6 116.2 657.4 91.7 657.0 69.8 657.7 55.0 654.7 79.8 657.4 78.4 657.7 43.8 656.8 75.2 656.2 104.4 653.8 48.1 654.9 71.9 653.0 71.4 655.6 39.9 657.8 61.5 655.6 120.8 657.7 64.8 655.7 66.8 653.3 110.2 656.0 49.3 656.7 62.7 656.7 76.7 656.4 139.3 656.9 82.0 656.0 62.8 656.6 88.1 653.5 36.3 653.9 87.4 657.1 69.5 655.7 78.6 655.3 61.0 656.9 88.5 654.4 135.6 657.6 107.1 654.9 84.3 656.2 48.2 647.8 103.8 654.8 104.9 653.9 116.4 657.7 46.9 654.2 45.4 655.6 130.6 656.5 86.3 657.8 57.3 652.0 37.3 656.2 135.9 657.6 58.9 657.5 89.7 657.7 70.2 656.7 57.3 655.3 118.1 657.7 120.6 657.5 51.1 654.6 59.0 656.9 77.8 657.3 124.6 656.6 51.3 652.9 70.9 651.6 139.9 657.4 43.7 653.8 103.8 656.0 47.3 656.3 38.5 650.2 77.6 656.3 51.8 656.9 67.6 653.7 80.0 656.0 119.1 656.9 42.8 657.6 75.4 655.4 51.3 654.5 134.4 656.1 132.7 656.7 76.9 654.5 98.2 655.9 95.8 657.2 64.8 655.3 37.5 656.0 138.9 655.1 64.5 656.9 57.8 656.9 89.1 657.4 66.3 657.4 113.7 657.6 105.8 655.8 118.4 657.0 36.3 651.2 55.4 657.3 65.2 657.8 49.2 657.3 55.0 654.0 96.6 657.3 44.4 657.8 36.3 657.3 97.6 657.7 42.3 653.2 111.1 657.2 58.9 657.4 69.5 655.3 139.1 657.0 105.0 657.0 113.4 657.5 131.2 657.1 54.9 656.8 46.3 655.8 40.9 656.9 83.3 657.7 90.8 656.6 61.1 657.2 102.2 657.2 74.8 655.6 50.6 656.0 136.8 657.7 128.9 656.7 58.9 657.6 63.2 657.7 89.0 655.7 71.4 654.8 55.5 656.8 62.5 657.0 129.8 657.5 40.8 656.2 100.5 655.9 51.4 655.8 104.0 656.9 51.1 655.0 51.8 654.2 71.2 656.4 124.6 656.5 45.7 653.7 84.3 656.2 97.5 654.2 70.9 657.1 62.4 657.4 39.1 656.6 121.5 657.4 58.9 656.5 40.2 656.4 36.8 657.4 94.9 655.6 66.0 654.2 77.2 657.5 132.3 657.1 49.6 657.5 126.2 657.7 37.4 654.1 76.2 657.1 44.1 655.1 50.6 656.9 58.5 653.8 90.6 657.6 88.0 656.5 88.9 657.7 102.2 656.6 39.7 656.7 71.1 657.6 41.2 657.3 87.4 657.5 53.1 654.3 79.9 656.1 55.1 656.2 133.9 655.6 101.9 657.7 84.6 656.8 49.5 649.7" fill="none" stroke="none" marker-start="url(#m1)" marker-mid="url(#m1)" marker-end="url(#m1)"/>
<path d="M42.3 656.2 41.3 657.7 43.2 657.5 109.7 657.3 36.8 657.4 37.2 656.5 48.7 654.5 38.1 657.6 39.1 656.9 65.5 657.7 56.9 657.5 100.8 657.2 45.2 652.5 42.2 657.4 43.7 654.8 37.0 653.4 47.1 655.2 38.0 656.0 37.1 657.5 40.8 657.2 42.5 654.6 41.1 657.3 67.3 657.7 43.3 654.0 37.2 657.7 76.6 657.7 41.3 657.4 42.8 654.4 36.6 655.2 42.8 657.8 40.0 657.5 47.3 653.1 76.7 656.2" fill="none" stroke="none" marker-start="url(#m2)" marker-mid="url(#m2)" marker-end="url(#m2)"/>
<path d="M70.9 657.6 53.5 656.6 45.3 657.3 50.2 656.5 51.2 655.8 107.8 656.9 59.4 657.5 64.0 652.9 60.7 652.6 47.5 655.4 47.0 656.8 69.2 651.4 66.1 653.6" fill="none" stroke="none" marker-start="url(#m0)" marker-mid="url(#m0)" marker-end="url(#m0)"/>
<path d="M44.8 651.0 49.2 656.7 52.2 654.8 60.2 657.2 86.1 655.4 65.4 654.8 45.4 651.5 47.2 655.6 61.4 656.8 61.2 657.5 87.7 657.0 61.6 656.5 39.8 656.6 68.8 656.6 105.1 657.6 47.7 657.3 83.0 653.0 74.0 656.3 69.0 657.0 39.9 649.1 60.9 656.7 139.9 657.8 129.7 657.0 95.0 657.6 107.8 656.5 100.2 656.9 111.5 656.0 68.7 652.6 47.2 653.4 99.4 657.4 77.3 655.4 88.6 657.2 48.8 657.3 83.4 657.4 94.8 655.9 72.3 656.8 85.1 654.4 48.3 657.2 67.9 655.0 47.8 657.2 89.1 655.9 135.1 656.7 71.6 655.3 37.9 657.7 54.7 657.6 44.3 645.2 110.9 657.5 73.8 654.5 133.7 657.1 36.7 651.3 99.6 657.6 68.0 652.4 65.7 656.1 129.6 657.6 72.4 657.1 128.4 657.6 59.3 655.8 41.5 652.0 50.7 656.2 45.2 656.1 129.0 657.6 65.0 655.7 38.7 656.5 40.2 656.5 141.0 657.4 115.6 657.7 57.9 657.3 108.5 657.8 57.5 656.6 140.6 655.4 66.1 656.7 60.2 657.1 43.2 656.8 124.2 657.8 41.2 653.7 102.5 657.6 49.5 657.4 80.6 656.4 73.6 656.7 89.3 657.6 104.5 657.3 51.8 655.9 120.3 656.0 89.3 657.5 64.6 657.7 99.7 654.7 77.5 655.8 36.4 657.6 37.4 656.0 137.0 656.2 78.7 655.2 55.3 654.2 71.2 653.8 81.2 657.1 100.3 657.7 119.6 656.8 47.5 656.7 56.6 656.2 76.5 655.7 66.9 652.6 84.5 656.5 41.0 656.3 87.7 656.0 37.6 655.8 52.2 656.8 56.1 655.8 42.3 645.9 101.7 657.7 103.0 657.2 91.1 657.1 71.0 657.4 119.1 657.5 134.6 657.3 51.2 654.0 99.1 656.8 40.0 657.7 139.1 656.3 79.9 656.9 91.9 656.5 78.4 655.1 111.1 656.7 53.8 657.4 73.5 657.5 85.4 656.4 55.0 657.8 139.0 655.1 42.4 656.6 49.8 657.2 104.0 657.8 44.5 651.6 60.3 657.0 91.2 655.9 39.6 656.0 124.6 657.7 67.1 657.7 106.7 655.4 108.5 657.4 117.6 656.3 60.0 657.7 121.3 657.3 132.8 657.8 117.8 656.9 46.5 652.1 120.8 655.7 102.8 657.4 61.5 656.7 94.7 657.7 89.9 657.8 68.7 657.5 111.6 657.6 42.6 657.1 42.5 657.5 58.0 656.8 40.2 655.7 87.5 657.3 101.6 657.7 70.4 655.9 123.9 657.6 63.3 654.0 78.9 656.5 135.2 656.9 85.4 656.4 88.7 655.4 47.4 652.0 47.4 657.0 88.9 657.6 94.4 656.7 42.4 656.8 42.5 654.2 73.0 653.7 43.8 656.8 55.7 656.8 88.8 657.8 55.6 656.4 55.9 653.1 48.5 657.7 75.9 656.8 55.1 656.3 107.8 657.7 102.7 657.7 114.3 655.9 114.6 656.7 127.6 657.4 106.2 653.4 46.2 657.4 80.4 657.6" fill="none" stroke="none" marker-start="url(#m1)" marker-mid="url(#m1)" marker-end="url(#m1)"/>
<path d="M38.7 656.3 39.7 655.4 40.9 655.4 41.5 655.8 103.8 657.5 101.9 657.7 37.0 657.0 37.9 657.0 62.2 657.7 42.2 656.1 40.3 657.1 44.1 654.2 42.7 657.5 38.4 657.6 64.7 655.2 66.1 656.5 78.1 657.5 38.8 656.1 73.6 657.0 75.7 657.6 37.5 656.3 57.2 657.6 39.0 657.3 41.8 657.5 62.0 657.6 44.5 657.2 39.6 652.6 38.2 655.4 47.9 651.4 39.1 657.6 41.4 656.8 72.5 657.6 70.5 656.9" fill="none" stroke="none" marker-start="url(#m2)" marker-mid="url(#m2)" marker-end="url(#m2)"/>
<path d="M60.8 657.5 59.2 655.5 53.6 657.3 76.0 657.4 129.5 655.8 49.8 655.7 55.3 655.7 72.8 656.0 71.1 655.7 42.0 655.4 50.0 655.1 71.2 655.0 41.8 657.2" fill="none" stroke="none" marker-start="url(#m0)" marker-mid="url(#m0)" marker-end="url(#m0)"/>
<path d="M123.9 657.3 93.0 657.3 59.0 656.1 88.2 657.8 47.8 655.9 82.4 657.7 95.3 655.8 66.3 652.7 139.9 656.4 86.0 655.5 72.1 657.2 59.2 657.4 84.4 656.7 135.9 656.6 64.5 657.7 62.5 657.5 114.8 655.3 78.5 654.9 62.2 656.1 63.2 657.6 36.5 656.4 125.7 657.6 61.0 656.6 133.2 656.1 78.7 654.4 61.9 654.4 79.5 656.4 50.6 657.5 69.2 657.3 63.1 657.6 91.3 656.3 56.4 656.7 81.5 653.2 91.7 656.7 117.3 656.0 98.3 657.5 64.9 656.2 62.0 657.1 55.9 657.7 46.4 654.6 77.5 655.9 87.2 656.3 126.4 656.8 131.9 655.8 75.6 657.6 73.4 657.0 99.1 655.9 101.9 657.7 45.6 653.5 64.7 656.4 60.3 657.8 38.6 649.2 41.2 656.4 59.9 653.7 85.8 657.7 61.6 656.4 126.5 657.6 111.3 657.6 98.9 656.5 90.0 654.4 43.7 657.5 72.1 656.6 108.4 657.7 49.8 649.4 54.5 657.1 100.4 657.0 59.5 657.0 61.9 651.1 123.6 657.2 39.6 655.6 36.3 657.3 118.8 657.8 47.3 655.6 41.2 656.5 60.0 654.2 132.4 657.6 52.6 655.8 56.8 656.9 106.2 657.4 66.7 657.1 65.6 657.0 44.5 657.4 66.0 657.4 60.3 657.2 58.0 657.5 68.5 656.7 60.7 655.2 62.1 657.8 38.1 657.8 78.4 657.0 47.5 657.5 97.7 656.7 91.4 657.0 60.7 656.3 65.0 655.9 88.4 654.6 57.6 656.8 76.7 657.2 58.8 656.6 77.7 657.3 69.0 656.2 109.4 656.8 38.4 656.6 66.5 657.0 67.1 657.0 40.6 652.5 84.5 656.8 125.7 657.4 43.0 657.3 77.6 657.6 104.2 657.8 87.0 655.6 106.4 656.7 63.8 656.5 87.7 657.7 110.3 657.5 116.9 655.8 88.6 657.4 88.9 656.1 49.5 657.8 92.1 657.6 116.4 655.5 101.4 656.8 72.3 657.1 36.7 655.5 120.3 655.4 72.8 656.0 87.9 656.5 39.9 643.2 71.3 656.6 100.3 655.2 48.5 653.1 86.8 654.9 112.6 657.4 127.7 657.4 96.9 656.0 74.9 657.6 79.3 655.8 76.7 656.4 52.6 657.4 129.5 656.5 120.2 656.5 42.9 655.7 93.7 657.6 75.2 657.1 83.6 657.5 56.6 657.8 45.3 652.9 103.9 657.4 69.3 656.5 95.1 655.7 81.7 657.3 55.4 657.2 59.3 657.1 69.6 655.9 39.7 647.6 41.7 651.9 133.9 655.8 50.6 655.4 37.0 657.4 137.7 655.8 115.9 655.4 66.0 657.5 44.1 657.4 82.4 657.7 39.6 657.7 68.0 656.7 65.2 657.8 84.3 655.4 57.7 655.4 91.5 655.2 37.3 656.1 117.8 657.2 106.0 656.0 47.3 649.1 82.3 655.8 130.8 657.5 94.2 657.4 78.6 657.2 113.6 656.5 43.2 657.4 84.4 654.7 72.0 656.7 58.9 649.9 53.8 657.6 88.7 656.4" fill="none" stroke="none" marker-start="url(#m1)" marker-mid="url(#m1)" marker-end="url(#m1)"/>
<path d="M55.5 651.3 84.5 656.4 90.4 657.2 39.9 657.7 36.5 657.4 37.9 657.0 43.8 656.9 38.8 652.6 41.6 657.2 42.5 652.5 44.4 657.8 40.4 655.2 89.7 655.6 44.7 655.6 55.7 657.3 91.5 657.5 43.7 657.5 96.5 656.6 40.0 657.1 43.3 654.5 58.6 657.5 37.4 656.5 36.4 653.8 102.8 657.7 39.0 650.0 43.0 656.9 91.7 657.5 53.5 657.3 37.0 656.9 74.3 657.5 58.9 656.4 37.9 657.1 61.2 657.1" fill="none" stroke="none" marker-start="url(#m2)" marker-mid="url(#m2)" marker-end="url(#m2)"/>
<path d="M216.4 656.6 228.3 636.2 312.4 643.7 266.8 635.3 248.0 646.0 238.7 633.5 237.7 638.7 225.7 653.1 240.7 629.6 243.6 626.1 224.5 644.3 248.8 637.4 245.5 635.7 248.2 641.3 318.5 645.4 242.6 625.5 238.5 636.2 233.0 626.3 242.0 641.3 234.0 630.2 294.4 647.8 249.6 636.3 225.8 643.7 233.4 625.6 230.5 633.2 230.0 638.4 293.4 633.6 246.1 627.2 235.2 631.8 308.7 642.7 238.4 635.9 230.0 636.4 246.2 636.3 223.1 652.8 243.0 628.2 245.8 638.5 257.2 645.6 238.6 633.1 253.7 632.7 254.7 636.5 258.5 640.8 239.5 633.0 235.8 630.2 244.5 634.4 244.8 627.9 229.5 634.4 240.4 638.2 254.8 634.0 251.0 633.7 233.4 634.3 227.7 634.7 231.9 638.5 226.4 652.9 223.8 644.3 227.7 634.8 321.7 641.9 250.7 629.2 263.8 648.3 241.0 638.4 230.7 628.1 234.1 645.5 313.4 633.9 243.4 629.8 246.8 633.7 236.1 634.1 225.5 651.5 238.6 633.8 249.0 642.7 214.5 653.6 219.0 652.5 301.3 639.5 226.7 651.7 260.4 648.4 235.2 631.6 227.6 634.1 287.8 633.7 241.9 639.0 278.0 645.6 233.5 644.5" fill="none" stroke="none" marker-start="url(#m0)" marker-mid="url(#m0)" marker-end="url(#m0)"/>
<path d="M225.2 645.7 239.9 642.6 264.0 653.3 238.2 644.5 314.4 651.8 242.5 632.4 255.5 637.1 238.0 647.9 252.8 636.5 252.5 637.4 256.3 641.9 237.0 636.0 238.4 632.8 242.1 635.8 214.5 645.8 250.0 630.1 230.9 632.9" fill="none" stroke="none" marker-start="url(#m0)" marker-mid="url(#m0)" marker-end="url(#m0)"/>
<path d="M232.9 650.4 299.5 644.4 237.1 645.0 240.0 630.8 270.4 646.7 227.5 633.6 254.6 629.2 253.5 646.7 251.9 631.6 244.9 647.9 265.4 627.7 285.7 643.2 226.8 645.7 226.6 647.1 247.0 635.6 223.8 637.1 218.2 649.2 249.2 647.8 271.7 650.2 229.6 627.9 250.9 636.0 229.2 639.3 251.7 632.7 252.4 635.8 238.3 629.8 330.6 640.3 273.8 649.5 253.1 631.9 225.9 642.0 270.8 638.7 257.4 656.5 242.4 628.4 224.1 628.6 263.3 636.1 303.2 647.9 232.4 652.4 305.0 645.3 239.6 640.0 221.4 629.4 235.6 634.0 249.1 656.1 230.3 626.2 241.7 631.2 232.5 636.6 229.4 628.1 223.3 626.7 247.8 652.0 226.8 630.9 231.0 648.8 228.2 631.1 247.7 632.1 243.0 654.9 276.7 656.6 262.3 652.0 255.2 625.8 237.1 626.5 264.1 636.4 262.9 652.7 254.6 629.9 312.8 642.4 237.1 648.2 215.9 651.7 236.3 626.5 278.3 650.1 245.1 627.4 235.9 642.7 306.7 644.2 262.7 633.7 217.7 632.0 316.3 640.9 257.7 647.4 307.4 638.9 254.7 645.5 233.9 627.2 268.3 640.9 229.2 647.0 238.5 634.2 232.2 639.1 226.6 656.0 239.1 634.7 311.1 639.4 253.7 641.0 267.8 637.8 240.1 629.5 234.5 630.7 272.4 647.8 236.1 654.7 235.4 634.5 243.6 630.9 263.9 636.9 243.6 626.1 225.1 654.7 301.4 647.7 240.4 636.4 242.2 650.7 241.4 649.0 256.2 639.3 224.1 636.6 241.1 633.0 232.8 657.2 283.4 654.6 254.3 629.1 267.2 631.7 224.7 652.2 288.9 645.0 243.8 642.3 259.6 643.1 261.7 644.3 244.8 629.5 221.0 649.6 253.8 647.0 229.6 635.6 268.1 656.2 287.4 657.1 232.8 640.2 255.6 630.6 226.2 646.4 240.6 636.9 281.0 650.9 260.8 625.8 230.3 633.1 251.1 626.8 267.7 627.3 236.4 638.3 263.3 634.5 263.1 637.3 258.8 652.3 224.3 639.0 218.4 654.8 250.7 635.3 240.5 633.6 224.3 636.6 272.4 645.4 281.0 643.7 293.6 638.3 266.4 655.1 262.5 649.4 243.0 629.8 259.6 655.1 255.7 640.4 254.7 636.0 264.2 649.2 244.1 650.1 250.1 642.9 271.0 651.1 237.3 636.7 286.2 644.0 248.3 633.9 241.2 625.9 248.2 639.7 280.2 651.2 301.2 642.1 258.4 640.7 261.2 629.2 267.1 639.4 233.1 652.1 275.0 651.2 242.8 656.7 247.7 636.6 273.1 654.2 247.6 626.1 275.1 646.2 243.3 639.6 253.1 635.2 284.6 648.9 252.9 652.3 267.5 643.6 251.2 632.6 234.8 628.0 279.4 644.7 310.1 647.4" fill="none" stroke="none" marker-start="url(#m1)" marker-mid="url(#m1)" marker-end="url(#m1)"/>
<path d="M280.9 638.2 216.5 630.6 248.7 642.2 216.6 637.0 214.8 640.5 218.8 635.4 216.0 628.4 218.1 627.6 246.2 647.6 214.9 638.5 217.5 633.4 214.1 626.9 217.5 632.7 215.5 637.3 215.7 639.8 288.7 630.5 243.8 630.5 218.2 635.9 218.9 630.2 247.0 636.5 247.5 632.9 216.4 632.5 250.7 643.2 214.8 630.7 213.8 635.6 214.8 634.1 283.0 629.9 218.6 629.0 217.0 631.6 218.9 642.2 216.1 638.6 279.3 631.3 216.0 629.4 214.0 634.8 213.7 638.4 214.3 632.9 215.7 626.9 218.5 630.6 218.3 625.5" fill="none" stroke="none" marker-start="url(#m2)" marker-mid="url(#m2)" marker-end="url(#m2)"/>
<path d="M253.9 635.9 257.8 652.1 254.1 635.4 228.4 654.4 229.2 636.7 219.2 648.3 229.8 632.3 236.0 630.4 235.8 634.1 223.2 652.3 217.6 655.8 226.5 636.0 307.8 654.4 232.3 634.5 310.6 631.5 242.6 627.7 257.1 629.1" fill="none" stroke="none" marker-start="url(#m0)" marker-mid="url(#m0)" marker-end="url(#m0)"/>
<path d="M214.2 653.6 247.7 629.2 312.0 639.8 227.2 655.9 236.3 633.7 261.6 652.9 283.4 633.1 226.4 651.1 218.3 636.0 301.7 638.8 247.5 643.9 286.4 648.8 294.5 644.1 222.7 639.8 285.6 648.7 215.4 654.8 249.4 633.8 274.1 650.5 287.5 648.8 312.5 642.4 282.9 634.8 239.6 656.6 217.5 633.3 264.5 643.4 274.4 643.7 230.9 652.1 265.3 645.3 241.0 654.2 250.3 632.9 267.6 644.5 290.9 635.0 250.3 636.5 305.2 639.3 228.0 635.0 228.9 638.5 285.6 650.6 228.5 654.1 221.5 642.7 249.2 657.3 265.9 657.3 239.5 636.2 222.7 657.3 225.1 629.0 238.0 642.5 243.0 633.1 221.9 628.8 219.8 639.7 245.1 630.1 247.7 634.1 241.4 636.1 226.0 632.7 252.8 632.7 264.0 640.4 247.4 634.9 237.2 652.5 289.0 656.7 252.9 628.2 220.3 634.6 228.2 636.0 252.9 644.7 245.4 647.1 263.8 631.7 238.9 635.4 246.9 639.1 260.6 643.8 238.4 626.3 261.0 636.0 229.5 640.4 276.1 639.4 299.8 644.8 265.4 630.0 224.4 639.6 229.2 631.0 234.4 648.7 223.6 636.4 264.8 637.2 276.7 656.6 225.2 625.8 227.5 644.5 272.4 649.1 229.7 656.6 299.0 644.9 288.4 653.3 237.3 625.6 224.2 626.8 271.1 643.3 283.1 655.0 231.5 648.6 233.3 639.6 220.5 650.6 225.5 635.8 255.1 628.4 255.2 634.5 229.3 646.1 311.2 642.4 276.1 632.2 225.4 639.5 248.0 654.4 276.9 633.4 248.2 637.7 237.2 629.4 228.7 651.0 276.6 639.9 229.0 649.4 218.3 644.2 251.2 631.7 230.3 647.8 235.8 650.4 224.4 656.8 222.3 638.2 238.7 655.2 313.3 642.5 224.5 631.0 298.1 645.9 223.3 654.9 254.5 635.0 268.1 644.2 246.6 633.8 219.2 627.1 230.0 652.5 299.6 644.3 244.2 643.7 271.9 634.5 260.3 653.3 286.5 644.5 288.7 654.0 221.2 631.9 243.3 657.4 231.2 652.2 249.7 634.8 277.9 644.2 245.5 646.0 247.2 630.9 247.1 657.8 217.8 635.7 272.5 649.8 246.9 629.6 309.3 643.2 272.3 647.9 288.7 639.6 304.5 638.3 281.5 647.6 256.4 636.6 259.3 649.1 233.0 626.4 232.8 656.2 255.1 643.8 239.7 627.3 250.9 656.1 307.6 646.3 347.8 639.6 250.2 637.6 223.8 625.5 242.2 630.6 278.1 644.4 235.8 647.0 266.4 639.0 253.8 627.6 286.8 643.1 233.7 637.8 263.9 644.3 224.1 654.4 235.3 634.3 248.9 655.4 257.2 657.5 244.0 639.2 281.1 657.1 218.6 631.1 228.3 657.2 223.4 639.9 267.2 643.2" fill="none" stroke="none" marker-start="url(#m1)" marker-mid="url(#m1)" marker-end="url(#m1)"/>
<path d="M215.1 630.6 245.7 631.7 217.1 628.1 219.0 640.9 218.2 633.1 215.4 636.7 216.0 642.2 252.9 634.5 215.3 629.7 219.2 638.7 216.2 638.6 215.2 629.5 277.4 643.8 214.0 627.4 219.7 635.9 222.7 631.6 215.8 631.8 227.0 646.9 217.9 638.7 256.5 638.2 216.0 642.2 246.9 643.2 242.0 645.9 213.8 630.7 283.2 630.8 216.3 629.5 217.5 642.0 224.1 631.2 215.0 631.6 217.3 641.8 219.1 638.0 214.0 634.7 221.1 641.8 240.6 642.9 215.0 625.8 218.5 634.4 216.8 629.0 279.5 636.9 219.4 653.9" fill="none" stroke="none" marker-start="url(#m2)" marker-mid="url(#m2)" marker-end="url(#m2)"/>
<path d="M252.7 639.6 218.8 654.5 218.6 657.2 230.2 649.3 235.5 632.2 248.4 634.3 214.4 652.5 225.4 644.9 248.4 626.8 229.4 640.5 294.1 640.5 229.9 632.3 242.0 634.9 232.0 629.5 246.1 640.1 232.1 638.2" fill="none" stroke="none" marker-start="url(#m0)" marker-mid="url(#m0)" marker-end="url(#m0)"/>
<path d="M271.8 628.6 255.8 637.8 261.4 643.8 231.9 639.8 217.3 633.7 263.8 631.1 225.4 641.7 243.0 626.8 252.4 636.6 243.2 643.8 308.9 640.8 272.6 643.3 239.9 651.0 315.9 643.9 300.9 638.3 254.9 629.5 222.4 637.8 300.0 646.2 224.5 630.4 282.1 655.6 288.8 657.0 220.4 629.8 221.9 626.5 227.8 626.2 252.4 645.7 258.3 635.5 234.2 646.5 265.3 651.0 280.5 643.0 247.0 653.8 225.9 642.6 253.4 640.9 231.2 626.0 271.8 641.7 265.3 638.1 221.3 640.4 300.8 641.2 265.3 635.1 235.6 636.0 285.2 656.7 235.5 652.9 232.3 625.9 245.6 635.9 252.8 657.5 272.0 631.8 225.6 639.3 219.8 647.9 247.3 629.4 246.3 655.2 232.8 644.7 246.0 636.9 316.7 642.8 309.8 646.3 224.6 652.9 255.9 640.7 293.3 645.4 239.4 627.0 252.6 626.7 229.2 649.0 259.3 643.1 247.9 628.3 286.8 646.0 216.6 652.9 283.5 652.9 243.3 650.3 269.0 631.2 250.5 635.9 285.7 634.7 270.1 630.5 229.6 636.9 264.2 638.1 303.9 646.9 237.1 652.0 224.9 629.1 233.8 625.8 217.2 656.8 220.7 639.0 264.3 642.3 237.6 630.3 281.8 641.4 234.5 627.8 283.0 642.9 251.5 653.5 259.8 626.3 231.1 635.9 264.9 646.5 242.4 626.1 266.0 644.3 218.5 638.0 309.1 645.1 246.6 636.5 228.0 645.0 234.9 627.7 306.9 642.8 246.1 637.6 263.6 632.1 226.8 634.6 241.0 656.5 254.8 639.8 233.1 629.0 271.5 634.8 279.7 654.9 238.0 656.5 230.9 641.3 303.9 644.4 313.9 640.8 288.5 650.6 260.1 627.3 222.0 634.7 283.2 655.3 279.9 650.6 247.6 632.5 242.3 647.9 226.0 639.5 243.8 655.3 266.1 634.7 280.0 649.9 247.1 634.7 226.3 633.2 236.4 625.4 225.8 647.0 262.8 654.5 253.7 636.2 231.1 632.5 241.7 629.3 256.6 630.5 217.5 635.1 260.7 656.0 226.3 628.6 232.8 639.8 257.7 644.1 269.9 634.7 230.4 629.8 260.1 657.1 238.1 640.2 242.4 639.8 282.0 657.3 238.7 626.3 230.2 647.6 313.0 645.8 223.2 651.6 241.3 629.1 262.1 650.6 220.2 638.8 242.9 634.0 236.9 656.4 281.9 641.0 280.5 648.8 246.3 654.0 219.2 638.8 234.3 633.2 221.1 636.3 243.1 649.4 244.7 639.2 265.3 634.9 278.4 647.8 269.8 650.2 257.9 647.7 219.7 625.4 220.3 646.2 221.5 651.7 251.3 640.8 245.5 633.7 246.5 654.7 291.7 645.4 218.8 629.9 215.6 652.7 306.9 639.2 237.9 629.3 275.7 645.0" fill="none" stroke="none" marker-start="url(#m1)" marker-mid="url(#m1)" marker-end="url(#m1)"/>
<path d="M242.9 645.6 248.6 640.0 223.7 636.9 226.1 641.7 214.1 634.3 217.8 639.0 215.4 637.8 247.3 633.5 214.2 626.9 238.7 629.9 243.6 649.6 274.3 649.5 275.3 636.4 213.8 632.5 215.6 638.3 217.5 628.7 217.3 629.9 218.8 628.9 217.1 641.3 232.3 644.4 218.3 637.5 214.6 635.9 242.0 630.1 281.4 635.2 214.6 632.5 218.0 635.5 240.2 647.0 215.8 633.8 281.7 631.2 216.3 628.9 218.4 635.4 223.8 636.2 217.1 641.0 216.3 626.8 213.7 635.4 223.0 652.6 218.4 640.8 219.0 636.0 240.6 637.2" fill="none" stroke="none" marker-start="url(#m2)" marker-mid="url(#m2)" marker-end="url(#m2)"/>
<path d="M223.8 657.7 253.7 636.3 217.6 644.7 239.5 638.1 239.6 638.5 223.9 629.9 243.2 631.6 233.5 649.7 214.8 644.9 246.8 638.5 253.2 629.9 228.6 635.1 228.2 649.9 219.6 647.9 243.5 637.3 232.9 630.3" fill="none" stroke="none" marker-start="url(#m0)" marker-mid="url(#m0)" marker-end="url(#m0)"/>
<path d="M239.8 627.4 247.7 655.3 236.3 631.9 243.1 647.8 266.2 649.1 254.9 652.4 221.9 639.4 227.1 640.5 225.6 649.8 264.7 636.2 267.5 647.6 226.4 630.1 240.3 629.0 281.7 648.6 218.1 637.7 229.8 631.0 245.2 628.1 261.1 653.7 252.4 655.3 239.9 650.5 232.3 647.3 232.5 625.6 267.2 629.4 244.8 625.5 246.9 627.0 226.9 628.8 224.1 635.1 243.4 632.7 254.1 631.9 237.4 651.3 266.2 652.5 286.7 641.9 268.6 646.0 258.0 628.6 246.1 625.4 216.9 655.6 286.2 654.2 279.3 635.9 252.7 631.1 218.8 640.0 248.5 636.8 292.5 642.1 228.2 637.5 263.1 644.0 242.1 645.9 263.5 633.7 218.9 633.9 223.6 627.2 311.9 642.8 286.0 645.2 218.5 645.7 265.0 642.4 240.8 627.3 258.2 642.7 222.8 640.0 222.3 633.0 276.7 651.4 262.5 641.2 216.0 652.5 225.9 648.9 263.1 636.9 243.8 629.0 274.3 652.5 265.2 647.1 231.8 653.4 251.8 627.2 225.1 643.2 218.2 637.7 219.7 634.4 214.7 644.4 217.5 629.1 227.8 638.9 249.2 626.5 219.1 631.3 247.5 640.3 245.1 642.0 250.7 654.9 232.5 632.7 309.2 642.5 256.5 645.6 259.3 651.6 286.7 644.9 242.8 639.5 221.8 636.1 241.0 651.2 249.4 640.6 231.1 626.9 249.9 644.6 270.8 637.5 260.5 656.5 284.8 642.0 245.5 633.9 223.3 630.5 241.4 637.2 250.4 638.1 268.2 631.3 233.8 651.7 222.6 632.3 269.4 643.2 249.5 657.6 259.4 628.3 241.2 626.4 245.2 628.3 255.8 639.2 288.7 637.8 224.0 627.8 315.8 643.7 222.9 644.1 237.0 640.2 239.9 627.0 239.8 636.5 242.1 650.9 245.3 626.2 296.6 638.9 278.6 633.9 230.5 627.4 242.6 626.9 228.0 627.5 289.1 636.5 311.1 641.8 251.3 630.0 259.1 647.3 232.7 640.4 245.6 632.9 242.9 633.1 281.0 639.7 216.8 650.9 236.6 643.2 217.8 634.6 285.3 634.9 232.7 638.7 291.7 641.6 247.2 643.7 224.5 637.6 272.1 643.5 246.7 636.8 285.8 645.7 238.0 634.6 237.5 628.5 242.4 631.9 283.9 650.3 232.4 631.0 283.2 649.8 244.9 653.4 234.2 649.4 283.4 648.7 268.9 653.5 215.8 643.7 228.9 626.7 242.5 627.6 292.6 649.3 295.7 645.4 239.2 640.5 285.5 645.0 260.8 652.7 232.3 628.3 271.8 637.7 243.3 632.0 294.3 646.7 243.8 630.5 299.6 641.6 270.3 656.3 274.0 633.5 226.3 640.5 242.2 652.9 241.9 627.2 225.5 629.8 276.9 657.3 255.1 643.7 224.1 628.6" fill="none" stroke="none" marker-start="url(#m1)" marker-mid="url(#m1)" marker-end="url(#m1)"/>
<path d="M215.2 638.8 215.8 633.2 217.4 635.8 215.1 639.8 248.4 639.4 222.2 630.8 262.9 635.9 217.5 634.0 217.3 636.6 216.8 633.4 214.6 625.4 214.7 636.1 218.9 626.3 216.4 640.1 217.9 631.6 218.8 638.8 248.3 632.3 216.8 633.2 232.1 632.9 216.7 633.4 214.9 634.1 214.8 641.9 228.6 637.2 269.9 629.8 214.0 632.3 215.6 630.0 275.7 638.9 214.0 641.8 215.6 633.0 217.8 634.6 227.0 643.1 215.7 635.0 248.4 644.9 219.6 632.4 216.7 627.3 215.8 632.0 217.3 641.3 221.2 655.2 216.5 638.8" fill="none" stroke="none" marker-start="url(#m2)" marker-mid="url(#m2)" marker-end="url(#m2)"/>
<path d="M392.6 656.0 405.1 640.5 425.8 625.0 402.8 642.3 397.5 647.5 394.7 653.2 406.0 641.6 427.7 617.6 421.6 618.8 392.7 655.7 397.1 647.7 393.4 654.3 414.3 624.9 398.3 642.5 399.3 646.4 410.3 636.4 395.7 648.5 401.2 642.8 404.5 642.5 408.6 633.8 404.3 638.4 406.7 637.7 394.3 651.6 404.6 641.1 393.9 653.2 392.9 654.9 432.6 616.3 456.0 608.1 403.7 638.8 397.0 649.4 392.3 656.5 397.4 645.7 396.3 651.0 405.5 633.5 397.6 648.8 409.7 637.5 394.4 651.9 400.9 641.8 408.5 635.2 395.3 651.7 398.3 643.6 414.0 636.7 423.6 621.0 418.2 627.6 403.5 641.0 396.3 650.5 398.9 645.9 399.1 644.5 400.9 645.9 394.5 652.1 396.8 649.6 395.4 652.0 397.5 651.0 454.8 606.2 396.1 650.7 401.1 644.0 412.1 627.7 397.0 646.8 403.9 647.4 458.3 606.2 397.0 646.8 404.3 642.7 446.3 613.4 418.1 625.3 394.5 651.3 418.4 629.6 398.4 643.3 421.9 626.2 401.4 644.2 411.6 631.6 396.8 648.6 394.3 652.9 399.2 645.6 395.8 653.0 397.3 645.6 404.4 642.4 423.3 632.1 440.4 613.1 400.6 642.7 409.4 632.4 404.3 638.3 392.3 657.3 394.1 649.7 406.3 633.5 429.9 622.1 401.0 644.7 393.2 654.4 395.7 649.8 404.1 643.9 464.0 604.8 394.7 650.6 398.6 645.1 424.2 624.7 394.4 651.9 395.0 648.8" fill="none" stroke="none" marker-start="url(#m0)" marker-mid="url(#m0)" marker-end="url(#m0)"/>
<path d="M411.9 635.1 395.5 651.4 410.1 634.4 401.6 643.5 398.9 648.0 404.1 645.8 413.4 630.4 392.9 656.2 402.0 642.8 447.0 611.2 406.9 639.2 395.9 650.8 410.7 631.8 402.4 641.4 419.1 629.5 399.6 643.1 422.6 624.9 394.1 654.2 429.0 615.2 399.9 648.1" fill="none" stroke="none" marker-start="url(#m0)" marker-mid="url(#m0)" marker-end="url(#m0)"/>
<path d="M399.1 647.5 395.2 649.3 407.7 638.9 392.6 657.0 406.0 636.2 436.4 622.8 444.3 609.6 403.3 645.4 398.0 648.4 414.4 639.0 445.5 625.4 393.8 653.9 421.4 630.5 433.2 620.3 402.5 645.9 400.6 644.4 433.9 629.7 401.1 642.7 405.9 638.5 402.0 644.2 412.5 636.0 499.4 622.8 411.1 638.2 410.0 621.2 403.3 643.0 404.8 641.2 401.4 638.8 411.2 641.8 403.0 640.6 398.2 646.8 404.2 639.6 399.4 648.2 401.8 640.8 403.9 643.6 407.8 640.1 418.5 636.9 394.7 650.7 456.9 634.3 392.2 657.0 398.4 647.5 443.2 627.1 402.9 643.5 396.6 652.3 404.3 640.7 402.4 639.0 400.6 645.6 404.5 641.0 396.7 648.2 412.3 633.3 395.4 649.2 396.8 648.1 398.0 649.3 393.9 651.2 392.3 656.7 408.9 654.1 400.6 647.0 398.0 647.2 399.8 643.8 401.3 648.0 409.0 637.6 410.3 636.9 403.7 639.4 393.2 654.3 400.4 642.0 404.0 636.6 395.2 651.2 392.3 656.2 402.2 636.4 398.0 644.5 466.6 642.4 415.9 635.7 401.9 645.8 401.4 640.1 393.2 655.3 416.7 629.7 402.6 644.4 404.8 642.0 435.6 631.0 404.5 643.1 407.1 634.8 411.3 640.1 406.5 639.4 394.1 653.9 397.8 648.1 404.4 637.6 393.9 655.5 421.0 634.0 397.9 651.3 418.6 628.7 412.1 623.1 433.5 630.4 407.0 641.7 400.5 636.8 409.8 636.3 409.5 639.4 405.6 637.3 421.3 631.8 398.7 646.2 409.0 636.1 403.4 638.8 400.0 645.0 450.9 611.2 409.9 633.1 410.2 634.8 404.2 642.6 405.3 637.7 405.0 636.3 403.4 643.2 449.8 630.9 397.1 647.0 417.0 630.7 409.9 638.3 397.9 646.8 399.8 645.1 396.0 652.5 412.2 639.4 401.7 644.5 456.9 634.8 432.3 619.3 401.0 641.3 408.0 639.5 399.4 640.0 406.0 639.8 412.2 640.8 421.7 634.0 392.7 655.8 410.1 641.1 400.6 643.8 425.7 631.6 395.2 653.0 410.5 642.2 398.8 645.9 406.9 634.0 399.3 641.1 396.3 652.3 423.2 629.7 395.0 650.9 420.0 638.4 405.8 639.4 396.0 650.6 412.0 640.6 393.9 656.1 412.9 639.0 401.2 645.1 409.1 638.8 398.4 647.2 416.5 634.3 410.4 639.8 405.4 646.4 400.5 640.9 416.1 629.1 401.6 646.3 405.1 639.1 392.1 657.0 402.8 643.5 400.8 649.7 398.2 647.2 409.9 634.6 404.2 641.5 414.9 633.7 402.7 642.6 412.4 639.2 400.4 645.1 403.4 637.6 405.5 644.4 401.7 640.8 407.6 640.0 397.3 648.0 400.7 641.9 410.0 636.5 413.2 633.4 404.9 636.8 418.2 635.1 402.8 642.9 398.7 646.9 393.1 656.8 397.6 647.6 408.1 636.6 396.0 647.4 400.3 647.4 400.6 644.9 397.4 649.2 396.3 650.9 401.8 643.7 407.4 639.5 411.2 637.6 394.6 652.7 410.9 633.5 400.9 646.1 410.6 639.0 431.9 618.0 406.5 640.0 394.9 650.4 408.0 637.8 408.3 636.3 402.4 640.8 413.7 635.6 398.1 648.3 424.2 628.2 441.7 627.6 392.7 656.7 394.2 651.0 396.1 650.3 400.2 646.0 415.0 630.7 392.8 655.3 400.4 645.5 405.3 637.9 405.9 639.9 393.6 654.4 395.1 652.5 400.7 645.7 417.5 628.2 395.1 651.9 400.4 645.7 392.6 655.2 412.7 641.0 393.6 654.3 405.5 639.4 411.6 633.9 403.9 640.4 420.7 631.6 417.9 636.0 409.7 635.2 416.0 635.1 455.7 626.2 400.2 643.9 476.1 641.0 401.6 643.2 392.8 656.6 413.3 633.1 401.1 640.6 394.7 652.7 430.6 636.1 396.7 651.4 447.6 615.2 397.1 647.5 401.3 643.2 396.1 651.6 400.1 643.3 392.4 656.9 401.6 644.5 432.2 629.0" fill="none" stroke="none" marker-start="url(#m1)" marker-mid="url(#m1)" marker-end="url(#m1)"/>
<path d="M395.8 652.1 409.0 639.2 398.1 645.5 397.0 650.0 396.6 649.6 396.2 651.8 394.4 654.5 423.3 629.7 413.0 627.7 393.2 656.3 394.9 652.4 398.6 646.0 394.1 652.5 398.8 644.8 400.8 641.1 427.3 628.5 416.9 626.7 399.7 643.2 398.3 647.7 396.3 650.5 412.4 627.9 411.0 632.6 403.6 640.2 398.6 645.3 394.3 654.2" fill="none" stroke="none" marker-start="url(#m2)" marker-mid="url(#m2)" marker-end="url(#m2)"/>
<path d="M422.5 615.8 399.4 645.9 415.5 629.1 408.1 635.6 404.2 637.1 401.1 644.7 393.7 653.0 404.2 636.1 396.1 647.8 410.3 639.6 398.3 648.2 413.4 627.6 401.1 644.9 502.5 640.6 406.8 643.7 393.8 653.9 413.4 628.0 400.9 643.5 403.3 642.2 414.6 621.2" fill="none" stroke="none" marker-start="url(#m0)" marker-mid="url(#m0)" marker-end="url(#m0)"/>
<path d="M409.0 639.1 397.6 648.2 410.1 641.6 398.2 649.5 418.3 632.5 414.9 639.9 403.8 643.0 410.4 636.8 411.9 632.8 396.4 649.4 398.0 641.7 411.9 636.7 400.0 642.9 421.1 632.8 394.1 653.2 511.8 628.5 414.9 651.2 403.0 647.3 409.2 638.7 404.8 647.4 396.3 650.0 397.4 648.2 446.1 624.3 402.9 635.1 405.5 634.5 443.3 631.2 403.2 643.5 403.4 642.1 404.5 640.2 397.3 651.2 407.4 654.3 404.2 643.4 415.1 629.1 402.0 641.4 450.2 624.4 404.0 636.3 398.5 646.3 406.1 642.2 400.3 644.8 402.4 643.4 404.7 643.4 408.2 637.2 409.7 637.0 392.6 656.4 401.6 643.4 406.9 637.8 413.4 635.6 415.9 638.2 394.0 654.3 403.6 641.7 421.1 626.1 413.8 637.6 405.5 636.5 394.9 653.5 393.8 656.1 411.4 638.1 397.3 645.7 430.5 630.6 411.6 639.9 392.8 655.7 400.7 642.2 399.4 647.2 413.5 633.4 409.5 640.4 414.8 633.3 399.4 644.9 394.1 655.3 393.7 654.9 409.1 639.7 402.4 643.6 401.2 642.1 393.8 654.5 400.6 640.0 414.3 645.2 404.0 640.1 403.6 643.9 401.4 642.1 411.8 635.1 407.5 641.1 393.6 655.7 393.8 653.3 412.9 634.7 405.1 641.1 430.3 628.4 399.0 646.6 406.8 641.6 415.6 632.7 395.7 651.4 413.7 640.6 410.3 638.7 417.6 636.1 393.6 655.0 414.0 631.5 392.4 656.7 402.1 641.4 414.8 640.9 402.7 633.3 396.6 649.0 393.0 654.8 449.3 625.5 406.6 634.3 409.5 639.6 399.0 648.0 404.1 638.9 404.1 637.6 436.6 627.3 404.6 644.6 412.9 636.0 408.4 635.5 395.4 652.2 417.1 634.1 409.5 635.5 398.9 646.2 404.9 641.4 405.7 637.4 401.5 640.3 404.5 641.2 392.8 656.6 417.6 633.9 402.6 639.9 408.6 641.8 393.3 652.9 401.4 644.8 399.7 646.3 455.8 601.1 447.5 625.7 411.5 638.2 397.0 646.1 393.9 650.8 409.4 635.2 407.8 639.5 398.3 646.8 405.5 640.5 435.3 622.3 404.7 643.2 399.1 643.3 421.0 637.1 416.2 632.7 414.0 637.3 396.5 649.1 394.1 654.7 423.3 630.1 407.8 634.8 403.1 635.0 414.9 637.4 396.0 647.5 398.4 647.2 440.6 626.3 419.6 623.2 439.0 622.2 392.4 656.7 405.4 643.8 430.3 631.8 421.0 634.9 421.2 637.3 415.1 633.7 402.0 644.9 412.4 636.4 392.9 655.8 433.3 630.6 398.5 645.3 406.2 636.5 403.1 641.3 393.6 653.5 426.6 628.5 394.0 653.7 395.6 649.7 425.2 633.5 415.2 628.5 410.4 642.8 398.0 646.4 409.7 635.9 403.4 642.0 392.2 656.9 410.4 636.5 471.7 613.8 401.6 642.7 463.6 633.3 408.2 634.4 400.1 646.4 400.8 639.1 407.1 641.0 397.9 642.8 399.1 646.8 411.7 630.1 407.4 642.6 406.3 635.8 395.2 652.0 409.2 641.5 414.6 629.3 405.6 634.1 400.8 644.3 418.1 635.8 393.7 654.6 401.5 640.8 397.0 649.9 402.4 643.6 402.3 638.2 395.6 652.6 408.2 635.6 413.9 637.1 400.3 646.7 425.0 634.1 392.0 657.2 407.4 639.9 408.0 636.4 398.5 645.4 405.6 638.4 405.9 639.5 412.2 638.3 401.2 642.8 392.8 655.3 396.6 647.1 430.8 632.3 432.8 634.3 439.9 620.9 396.6 650.7 392.3 657.1 403.3 645.6 420.2 635.8 405.4 639.4 451.0 622.4 409.0 636.3 406.4 637.9 410.2 636.3 432.0 623.9 408.3 638.1 401.7 641.7 410.0 638.5 402.3 642.3 405.1 643.5 400.3 641.1 453.2 628.9 399.2 644.7 395.4 653.1 444.1 622.5 402.8 642.7 393.0 654.4 402.6 642.4 407.1 635.9 434.0 627.6 397.3 649.5 393.1 655.4" fill="none" stroke="none" marker-start="url(#m1)" marker-mid="url(#m1)" marker-end="url(#m1)"/>
<path d="M396.1 650.1 395.8 651.4 393.5 655.7 396.2 652.1 399.9 644.0 392.5 657.1 397.6 648.7 393.7 655.2 406.7 632.3 414.1 630.8 400.4 640.7 394.7 655.3 397.0 649.6 400.7 641.3 395.2 653.4 400.9 640.2 395.2 651.1 395.8 650.1 392.2 656.1 400.8 640.9 395.6 651.2 398.8 647.0 395.6 652.1 394.4 654.0 395.6 651.7" fill="none" stroke="none" marker-start="url(#m2)" marker-mid="url(#m2)" marker-end="url(#m2)"/>
<path d="M403.7 638.5 411.4 631.1 416.6 629.1 429.6 615.1 393.5 653.7 398.9 646.7 397.4 649.0 431.0 609.4 423.8 616.4 393.4 655.5 401.1 644.1 397.2 646.9 397.6 648.3 399.9 648.9 396.6 649.5 395.3 650.9 407.0 638.4 399.7 646.4 399.1 646.6 398.8 646.4" fill="none" stroke="none" marker-start="url(#m0)" marker-mid="url(#m0)" marker-end="url(#m0)"/>
<path d="M406.0 637.0 397.7 648.2 411.6 633.9 399.6 650.4 438.8 618.7 415.7 639.1 400.0 647.5 393.2 656.1 420.2 630.3 401.5 645.3 415.3 635.8 418.5 649.9 398.7 647.0 399.6 645.0 402.5 639.9 427.0 635.1 396.9 651.2 412.4 638.0 395.0 651.2 432.0 630.7 402.5 636.2 400.5 645.6 412.8 640.4 401.3 637.9 396.1 649.2 409.0 639.0 398.5 642.7 395.7 654.1 409.3 634.3 407.8 639.9 395.3 649.3 411.1 636.9 392.7 655.9 398.0 649.0 411.3 635.3 399.9 647.5 405.2 638.7 406.5 633.6 405.0 635.7 436.4 619.3 430.4 619.4 407.5 637.5 406.3 654.9 396.1 652.3 397.3 649.1 398.8 646.3 413.9 638.5 422.4 626.3 431.2 616.6 417.2 632.8 406.2 639.9 392.3 657.2 405.0 640.7 413.6 638.9 401.1 641.5 467.1 637.2 403.4 640.8 398.0 648.9 410.6 634.2 414.7 633.8 425.5 629.6 404.8 640.7 413.7 642.3 402.1 641.1 398.7 646.9 401.5 644.8 394.9 651.9 425.5 630.4 402.0 644.0 402.9 640.8 416.8 634.7 408.0 644.1 402.2 642.9 407.9 634.1 393.2 655.8 412.1 638.1 414.4 632.1 413.7 639.3 395.3 650.3 418.1 635.0 404.5 640.2 412.6 637.8 396.2 650.3 395.9 651.9 397.1 651.2 421.8 635.2 399.7 644.7 407.4 639.5 399.3 646.1 392.4 657.3 413.7 638.7 440.6 626.9 397.1 652.1 392.5 656.0 402.8 645.1 393.6 654.5 396.0 648.9 402.4 643.8 392.5 656.6 408.1 639.4 397.7 648.2 406.7 633.5 393.4 653.3 392.6 655.9 392.6 656.0 409.9 633.0 409.3 640.6 408.0 635.0 396.4 650.4 394.9 651.7 399.6 644.6 419.1 624.8 393.3 655.6 400.0 642.8 431.3 631.7 401.5 644.8 416.1 632.9 394.7 652.6 403.1 638.2 402.4 644.8 431.4 619.6 398.3 647.7 402.5 640.0 409.1 637.3 403.0 648.3 407.8 636.2 400.9 647.4 395.1 652.7 401.8 639.1 430.7 623.6 402.3 644.1 417.7 633.1 435.4 626.5 405.5 641.0 392.9 654.1 504.7 593.2 448.5 635.2 393.1 656.3 412.3 633.5 397.8 647.5 397.0 648.7 408.3 641.0 448.3 623.6 407.1 638.1 392.6 657.2 392.4 656.4 396.7 648.9 412.1 641.6 407.4 634.9 416.4 626.3 397.7 651.2 393.0 656.0 406.4 640.1 404.4 636.5 409.4 637.8 423.2 635.0 398.1 647.4 444.2 614.0 408.4 653.6 395.2 650.2 425.5 627.6 457.4 625.9 395.7 649.9 392.6 655.8 411.7 640.6 402.0 641.4 395.6 651.3 395.3 649.2 402.8 640.0 399.5 641.7 399.5 645.4 415.4 620.7 494.2 632.5 453.1 614.7 396.2 648.7 492.1 633.5 411.5 645.9 393.5 654.6 392.5 655.8 408.2 641.5 398.9 645.5 410.5 642.3 402.8 640.6 422.2 634.1 416.5 637.5 400.9 645.0 410.3 633.7 406.5 638.5 404.2 642.1 405.8 634.2 410.0 638.3 420.3 634.1 401.3 642.4 398.3 651.7 410.9 639.5 394.4 652.1 411.6 634.7 409.6 633.8 394.6 648.4 401.4 643.7 394.9 654.5 396.9 644.9 526.3 617.5 408.3 640.0 407.5 644.0 393.0 655.7 405.2 645.4 408.6 638.6 400.8 646.2 428.1 615.9 393.4 655.9 392.9 655.6 407.0 638.9 419.2 634.9 398.4 646.3 408.8 638.9 458.8 631.8 406.3 641.5 404.0 637.6 407.4 637.5 427.3 626.0 395.5 652.7 403.7 634.0 394.1 654.9 418.5 637.8 449.8 623.8 393.1 656.5 409.8 636.4 395.2 654.1 405.3 639.4 397.4 646.9 402.9 644.7 393.6 654.3 399.4 644.5 412.6 634.2 402.5 640.3 395.3 649.9 404.7 639.5 399.1 640.5 397.2 648.7 401.7 644.3 405.3 637.4" fill="none" stroke="none" marker-start="url(#m1)" marker-mid="url(#m1)" marker-end="url(#m1)"/>
<path d="M395.5 650.9 400.0 641.7 407.3 635.2 404.9 637.2 393.8 654.6 397.7 646.5 398.3 648.2 393.5 656.3 393.6 656.4 394.6 653.8 394.0 654.7 406.0 634.3 392.0 657.1 400.8 640.6 432.9 622.1 394.2 654.4 396.7 649.2 399.2 645.3 397.0 649.6 397.9 646.6 393.7 656.1 400.6 640.8 393.7 655.1 396.6 648.8 394.4 653.5" fill="none" stroke="none" marker-start="url(#m2)" marker-mid="url(#m2)" marker-end="url(#m2)"/>
<path d="M443.8 610.8 396.8 649.6 392.5 657.1 417.2 634.4 402.2 636.4 414.7 634.5 431.7 607.3 403.1 645.4 397.3 647.2 393.9 654.0 396.1 650.6 398.4 647.8 395.1 652.1 428.7 607.0 447.8 613.2 410.3 638.3 410.5 641.7 396.8 651.6 394.2 653.0" fill="none" stroke="none" marker-start="url(#m0)" marker-mid="url(#m0)" marker-end="url(#m0)"/>
<path d="M394.0 652.3 395.5 652.0 400.7 643.3 401.6 649.3 401.6 641.9 432.1 613.8 443.3 621.1 444.9 625.6 413.6 637.9 407.0 636.9 394.7 653.0 419.7 630.8 408.6 634.8 393.8 655.4 414.7 636.5 399.1 643.1 394.6 652.5 419.8 632.8 404.1 642.4 404.2 640.4 393.9 654.0 409.8 636.6 445.7 623.4 398.8 643.4 395.8 651.8 401.5 646.7 408.3 638.8 413.4 635.9 404.7 641.3 397.5 648.9 403.9 640.4 406.1 641.8 411.4 639.8 399.6 645.3 393.3 656.8 397.0 649.2 405.1 642.6 402.1 638.4 462.4 636.1 395.5 650.1 402.3 641.3 415.3 633.8 414.7 637.5 392.6 656.8 395.4 651.4 408.9 642.0 431.3 620.5 396.0 649.6 408.1 638.9 395.0 650.3 408.8 633.4 404.0 643.3 401.0 646.6 402.1 641.9 420.0 634.2 401.9 645.1 403.9 643.4 394.3 652.4 407.6 631.1 394.7 650.9 411.0 641.4 406.2 637.9 404.3 646.6 490.6 635.9 419.2 625.4 399.7 641.7 405.6 637.4 408.1 636.3 418.6 631.5 392.8 655.1 418.2 636.1 405.7 641.3 394.0 654.0 412.2 630.6 401.1 642.6 417.0 631.6 407.1 639.7 399.3 647.2 407.0 642.3 428.5 619.0 400.5 648.4 392.7 655.0 401.5 645.7 397.8 648.7 408.3 634.4 496.2 633.1 402.7 635.6 393.1 655.7 394.7 652.3 403.3 640.0 393.4 654.7 420.3 629.2 395.7 651.8 405.8 641.6 407.6 639.1 396.6 649.3 421.4 635.4 404.3 640.6 404.1 634.8 405.2 633.5 408.2 637.8 410.2 639.5 401.5 644.7 405.2 637.6 397.0 650.2 395.3 650.1 417.8 628.4 393.7 655.3 402.2 642.5 409.6 637.4 398.2 649.6 397.3 649.8 407.3 636.2 413.5 630.2 398.5 646.3 404.6 635.1 410.5 634.1 406.0 634.9 396.2 649.8 410.7 640.4 404.7 643.6 433.2 629.1 406.4 635.5 403.6 645.2 429.7 648.8 394.2 655.3 396.6 648.0 408.7 631.4 392.6 657.0 396.1 650.7 410.8 640.1 397.8 646.0 408.5 638.6 395.2 653.1 393.1 655.6 392.6 656.9 395.3 650.1 394.2 653.8 393.6 655.0 392.5 656.6 412.3 638.2 397.8 648.5 407.9 634.2 394.9 650.5 409.5 636.0 393.0 655.1 414.6 639.0 393.7 655.3 403.6 639.9 402.3 643.2 411.0 631.3 403.4 647.4 400.8 644.7 393.9 653.6 413.5 634.2 405.6 639.1 398.7 644.3 393.4 655.6 405.2 635.9 432.5 620.5 392.3 656.4 413.2 634.9 396.1 649.1 402.9 641.3 406.4 637.3 406.1 636.6 405.7 638.3 399.2 647.9 404.8 637.6 406.0 639.5 433.0 632.7 402.5 647.3 407.0 642.0 394.5 653.4 394.4 653.8 394.9 653.6 412.2 635.5 393.0 656.1 393.9 653.5 403.7 638.8 410.8 642.1 393.6 653.4 397.8 646.7 406.5 637.9 398.7 647.1 417.4 636.4 422.6 634.6 399.9 644.6 447.1 613.8 392.4 656.9 403.5 642.8 421.3 621.2 392.3 657.0 406.2 639.9 415.2 638.6 455.5 621.4 394.1 654.8 402.1 638.1 410.5 635.4 399.9 645.5 410.5 635.2 403.7 642.8 399.1 649.4 411.3 633.1 405.0 644.9 394.1 654.6 397.4 647.1 402.0 643.5 394.7 653.6 410.0 643.1 410.8 637.0 396.6 647.2 398.8 645.8 418.8 633.2 396.7 648.9 406.8 638.6 402.0 645.2 392.9 655.5 403.3 643.6 420.3 627.9 420.8 630.0 406.9 634.8 414.2 641.4 409.2 638.2 400.3 643.7 413.3 634.8 416.5 634.3 413.2 635.5 503.0 628.4 412.3 641.2 413.2 635.8 412.5 640.4 411.0 632.7 399.6 646.7 417.0 622.4 409.2 639.8 392.5 655.2 392.3 657.2 393.3 655.9 407.5 637.7 475.2 640.9 413.9 636.5" fill="none" stroke="none" marker-start="url(#m1)" marker-mid="url(#m1)" marker-end="url(#m1)"/>
<path d="M416.1 628.2 436.2 627.0 395.5 653.1 398.9 644.7 418.5 625.1 395.4 651.7 399.9 643.4 419.0 629.7 392.2 656.5 413.9 629.7 398.7 645.8 395.8 651.3 412.3 630.0 396.8 649.2 394.6 653.7 412.7 630.9 408.3 630.3 417.0 632.6 450.0 623.6 413.9 631.9 395.2 654.3 395.8 651.9 413.4 640.0 417.9 627.4" fill="none" stroke="none" marker-start="url(#m2)" marker-mid="url(#m2)" marker-end="url(#m2)"/>
<path d="M28.4,589.9V661.2H178.2" fill="none" stroke="#333" stroke-width="0.85"/>
<path d="M26.6,657.8H28.4" stroke="#333" stroke-width="0.6"/>
<text x="25.8" y="657.8" font-size="5.0" text-anchor="end" font-weight="normal" fill="#454545" dominant-baseline="central">0</text>
<path d="M26.6,641.57H28.4" stroke="#333" stroke-width="0.6"/>
<text x="25.8" y="641.57" font-size="5.0" text-anchor="end" font-weight="normal" fill="#454545" dominant-baseline="central">25</text>
<path d="M26.6,625.35H28.4" stroke="#333" stroke-width="0.6"/>
<text x="25.8" y="625.35" font-size="5.0" text-anchor="end" font-weight="normal" fill="#454545" dominant-baseline="central">50</text>
<path d="M26.6,609.12H28.4" stroke="#333" stroke-width="0.6"/>
<text x="25.8" y="609.12" font-size="5.0" text-anchor="end" font-weight="normal" fill="#454545" dominant-baseline="central">75</text>
<path d="M26.6,592.9H28.4" stroke="#333" stroke-width="0.6"/>
<text x="25.8" y="592.9" font-size="5.0" text-anchor="end" font-weight="normal" fill="#454545" dominant-baseline="central">100</text>
<path d="M29.2,661.2V663" stroke="#333" stroke-width="0.6"/>
<text x="29.2" y="666.1" font-size="5.0" text-anchor="middle" font-weight="normal" fill="#454545" dominant-baseline="central">0</text>
<path d="M64.2,661.2V663" stroke="#333" stroke-width="0.6"/>
<text x="64.2" y="666.1" font-size="5.0" text-anchor="middle" font-weight="normal" fill="#454545" dominant-baseline="central">1000</text>
<path d="M99.2,661.2V663" stroke="#333" stroke-width="0.6"/>
<text x="99.2" y="666.1" font-size="5.0" text-anchor="middle" font-weight="normal" fill="#454545" dominant-baseline="central">2000</text>
<path d="M134.2,661.2V663" stroke="#333" stroke-width="0.6"/>
<text x="134.2" y="666.1" font-size="5.0" text-anchor="middle" font-weight="normal" fill="#454545" dominant-baseline="central">3000</text>
<path d="M169.2,661.2V663" stroke="#333" stroke-width="0.6"/>
<text x="169.2" y="666.1" font-size="5.0" text-anchor="middle" font-weight="normal" fill="#454545" dominant-baseline="central">4000</text>
<text x="104.4" y="673.6" font-size="7.25" text-anchor="middle" font-weight="bold" fill="#000" dominant-baseline="central" stroke="#000" stroke-width="0.22">nFeature_RNA</text>
<text x="0" y="0" transform="translate(11.4,625.55) rotate(-90)" font-size="7.25" text-anchor="middle" font-weight="bold" fill="#000" dominant-baseline="central" stroke="#000" stroke-width="0.22">percent.mt</text>
<path d="M205.6,589.9V661.2H354" fill="none" stroke="#333" stroke-width="0.85"/>
<path d="M203.8,657.8H205.6" stroke="#333" stroke-width="0.6"/>
<text x="203" y="657.8" font-size="5.0" text-anchor="end" font-weight="normal" fill="#454545" dominant-baseline="central">0</text>
<path d="M203.8,641.57H205.6" stroke="#333" stroke-width="0.6"/>
<text x="203" y="641.57" font-size="5.0" text-anchor="end" font-weight="normal" fill="#454545" dominant-baseline="central">25</text>
<path d="M203.8,625.35H205.6" stroke="#333" stroke-width="0.6"/>
<text x="203" y="625.35" font-size="5.0" text-anchor="end" font-weight="normal" fill="#454545" dominant-baseline="central">50</text>
<path d="M203.8,609.12H205.6" stroke="#333" stroke-width="0.6"/>
<text x="203" y="609.12" font-size="5.0" text-anchor="end" font-weight="normal" fill="#454545" dominant-baseline="central">75</text>
<path d="M203.8,592.9H205.6" stroke="#333" stroke-width="0.6"/>
<text x="203" y="592.9" font-size="5.0" text-anchor="end" font-weight="normal" fill="#454545" dominant-baseline="central">100</text>
<path d="M206.8,661.2V663" stroke="#333" stroke-width="0.6"/>
<text x="206.8" y="666.1" font-size="5.0" text-anchor="middle" font-weight="normal" fill="#454545" dominant-baseline="central">0</text>
<path d="M241.2,661.2V663" stroke="#333" stroke-width="0.6"/>
<text x="241.2" y="666.1" font-size="5.0" text-anchor="middle" font-weight="normal" fill="#454545" dominant-baseline="central">1000</text>
<path d="M275.6,661.2V663" stroke="#333" stroke-width="0.6"/>
<text x="275.6" y="666.1" font-size="5.0" text-anchor="middle" font-weight="normal" fill="#454545" dominant-baseline="central">2000</text>
<path d="M310,661.2V663" stroke="#333" stroke-width="0.6"/>
<text x="310" y="666.1" font-size="5.0" text-anchor="middle" font-weight="normal" fill="#454545" dominant-baseline="central">3000</text>
<path d="M344.4,661.2V663" stroke="#333" stroke-width="0.6"/>
<text x="344.4" y="666.1" font-size="5.0" text-anchor="middle" font-weight="normal" fill="#454545" dominant-baseline="central">4000</text>
<text x="279.8" y="673.6" font-size="7.25" text-anchor="middle" font-weight="bold" fill="#000" dominant-baseline="central" stroke="#000" stroke-width="0.22">nFeature_RNA</text>
<text x="0" y="0" transform="translate(188.2,625.55) rotate(-90)" font-size="7.25" text-anchor="middle" font-weight="bold" fill="#000" dominant-baseline="central" stroke="#000" stroke-width="0.22">percent.ribo</text>
<path d="M385.6,589.9V661.2H533.1" fill="none" stroke="#333" stroke-width="0.85"/>
<path d="M383.8,660.6H385.6" stroke="#333" stroke-width="0.6"/>
<text x="383" y="660.6" font-size="5.0" text-anchor="end" font-weight="normal" fill="#454545" dominant-baseline="central">0</text>
<path d="M383.8,644.15H385.6" stroke="#333" stroke-width="0.6"/>
<text x="383" y="644.15" font-size="5.0" text-anchor="end" font-weight="normal" fill="#454545" dominant-baseline="central">1000</text>
<path d="M383.8,627.7H385.6" stroke="#333" stroke-width="0.6"/>
<text x="383" y="627.7" font-size="5.0" text-anchor="end" font-weight="normal" fill="#454545" dominant-baseline="central">2000</text>
<path d="M383.8,611.25H385.6" stroke="#333" stroke-width="0.6"/>
<text x="383" y="611.25" font-size="5.0" text-anchor="end" font-weight="normal" fill="#454545" dominant-baseline="central">3000</text>
<path d="M383.8,594.8H385.6" stroke="#333" stroke-width="0.6"/>
<text x="383" y="594.8" font-size="5.0" text-anchor="end" font-weight="normal" fill="#454545" dominant-baseline="central">4000</text>
<path d="M391.4,661.2V663" stroke="#333" stroke-width="0.6"/>
<text x="391.4" y="666.1" font-size="5.0" text-anchor="middle" font-weight="normal" fill="#454545" dominant-baseline="central">0</text>
<path d="M435.5,661.2V663" stroke="#333" stroke-width="0.6"/>
<text x="435.5" y="666.1" font-size="5.0" text-anchor="middle" font-weight="normal" fill="#454545" dominant-baseline="central">10,000</text>
<path d="M479.6,661.2V663" stroke="#333" stroke-width="0.6"/>
<text x="479.6" y="666.1" font-size="5.0" text-anchor="middle" font-weight="normal" fill="#454545" dominant-baseline="central">20,000</text>
<path d="M523.7,661.2V663" stroke="#333" stroke-width="0.6"/>
<text x="523.7" y="666.1" font-size="5.0" text-anchor="middle" font-weight="normal" fill="#454545" dominant-baseline="central">30,000</text>
<text x="459.35" y="673.6" font-size="7.25" text-anchor="middle" font-weight="bold" fill="#000" dominant-baseline="central" stroke="#000" stroke-width="0.22">nCount_RNA</text>
<text x="0" y="0" transform="translate(365.4,625.55) rotate(-90)" font-size="7.25" text-anchor="middle" font-weight="bold" fill="#000" dominant-baseline="central" stroke="#000" stroke-width="0.22">nFeature_RNA</text>
</g></svg></body></html>
